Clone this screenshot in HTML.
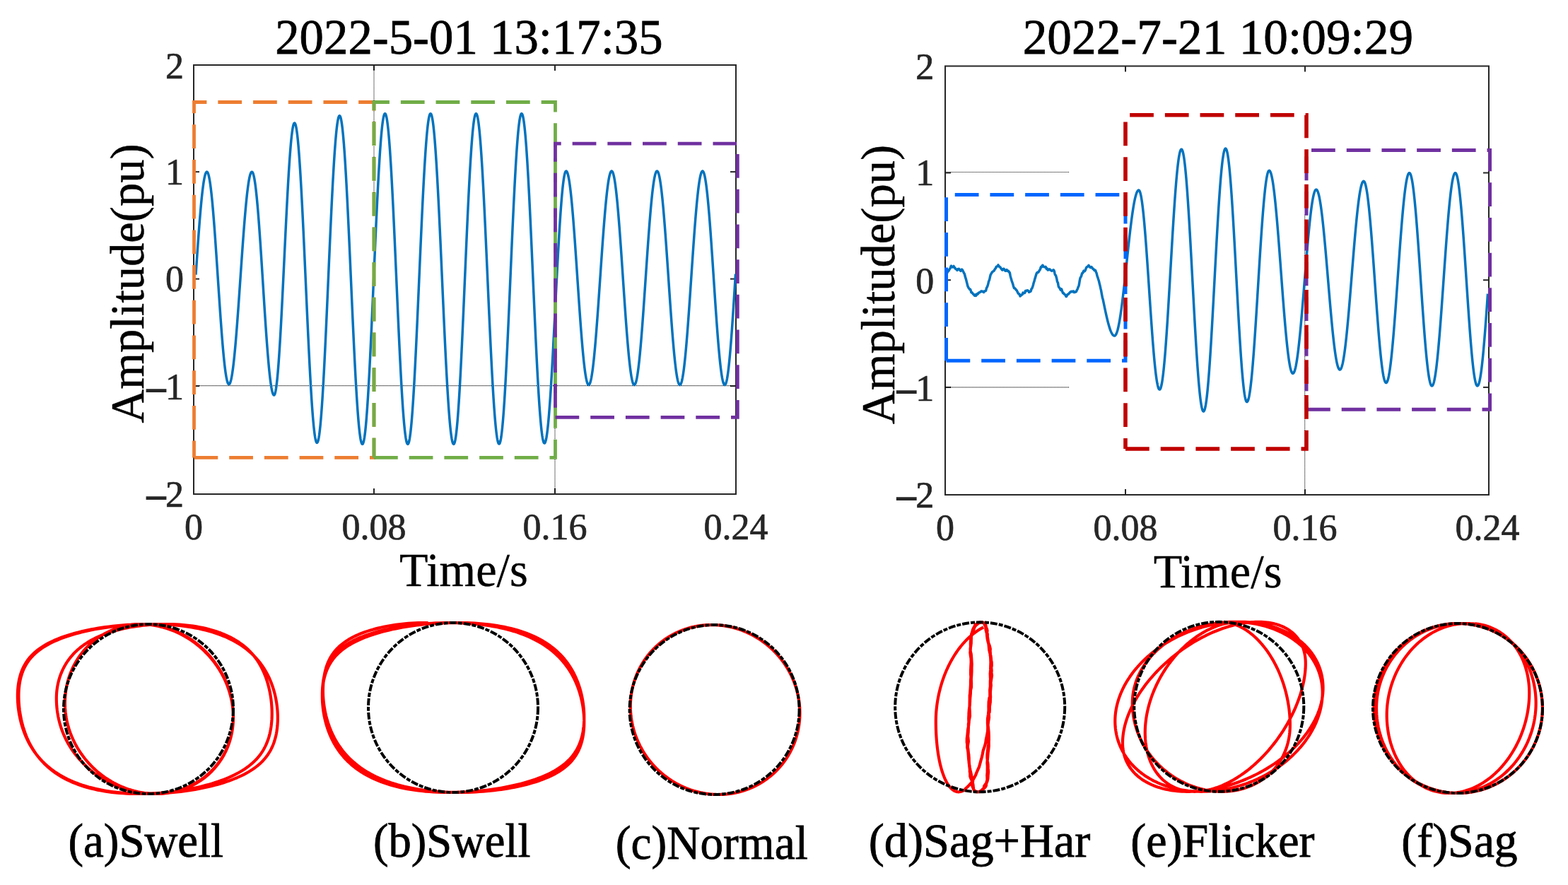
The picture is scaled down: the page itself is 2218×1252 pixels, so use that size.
<!DOCTYPE html>
<html><head><meta charset="utf-8"><title>figure</title>
<style>html,body{margin:0;padding:0;background:#fff;}svg{display:block;}</style>
</head><body>
<svg width="2218" height="1252" viewBox="0 0 2218 1252">
<rect width="2218" height="1252" fill="#fff"/>
<path d="M274 92 H1041 V699 H274 Z" fill="none" stroke="#262626" stroke-width="2" stroke-linejoin="miter"/>
<line x1="529" y1="699" x2="529" y2="691" stroke="#262626" stroke-width="2"/>
<line x1="529" y1="92" x2="529" y2="100" stroke="#262626" stroke-width="2"/>
<line x1="785" y1="699" x2="785" y2="691" stroke="#262626" stroke-width="2"/>
<line x1="785" y1="92" x2="785" y2="100" stroke="#262626" stroke-width="2"/>
<line x1="274" y1="243.1" x2="282" y2="243.1" stroke="#262626" stroke-width="2"/>
<line x1="1041" y1="243.1" x2="1033" y2="243.1" stroke="#262626" stroke-width="2"/>
<line x1="274" y1="394.6" x2="282" y2="394.6" stroke="#262626" stroke-width="2"/>
<line x1="1041" y1="394.6" x2="1033" y2="394.6" stroke="#262626" stroke-width="2"/>
<line x1="274" y1="546.1" x2="282" y2="546.1" stroke="#262626" stroke-width="2"/>
<line x1="1041" y1="546.1" x2="1033" y2="546.1" stroke="#262626" stroke-width="2"/>
<path d="M1337 93.5 H2106 V700 H1337 Z" fill="none" stroke="#262626" stroke-width="2" stroke-linejoin="miter"/>
<line x1="1592" y1="700" x2="1592" y2="692" stroke="#262626" stroke-width="2"/>
<line x1="1592" y1="93.5" x2="1592" y2="101.5" stroke="#262626" stroke-width="2"/>
<line x1="1846" y1="700" x2="1846" y2="692" stroke="#262626" stroke-width="2"/>
<line x1="1846" y1="93.5" x2="1846" y2="101.5" stroke="#262626" stroke-width="2"/>
<line x1="1337" y1="244.5" x2="1345" y2="244.5" stroke="#262626" stroke-width="2"/>
<line x1="2106" y1="244.5" x2="2098" y2="244.5" stroke="#262626" stroke-width="2"/>
<line x1="1337" y1="396.2" x2="1345" y2="396.2" stroke="#262626" stroke-width="2"/>
<line x1="2106" y1="396.2" x2="2098" y2="396.2" stroke="#262626" stroke-width="2"/>
<line x1="1337" y1="547.9" x2="1345" y2="547.9" stroke="#262626" stroke-width="2"/>
<line x1="2106" y1="547.9" x2="2098" y2="547.9" stroke="#262626" stroke-width="2"/>
<line x1="274" y1="545.6" x2="1041" y2="545.6" stroke="#000" stroke-width="1.1" stroke-dasharray="1 1"/>
<line x1="529" y1="93" x2="529" y2="290" stroke="#000" stroke-width="1.1" stroke-dasharray="1 1"/>
<line x1="785" y1="600" x2="785" y2="698" stroke="#000" stroke-width="1.1" stroke-dasharray="1 1"/>
<path d="M277 388.65 L277.5 381.23 L278 373.84 L278.5 366.5 L279 359.23 L279.5 352.05 L280 344.96 L280.5 338 L281 331.17 L281.5 324.5 L282 317.99 L282.5 311.67 L283 305.55 L283.5 299.64 L284 293.97 L284.5 288.53 L285 283.35 L285.5 278.44 L286 273.81 L286.5 269.46 L287 265.43 L287.5 261.7 L288 258.29 L288.5 255.21 L289 252.46 L289.5 250.06 L290 248.01 L290.5 246.31 L291 244.97 L291.5 243.98 L292 243.36 L292.5 243.11 L293 243.22 L293.5 243.72 L294 244.59 L294.5 245.84 L295 247.47 L295.5 249.46 L296 251.82 L296.5 254.54 L297 257.61 L297.5 261.02 L298 264.77 L298.5 268.85 L299 273.24 L299.5 277.94 L300 282.93 L300.5 288.19 L301 293.73 L301.5 299.52 L302 305.54 L302.5 311.79 L303 318.24 L303.5 324.89 L304 331.71 L304.5 338.68 L305 345.8 L305.5 353.03 L306 360.37 L306.5 367.79 L307 375.27 L307.5 382.8 L308 390.36 L308.5 397.93 L309 405.48 L309.5 413 L310 420.48 L310.5 427.88 L311 435.2 L311.5 442.41 L312 449.5 L312.5 456.44 L313 463.23 L313.5 469.84 L314 476.25 L314.5 482.46 L315 488.44 L315.5 494.18 L316 499.66 L316.5 504.87 L317 509.8 L317.5 514.44 L318 518.77 L318.5 522.78 L319 526.46 L319.5 529.81 L320 532.81 L320.5 535.46 L321 537.74 L321.5 539.66 L322 541.21 L322.5 542.39 L323 543.19 L323.5 543.61 L324 543.65 L324.5 543.33 L325 542.67 L325.5 541.65 L326 540.29 L326.5 538.59 L327 536.54 L327.5 534.17 L328 531.46 L328.5 528.43 L329 525.09 L329.5 521.43 L330 517.48 L330.5 513.24 L331 508.72 L331.5 503.93 L332 498.88 L332.5 493.59 L333 488.06 L333.5 482.31 L334 476.35 L334.5 470.2 L335 463.87 L335.5 457.38 L336 450.73 L336.5 443.95 L337 437.06 L337.5 430.06 L338 422.97 L338.5 415.82 L339 408.62 L339.5 401.37 L340 394.11 L340.5 386.85 L341 379.61 L341.5 372.39 L342 365.23 L342.5 358.13 L343 351.11 L343.5 344.19 L344 337.39 L344.5 330.72 L345 324.19 L345.5 317.83 L346 311.64 L346.5 305.64 L347 299.85 L347.5 294.27 L348 288.93 L348.5 283.83 L349 278.99 L349.5 274.41 L350 270.12 L350.5 266.11 L351 262.4 L351.5 258.99 L352 255.9 L352.5 253.13 L353 250.68 L353.5 248.57 L354 246.8 L354.5 245.37 L355 244.29 L355.5 243.55 L356 243.16 L356.5 243.13 L357 243.49 L357.5 244.24 L358 245.39 L358.5 246.93 L359 248.86 L359.5 251.18 L360 253.87 L360.5 256.93 L361 260.35 L361.5 264.13 L362 268.25 L362.5 272.71 L363 277.49 L363.5 282.58 L364 287.97 L364.5 293.64 L365 299.59 L365.5 305.78 L366 312.22 L366.5 318.89 L367 325.76 L367.5 332.82 L368 340.05 L368.5 347.43 L369 354.95 L369.5 362.59 L370 370.32 L370.5 378.13 L371 386 L371.5 393.91 L372 401.83 L372.5 409.75 L373 417.65 L373.5 425.51 L374 433.31 L374.5 441.02 L375 448.64 L375.5 456.13 L376 463.49 L376.5 470.69 L377 477.71 L377.5 484.54 L378 491.16 L378.5 497.55 L379 503.7 L379.5 509.59 L380 515.21 L380.5 520.54 L381 525.57 L381.5 530.29 L382 534.68 L382.5 538.73 L383 542.44 L383.5 545.79 L384 548.78 L384.5 551.39 L385 553.63 L385.5 555.48 L386 556.95 L386.5 558.02 L387 558.69 L387.5 558.97 L388 558.8 L388.5 558.06 L389 556.77 L389.5 554.91 L390 552.51 L390.5 549.56 L391 546.07 L391.5 542.05 L392 537.52 L392.5 532.49 L393 526.97 L393.5 520.98 L394 514.54 L394.5 507.66 L395 500.37 L395.5 492.69 L396 484.63 L396.5 476.23 L397 467.51 L397.5 458.49 L398 449.2 L398.5 439.67 L399 429.93 L399.5 420 L400 409.91 L400.5 399.69 L401 389.38 L401.5 379 L402 368.58 L402.5 358.16 L403 347.76 L403.5 337.42 L404 327.16 L404.5 317.01 L405 307.02 L405.5 297.19 L406 287.57 L406.5 278.18 L407 269.06 L407.5 260.21 L408 251.68 L408.5 243.48 L409 235.65 L409.5 228.2 L410 221.15 L410.5 214.54 L411 208.36 L411.5 202.65 L412 197.42 L412.5 192.69 L413 188.47 L413.5 184.77 L414 181.6 L414.5 178.98 L415 176.9 L415.5 175.38 L416 174.42 L416.5 174.03 L417 174.19 L417.5 174.91 L418 176.18 L418.5 177.99 L419 180.34 L419.5 183.24 L420 186.66 L420.5 190.6 L421 195.05 L421.5 200 L422 205.45 L422.5 211.36 L423 217.74 L423.5 224.56 L424 231.82 L424.5 239.48 L425 247.53 L425.5 255.96 L426 264.74 L426.5 273.85 L427 283.26 L427.5 292.97 L428 302.93 L428.5 313.13 L429 323.54 L429.5 334.15 L430 344.91 L430.5 355.8 L431 366.81 L431.5 377.9 L432 389.04 L432.5 400.21 L433 411.37 L433.5 422.51 L434 433.6 L434.5 444.61 L435 455.5 L435.5 466.27 L436 476.87 L436.5 487.28 L437 497.48 L437.5 507.45 L438 517.15 L438.5 526.57 L439 535.67 L439.5 544.45 L440 552.88 L440.5 560.93 L441 568.6 L441.5 575.85 L442 582.67 L442.5 589.05 L443 594.96 L443.5 600.41 L444 605.36 L444.5 609.81 L445 613.75 L445.5 617.18 L446 620.07 L446.5 622.42 L447 624.24 L447.5 625.5 L448 626.22 L448.5 626.38 L449 625.99 L449.5 625.04 L450 623.53 L450.5 621.47 L451 618.85 L451.5 615.7 L452 612.01 L452.5 607.79 L453 603.06 L453.5 597.82 L454 592.1 L454.5 585.89 L455 579.22 L455.5 572.11 L456 564.57 L456.5 556.61 L457 548.26 L457.5 539.55 L458 530.48 L458.5 521.08 L459 511.38 L459.5 501.4 L460 491.16 L460.5 480.68 L461 470 L461.5 459.14 L462 448.12 L462.5 436.97 L463 425.72 L463.5 414.4 L464 403.03 L464.5 391.64 L465 380.26 L465.5 368.91 L466 357.63 L466.5 346.44 L467 335.36 L467.5 324.43 L468 313.68 L468.5 303.12 L469 292.78 L469.5 282.69 L470 272.87 L470.5 263.35 L471 254.15 L471.5 245.29 L472 236.79 L472.5 228.68 L473 220.97 L473.5 213.68 L474 206.83 L474.5 200.44 L475 194.52 L475.5 189.08 L476 184.15 L476.5 179.73 L477 175.82 L477.5 172.45 L478 169.62 L478.5 167.34 L479 165.61 L479.5 164.43 L480 163.81 L480.5 163.76 L481 164.25 L481.5 165.29 L482 166.88 L482.5 169.01 L483 171.68 L483.5 174.88 L484 178.6 L484.5 182.83 L485 187.57 L485.5 192.8 L486 198.51 L486.5 204.69 L487 211.32 L487.5 218.39 L488 225.88 L488.5 233.77 L489 242.04 L489.5 250.68 L490 259.66 L490.5 268.97 L491 278.57 L491.5 288.46 L492 298.59 L492.5 308.96 L493 319.54 L493.5 330.29 L494 341.2 L494.5 352.24 L495 363.38 L495.5 374.6 L496 385.87 L496.5 397.17 L497 408.46 L497.5 419.72 L498 430.93 L498.5 442.06 L499 453.07 L499.5 463.95 L500 474.67 L500.5 485.21 L501 495.53 L501.5 505.62 L502 515.45 L502.5 524.99 L503 534.24 L503.5 543.15 L504 551.72 L504.5 559.92 L505 567.73 L505.5 575.14 L506 582.12 L506.5 588.66 L507 594.75 L507.5 600.36 L508 605.5 L508.5 610.14 L509 614.27 L509.5 617.88 L510 620.98 L510.5 623.54 L511 625.56 L511.5 627.04 L512 627.97 L512.5 628.35 L513 628.18 L513.5 627.45 L514 626.16 L514.5 624.31 L515 621.9 L515.5 618.95 L516 615.46 L516.5 611.43 L517 606.88 L517.5 601.83 L518 596.27 L518.5 590.22 L519 583.7 L519.5 576.73 L520 569.32 L520.5 561.49 L521 553.26 L521.5 544.64 L522 535.66 L522.5 526.34 L523 516.71 L523.5 506.78 L524 496.57 L524.5 486.13 L525 475.46 L525.5 464.6 L526 453.57 L526.5 442.39 L527 431.1 L527.5 419.73 L528 408.29 L528.5 396.82 L529 385.34 L529.5 373.89 L530 362.49 L530.5 351.16 L531 339.94 L531.5 328.84 L532 317.91 L532.5 307.16 L533 296.62 L533.5 286.32 L534 276.28 L534.5 266.52 L535 257.08 L535.5 247.96 L536 239.2 L536.5 230.81 L537 222.81 L537.5 215.23 L538 208.08 L538.5 201.38 L539 195.14 L539.5 189.39 L540 184.13 L540.5 179.37 L541 175.14 L541.5 171.43 L542 168.26 L542.5 165.64 L543 163.56 L543.5 162.05 L544 161.09 L544.5 160.7 L545 160.86 L545.5 161.58 L546 162.86 L546.5 164.69 L547 167.07 L547.5 169.98 L548 173.43 L548.5 177.41 L549 181.9 L549.5 186.9 L550 192.39 L550.5 198.37 L551 204.81 L551.5 211.7 L552 219.03 L552.5 226.77 L553 234.92 L553.5 243.44 L554 252.32 L554.5 261.54 L555 271.08 L555.5 280.91 L556 291.01 L556.5 301.36 L557 311.93 L557.5 322.7 L558 333.63 L558.5 344.72 L559 355.92 L559.5 367.21 L560 378.57 L560.5 389.96 L561 401.37 L561.5 412.76 L562 424.1 L562.5 435.38 L563 446.56 L563.5 457.61 L564 468.52 L564.5 479.25 L565 489.77 L565.5 500.08 L566 510.12 L566.5 519.9 L567 529.38 L567.5 538.53 L568 547.34 L568.5 555.79 L569 563.86 L569.5 571.52 L570 578.76 L570.5 585.56 L571 591.91 L571.5 597.79 L572 603.19 L572.5 608.09 L573 612.48 L573.5 616.35 L574 619.69 L574.5 622.5 L575 624.77 L575.5 626.49 L576 627.65 L576.5 628.26 L577 628.32 L577.5 627.82 L578 626.76 L578.5 625.16 L579 623 L579.5 620.3 L580 617.06 L580.5 613.29 L581 609.01 L581.5 604.21 L582 598.91 L582.5 593.13 L583 586.87 L583.5 580.16 L584 573 L584.5 565.42 L585 557.44 L585.5 549.06 L586 540.32 L586.5 531.23 L587 521.82 L587.5 512.1 L588 502.11 L588.5 491.85 L589 481.37 L589.5 470.68 L590 459.81 L590.5 448.78 L591 437.62 L591.5 426.37 L592 415.03 L592.5 403.65 L593 392.24 L593.5 380.84 L594 369.48 L594.5 358.17 L595 346.95 L595.5 335.84 L596 324.87 L596.5 314.07 L597 303.46 L597.5 293.06 L598 282.91 L598.5 273.02 L599 263.43 L599.5 254.14 L600 245.19 L600.5 236.59 L601 228.37 L601.5 220.54 L602 213.13 L602.5 206.15 L603 199.62 L603.5 193.55 L604 187.96 L604.5 182.86 L605 178.27 L605.5 174.19 L606 170.63 L606.5 167.61 L607 165.12 L607.5 163.18 L608 161.8 L608.5 160.96 L609 160.68 L609.5 160.95 L610 161.76 L610.5 163.11 L611 164.99 L611.5 167.4 L612 170.33 L612.5 173.78 L613 177.74 L613.5 182.2 L614 187.15 L614.5 192.58 L615 198.47 L615.5 204.82 L616 211.6 L616.5 218.81 L617 226.42 L617.5 234.42 L618 242.79 L618.5 251.5 L619 260.55 L619.5 269.91 L620 279.56 L620.5 289.47 L621 299.62 L621.5 309.99 L622 320.56 L622.5 331.29 L623 342.18 L623.5 353.18 L624 364.28 L624.5 375.45 L625 386.66 L625.5 397.89 L626 409.12 L626.5 420.31 L627 431.44 L627.5 442.48 L628 453.42 L628.5 464.22 L629 474.85 L629.5 485.31 L630 495.55 L630.5 505.56 L631 515.31 L631.5 524.79 L632 533.96 L632.5 542.82 L633 551.33 L633.5 559.48 L634 567.25 L634.5 574.62 L635 581.57 L635.5 588.09 L636 594.17 L636.5 599.79 L637 604.93 L637.5 609.58 L638 613.75 L638.5 617.4 L639 620.54 L639.5 623.16 L640 625.25 L640.5 626.81 L641 627.84 L641.5 628.32 L642 628.26 L642.5 627.63 L643 626.43 L643.5 624.65 L644 622.32 L644.5 619.42 L645 615.97 L645.5 611.98 L646 607.45 L646.5 602.4 L647 596.84 L647.5 590.79 L648 584.25 L648.5 577.24 L649 569.79 L649.5 561.91 L650 553.62 L650.5 544.93 L651 535.88 L651.5 526.48 L652 516.75 L652.5 506.73 L653 496.43 L653.5 485.88 L654 475.11 L654.5 464.13 L655 452.99 L655.5 441.71 L656 430.3 L656.5 418.81 L657 407.26 L657.5 395.68 L658 384.1 L658.5 372.54 L659 361.04 L659.5 349.61 L660 338.3 L660.5 327.13 L661 316.12 L661.5 305.31 L662 294.71 L662.5 284.36 L663 274.28 L663.5 264.49 L664 255.02 L664.5 245.9 L665 237.14 L665.5 228.77 L666 220.8 L666.5 213.26 L667 206.16 L667.5 199.53 L668 193.38 L668.5 187.72 L669 182.57 L669.5 177.93 L670 173.83 L670.5 170.28 L671 167.27 L671.5 164.82 L672 162.93 L672.5 161.61 L673 160.87 L673.5 160.69 L674 161.07 L674.5 162 L675 163.46 L675.5 165.45 L676 167.98 L676.5 171.03 L677 174.61 L677.5 178.69 L678 183.27 L678.5 188.34 L679 193.9 L679.5 199.91 L680 206.38 L680.5 213.28 L681 220.61 L681.5 228.34 L682 236.45 L682.5 244.93 L683 253.76 L683.5 262.91 L684 272.37 L684.5 282.11 L685 292.11 L685.5 302.35 L686 312.8 L686.5 323.45 L687 334.25 L687.5 345.2 L688 356.26 L688.5 367.41 L689 378.62 L689.5 389.87 L690 401.13 L690.5 412.37 L691 423.57 L691.5 434.71 L692 445.75 L692.5 456.67 L693 467.44 L693.5 478.05 L694 488.46 L694.5 498.66 L695 508.61 L695.5 518.29 L696 527.69 L696.5 536.78 L697 545.54 L697.5 553.95 L698 561.99 L698.5 569.64 L699 576.88 L699.5 583.7 L700 590.07 L700.5 596 L701 601.45 L701.5 606.43 L702 610.91 L702.5 614.89 L703 618.36 L703.5 621.31 L704 623.73 L704.5 625.62 L705 626.98 L705.5 627.79 L706 628.06 L706.5 627.78 L707 626.92 L707.5 625.5 L708 623.51 L708.5 620.97 L709 617.87 L709.5 614.23 L710 610.05 L710.5 605.35 L711 600.13 L711.5 594.41 L712 588.2 L712.5 581.51 L713 574.37 L713.5 566.8 L714 558.8 L714.5 550.4 L715 541.62 L715.5 532.48 L716 523 L716.5 513.21 L717 503.13 L717.5 492.79 L718 482.2 L718.5 471.4 L719 460.41 L719.5 449.26 L720 437.98 L720.5 426.59 L721 415.12 L721.5 403.6 L722 392.06 L722.5 380.53 L723 369.03 L723.5 357.59 L724 346.24 L724.5 335.01 L725 323.92 L725.5 313 L726 302.28 L726.5 291.79 L727 281.55 L727.5 271.58 L728 261.91 L728.5 252.57 L729 243.57 L729.5 234.94 L730 226.7 L730.5 218.87 L731 211.46 L731.5 204.5 L732 198.01 L732.5 191.99 L733 186.47 L733.5 181.45 L734 176.96 L734.5 172.99 L735 169.57 L735.5 166.69 L736 164.37 L736.5 162.61 L737 161.41 L737.5 160.79 L738 160.73 L738.5 161.22 L739 162.27 L739.5 163.86 L740 166 L740.5 168.68 L741 171.89 L741.5 175.62 L742 179.87 L742.5 184.62 L743 189.87 L743.5 195.61 L744 201.81 L744.5 208.46 L745 215.56 L745.5 223.07 L746 230.99 L746.5 239.3 L747 247.96 L747.5 256.98 L748 266.32 L748.5 275.96 L749 285.87 L749.5 296.05 L750 306.45 L750.5 317.06 L751 327.86 L751.5 338.81 L752 349.89 L752.5 361.07 L753 372.33 L753.5 383.64 L754 394.98 L754.5 406.31 L755 417.61 L755.5 428.86 L756 440.02 L756.5 451.08 L757 462 L757.5 472.76 L758 483.33 L758.5 493.69 L759 503.82 L759.5 513.68 L760 523.26 L760.5 532.54 L761 541.48 L761.5 550.08 L762 558.31 L762.5 566.15 L763 573.58 L763.5 580.59 L764 587.15 L764.5 593.26 L765 598.9 L765.5 604.05 L766 608.71 L766.5 612.85 L767 616.48 L767.5 619.59 L768 622.15 L768.5 624.18 L769 625.67 L769.5 626.6 L770 626.99 L770.5 626.84 L771 626.19 L771.5 625.03 L772 623.37 L772.5 621.23 L773 618.59 L773.5 615.47 L774 611.87 L774.5 607.82 L775 603.31 L775.5 598.35 L776 592.97 L776.5 587.18 L777 580.98 L777.5 574.4 L778 567.46 L778.5 560.16 L779 552.54 L779.5 544.61 L780 536.39 L780.5 527.9 L781 519.17 L781.5 510.22 L782 501.07 L782.5 491.75 L783 482.27 L783.5 472.67 L784 462.98 L784.5 453.2 L785 443.38 L785.5 433.54 L786 423.69 L786.5 413.88 L787 404.12 L787.5 394.44 L788 384.86 L788.5 375.42 L789 366.12 L789.5 357.01 L790 348.1 L790.5 339.42 L791 330.99 L791.5 322.82 L792 314.95 L792.5 307.39 L793 300.17 L793.5 293.29 L794 286.79 L794.5 280.67 L795 274.96 L795.5 269.66 L796 264.8 L796.5 260.38 L797 256.41 L797.5 252.91 L798 249.89 L798.5 247.35 L799 245.3 L799.5 243.74 L800 242.68 L800.5 242.13 L801 242.07 L801.5 242.4 L802 243.09 L802.5 244.15 L803 245.58 L803.5 247.36 L804 249.49 L804.5 251.97 L805 254.8 L805.5 257.96 L806 261.45 L806.5 265.25 L807 269.37 L807.5 273.79 L808 278.5 L808.5 283.49 L809 288.74 L809.5 294.25 L810 300 L810.5 305.97 L811 312.16 L811.5 318.54 L812 325.1 L812.5 331.83 L813 338.71 L813.5 345.72 L814 352.84 L814.5 360.07 L815 367.37 L815.5 374.74 L816 382.15 L816.5 389.59 L817 397.04 L817.5 404.48 L818 411.89 L818.5 419.25 L819 426.56 L819.5 433.78 L820 440.91 L820.5 447.92 L821 454.8 L821.5 461.52 L822 468.09 L822.5 474.47 L823 480.65 L823.5 486.63 L824 492.37 L824.5 497.88 L825 503.14 L825.5 508.12 L826 512.83 L826.5 517.25 L827 521.37 L827.5 525.18 L828 528.67 L828.5 531.83 L829 534.65 L829.5 537.14 L830 539.27 L830.5 541.05 L831 542.47 L831.5 543.53 L832 544.23 L832.5 544.56 L833 544.52 L833.5 544.13 L834 543.39 L834.5 542.3 L835 540.86 L835.5 539.08 L836 536.95 L836.5 534.49 L837 531.7 L837.5 528.59 L838 525.16 L838.5 521.43 L839 517.39 L839.5 513.06 L840 508.46 L840.5 503.59 L841 498.45 L841.5 493.08 L842 487.47 L842.5 481.64 L843 475.6 L843.5 469.37 L844 462.96 L844.5 456.39 L845 449.68 L845.5 442.83 L846 435.87 L846.5 428.8 L847 421.66 L847.5 414.45 L848 407.18 L848.5 399.89 L849 392.58 L849.5 385.27 L850 377.98 L850.5 370.73 L851 363.53 L851.5 356.4 L852 349.36 L852.5 342.41 L853 335.59 L853.5 328.9 L854 322.37 L854.5 315.99 L855 309.8 L855.5 303.81 L856 298.02 L856.5 292.45 L857 287.12 L857.5 282.04 L858 277.22 L858.5 272.67 L859 268.4 L859.5 264.43 L860 260.75 L860.5 257.38 L861 254.34 L861.5 251.61 L862 249.22 L862.5 247.16 L863 245.45 L863.5 244.08 L864 243.06 L864.5 242.39 L865 242.07 L865.5 242.11 L866 242.51 L866.5 243.27 L867 244.4 L867.5 245.88 L868 247.72 L868.5 249.91 L869 252.44 L869.5 255.32 L870 258.53 L870.5 262.06 L871 265.91 L871.5 270.06 L872 274.52 L872.5 279.25 L873 284.27 L873.5 289.54 L874 295.07 L874.5 300.83 L875 306.82 L875.5 313.01 L876 319.4 L876.5 325.96 L877 332.69 L877.5 339.56 L878 346.57 L878.5 353.68 L879 360.89 L879.5 368.18 L880 375.53 L880.5 382.92 L881 390.34 L881.5 397.77 L882 405.18 L882.5 412.57 L883 419.91 L883.5 427.18 L884 434.37 L884.5 441.47 L885 448.45 L885.5 455.29 L886 461.99 L886.5 468.52 L887 474.87 L887.5 481.02 L888 486.96 L888.5 492.68 L889 498.16 L889.5 503.38 L890 508.34 L890.5 513.02 L891 517.42 L891.5 521.51 L892 525.3 L892.5 528.76 L893 531.91 L893.5 534.71 L894 537.18 L894.5 539.3 L895 541.07 L895.5 542.48 L896 543.54 L896.5 544.23 L897 544.56 L897.5 544.52 L898 544.12 L898.5 543.37 L899 542.26 L899.5 540.79 L900 538.98 L900.5 536.81 L901 534.31 L901.5 531.47 L902 528.3 L902.5 524.81 L903 521 L903.5 516.9 L904 512.5 L904.5 507.81 L905 502.86 L905.5 497.64 L906 492.17 L906.5 486.47 L907 480.55 L907.5 474.42 L908 468.09 L908.5 461.59 L909 454.93 L909.5 448.12 L910 441.18 L910.5 434.13 L911 426.97 L911.5 419.74 L912 412.45 L912.5 405.11 L913 397.74 L913.5 390.36 L914 382.99 L914.5 375.64 L915 368.34 L915.5 361.09 L916 353.92 L916.5 346.85 L917 339.88 L917.5 333.05 L918 326.35 L918.5 319.82 L919 313.46 L919.5 307.29 L920 301.32 L920.5 295.57 L921 290.06 L921.5 284.79 L922 279.78 L922.5 275.04 L923 270.58 L923.5 266.42 L924 262.55 L924.5 259 L925 255.77 L925.5 252.86 L926 250.29 L926.5 248.05 L927 246.17 L927.5 244.63 L928 243.45 L928.5 242.62 L929 242.15 L929.5 242.05 L930 242.3 L930.5 242.9 L931 243.87 L931.5 245.18 L932 246.85 L932.5 248.86 L933 251.22 L933.5 253.91 L934 256.93 L934.5 260.27 L935 263.93 L935.5 267.89 L936 272.15 L936.5 276.7 L937 281.52 L937.5 286.61 L938 291.95 L938.5 297.52 L939 303.33 L939.5 309.35 L940 315.56 L940.5 321.96 L941 328.53 L941.5 335.25 L942 342.11 L942.5 349.09 L943 356.18 L943.5 363.35 L944 370.59 L944.5 377.89 L945 385.22 L945.5 392.58 L946 399.93 L946.5 407.27 L947 414.58 L947.5 421.83 L948 429.02 L948.5 436.12 L949 443.13 L949.5 450.01 L950 456.76 L950.5 463.36 L951 469.8 L951.5 476.05 L952 482.11 L952.5 487.96 L953 493.58 L953.5 498.97 L954 504.11 L954.5 508.98 L955 513.59 L955.5 517.9 L956 521.93 L956.5 525.65 L957 529.05 L957.5 532.14 L958 534.89 L958.5 537.32 L959 539.4 L959.5 541.14 L960 542.52 L960.5 543.56 L961 544.23 L961.5 544.56 L962 544.52 L962.5 544.12 L963 543.36 L963.5 542.24 L964 540.77 L964.5 538.94 L965 536.76 L965.5 534.24 L966 531.39 L966.5 528.2 L967 524.69 L967.5 520.86 L968 516.73 L968.5 512.3 L969 507.59 L969.5 502.61 L970 497.36 L970.5 491.87 L971 486.13 L971.5 480.18 L972 474.02 L972.5 467.66 L973 461.13 L973.5 454.43 L974 447.59 L974.5 440.62 L975 433.54 L975.5 426.35 L976 419.09 L976.5 411.77 L977 404.41 L977.5 397.01 L978 389.61 L978.5 382.22 L979 374.85 L979.5 367.53 L980 360.27 L980.5 353.09 L981 346 L981.5 339.03 L982 332.19 L982.5 325.49 L983 318.96 L983.5 312.61 L984 306.44 L984.5 300.49 L985 294.76 L985.5 289.26 L986 284.02 L986.5 279.03 L987 274.32 L987.5 269.89 L988 265.76 L988.5 261.94 L989 258.43 L989.5 255.24 L990 252.38 L990.5 249.86 L991 247.68 L991.5 245.86 L992 244.38 L992.5 243.26 L993 242.5 L993.5 242.1 L994 242.07 L994.5 242.41 L995 243.13 L995.5 244.22 L996 245.69 L996.5 247.53 L997 249.73 L997.5 252.29 L998 255.2 L998.5 258.46 L999 262.05 L999.5 265.98 L1000 270.22 L1000.5 274.77 L1001 279.62 L1001.5 284.75 L1002 290.16 L1002.5 295.82 L1003 301.72 L1003.5 307.86 L1004 314.21 L1004.5 320.75 L1005 327.48 L1005.5 334.38 L1006 341.42 L1006.5 348.59 L1007 355.87 L1007.5 363.24 L1008 370.69 L1008.5 378.2 L1009 385.75 L1009.5 393.31 L1010 400.88 L1010.5 408.42 L1011 415.93 L1011.5 423.38 L1012 430.76 L1012.5 438.04 L1013 445.21 L1013.5 452.25 L1014 459.14 L1014.5 465.87 L1015 472.42 L1015.5 478.77 L1016 484.9 L1016.5 490.81 L1017 496.47 L1017.5 501.87 L1018 507 L1018.5 511.85 L1019 516.4 L1019.5 520.65 L1020 524.57 L1020.5 528.17 L1021 531.42 L1021.5 534.34 L1022 536.9 L1022.5 539.1 L1023 540.94 L1023.5 542.4 L1024 543.5 L1024.5 544.21 L1025 544.55 L1025.5 544.51 L1026 544.05 L1026.5 543.17 L1027 541.88 L1027.5 540.18 L1028 538.07 L1028.5 535.55 L1029 532.65 L1029.5 529.36 L1030 525.69 L1030.5 521.66 L1031 517.27 L1031.5 512.54 L1032 507.48 L1032.5 502.11 L1033 496.43 L1033.5 490.47 L1034 484.24 L1034.5 477.76 L1035 471.04 L1035.5 464.11 L1036 456.99 L1036.5 449.69 L1037 442.23 L1037.5 434.65 L1038 426.94 L1038.5 419.15 L1039 411.28 L1039.5 403.37 L1040 395.43 L1040.5 387.49" fill="none" stroke="#0072BD" stroke-width="3.5" stroke-linejoin="round" stroke-linecap="butt" />
<path d="M274.5 647.4 H529 V144.5 H274.5 V647.4" fill="none" stroke="#ED7D31" stroke-width="4.8" stroke-dasharray="33.75 15.95" stroke-linejoin="miter" stroke-linecap="butt"/>
<path d="M529 647.4 H785.5 V144.5 H529 V647.4" fill="none" stroke="#70AD47" stroke-width="4.8" stroke-dasharray="33.75 15.95" stroke-linejoin="miter" stroke-linecap="butt"/>
<path d="M785.5 590.4 H1043.3 V203.2 H785.5 V590.4" fill="none" stroke="#7030A0" stroke-width="4.8" stroke-dasharray="33.75 15.95" stroke-linejoin="miter" stroke-linecap="butt"/>
<line x1="1337" y1="243.5" x2="1512" y2="243.5" stroke="#000" stroke-width="1.1" stroke-dasharray="1 1"/>
<line x1="1337" y1="547.9" x2="1513" y2="547.9" stroke="#000" stroke-width="1.1" stroke-dasharray="1 1"/>
<line x1="1845.7" y1="304" x2="1845.7" y2="699" stroke="#000" stroke-width="1.1" stroke-dasharray="1 1"/>
<path d="M1339 385.85 L1339.5 385.79 L1340 385.65 L1340.5 384.14 L1341 382.74 L1341.5 382.76 L1342 383.11 L1342.5 382.2 L1343 380.81 L1343.5 380.25 L1344 379.85 L1344.5 378.65 L1345 376.86 L1345.5 376.17 L1346 376.96 L1346.5 377.21 L1347 377.39 L1347.5 377.9 L1348 377.64 L1348.5 376.91 L1349 376.43 L1349.5 377.4 L1350 378.45 L1350.5 378.39 L1351 379.23 L1351.5 380.47 L1352 380.66 L1352.5 380.82 L1353 381.08 L1353.5 381.6 L1354 382.34 L1354.5 381.71 L1355 380.64 L1355.5 380.44 L1356 380.46 L1356.5 380.37 L1357 380.96 L1357.5 381.83 L1358 382.24 L1358.5 382.88 L1359 383.31 L1359.5 382.88 L1360 381.55 L1360.5 381.11 L1361 381.56 L1361.5 381.93 L1362 383.04 L1362.5 383.97 L1363 384.98 L1363.5 386.37 L1364 386.77 L1364.5 387.86 L1365 390.28 L1365.5 392.17 L1366 393.59 L1366.5 395.12 L1367 397.18 L1367.5 399.3 L1368 401.1 L1368.5 403.37 L1369 405.01 L1369.5 405.87 L1370 407.19 L1370.5 407.78 L1371 408.2 L1371.5 409.22 L1372 409.3 L1372.5 409.26 L1373 410.4 L1373.5 412.36 L1374 413.82 L1374.5 413.87 L1375 413.82 L1375.5 414.59 L1376 415.26 L1376.5 415.7 L1377 416.48 L1377.5 416.93 L1378 417.33 L1378.5 418.23 L1379 417.91 L1379.5 416.81 L1380 417.39 L1380.5 418.43 L1381 417.85 L1381.5 416.53 L1382 415.79 L1382.5 415.9 L1383 416.13 L1383.5 415.54 L1384 414.44 L1384.5 414.05 L1385 414.15 L1385.5 413.95 L1386 413.39 L1386.5 412.98 L1387 412.93 L1387.5 412.41 L1388 411.84 L1388.5 412.22 L1389 412.38 L1389.5 412.04 L1390 412.23 L1390.5 412.5 L1391 413.13 L1391.5 413.45 L1392 412.55 L1392.5 411.95 L1393 411.85 L1393.5 411.7 L1394 411.69 L1394.5 411.2 L1395 409.47 L1395.5 407.38 L1396 406.52 L1396.5 405.81 L1397 404.21 L1397.5 402.68 L1398 400.69 L1398.5 398.38 L1399 397.17 L1399.5 396.12 L1400 393.96 L1400.5 391.54 L1401 389.48 L1401.5 388.14 L1402 387.47 L1402.5 386.42 L1403 385.62 L1403.5 385.15 L1404 384.33 L1404.5 384.13 L1405 383.95 L1405.5 383.35 L1406 383.15 L1406.5 382.43 L1407 381.25 L1407.5 380.57 L1408 380.09 L1408.5 379.25 L1409 378.02 L1409.5 377.22 L1410 377.08 L1410.5 376.73 L1411 376.67 L1411.5 376.09 L1412 374.92 L1412.5 375.92 L1413 376.98 L1413.5 376.84 L1414 377.48 L1414.5 377.73 L1415 377.99 L1415.5 379.16 L1416 379.98 L1416.5 380.3 L1417 380.91 L1417.5 381.87 L1418 382.04 L1418.5 381.22 L1419 380.55 L1419.5 380.3 L1420 380.22 L1420.5 380.95 L1421 381.9 L1421.5 382.62 L1422 383.33 L1422.5 383.3 L1423 382.67 L1423.5 381.85 L1424 381.65 L1424.5 382.33 L1425 383.12 L1425.5 383.54 L1426 383.32 L1426.5 383.23 L1427 384.14 L1427.5 384.98 L1428 385.19 L1428.5 386.64 L1429 389.33 L1429.5 391.64 L1430 393.39 L1430.5 395.06 L1431 396.83 L1431.5 398.42 L1432 399.75 L1432.5 401.06 L1433 402.87 L1433.5 404.81 L1434 406.22 L1434.5 407.5 L1435 407.89 L1435.5 407.83 L1436 408.32 L1436.5 408.77 L1437 409.72 L1437.5 410.33 L1438 410.56 L1438.5 411.46 L1439 412.45 L1439.5 413.54 L1440 414.57 L1440.5 415.41 L1441 415.74 L1441.5 415.81 L1442 416.27 L1442.5 417.46 L1443 419 L1443.5 418.75 L1444 417.95 L1444.5 417.76 L1445 417.08 L1445.5 416.84 L1446 416.84 L1446.5 415.52 L1447 414.18 L1447.5 414.43 L1448 414.85 L1448.5 414.64 L1449 414.53 L1449.5 414.51 L1450 413.24 L1450.5 411.56 L1451 411.51 L1451.5 411.84 L1452 411.33 L1452.5 411 L1453 411.01 L1453.5 410.75 L1454 411.12 L1454.5 411.45 L1455 411.98 L1455.5 413.34 L1456 413.22 L1456.5 412.5 L1457 412.58 L1457.5 412.38 L1458 412.08 L1458.5 410.74 L1459 408.7 L1459.5 408.2 L1460 407.64 L1460.5 406.15 L1461 404.77 L1461.5 403 L1462 400.78 L1462.5 399.14 L1463 397.93 L1463.5 395.81 L1464 394.08 L1464.5 392.64 L1465 390.74 L1465.5 389.14 L1466 387.42 L1466.5 386.31 L1467 385.88 L1467.5 385.28 L1468 385.2 L1468.5 385.48 L1469 384.87 L1469.5 383.95 L1470 383.17 L1470.5 382.29 L1471 381.73 L1471.5 380.86 L1472 378.81 L1472.5 377.68 L1473 378.13 L1473.5 377.91 L1474 376.75 L1474.5 375.39 L1475 375.24 L1475.5 376.42 L1476 377.02 L1476.5 377.2 L1477 377.73 L1477.5 377.81 L1478 377.68 L1478.5 377.7 L1479 377.31 L1479.5 377.96 L1480 379.73 L1480.5 380.63 L1481 380.24 L1481.5 379.98 L1482 381.18 L1482.5 382.05 L1483 381.51 L1483.5 381.34 L1484 381.31 L1484.5 380.83 L1485 381 L1485.5 381.72 L1486 382.22 L1486.5 382.18 L1487 382.63 L1487.5 383.15 L1488 382.91 L1488.5 382.91 L1489 383.03 L1489.5 382.55 L1490 381.79 L1490.5 382.08 L1491 382.9 L1491.5 384.22 L1492 386.83 L1492.5 388.75 L1493 389.06 L1493.5 389.71 L1494 391.44 L1494.5 393.14 L1495 395.5 L1495.5 398.27 L1496 399.34 L1496.5 400.36 L1497 403.35 L1497.5 405.81 L1498 406.49 L1498.5 406.9 L1499 407.69 L1499.5 408.62 L1500 409.68 L1500.5 410.36 L1501 409.56 L1501.5 408.85 L1502 410.15 L1502.5 411.91 L1503 413.27 L1503.5 414.44 L1504 414.4 L1504.5 414.75 L1505 415.8 L1505.5 416.13 L1506 416.32 L1506.5 416.73 L1507 417.38 L1507.5 418.45 L1508 419.56 L1508.5 419.5 L1509 418.49 L1509.5 417.64 L1510 416.76 L1510.5 416.19 L1511 416.42 L1511.5 416.08 L1512 415.25 L1512.5 414.7 L1513 414.29 L1513.5 413.75 L1514 413.08 L1514.5 412.81 L1515 412.58 L1515.5 412.2 L1516 412.32 L1516.5 412.85 L1517 412.75 L1517.5 412.47 L1518 412.04 L1518.5 411.93 L1519 413.02 L1519.5 413.69 L1520 413.19 L1520.5 412.95 L1521 413.16 L1521.5 412.86 L1522 412.75 L1522.5 412.42 L1523 411.12 L1523.5 409.96 L1524 409.27 L1524.5 408.12 L1525 406.45 L1525.5 405.52 L1526 404.53 L1526.5 401.91 L1527 398.74 L1527.5 395.8 L1528 393.46 L1528.5 392.35 L1529 391.72 L1529.5 390.7 L1530 388.92 L1530.5 387 L1531 386.23 L1531.5 386.24 L1532 385.42 L1532.5 383.94 L1533 383.14 L1533.5 383.49 L1534 383.91 L1534.5 383.55 L1535 382.84 L1535.5 381.77 L1536 380.17 L1536.5 378.91 L1537 378.09 L1537.5 377.61 L1538 377.46 L1538.5 377.06 L1539 376.65 L1539.5 375.96 L1540 375.35 L1540.5 376.24 L1541 377.32 L1541.5 377.32 L1542 377.73 L1542.5 378.56 L1543 378.39 L1543.5 377.5 L1544 377.72 L1544.5 378.82 L1545 378.98 L1545.5 379.49 L1546 380.52 L1546.5 380.73 L1547 380.65 L1547.5 381.46 L1548 382.59 L1548.5 382.65 L1549 382.21 L1549.5 382.43 L1550 383.67 L1550.5 385.23 L1551 386.15 L1551.5 388.11 L1552 390.42 L1552.5 391.63 L1553 393.02 L1553.5 394.72 L1554 396.24 L1554.5 397.81 L1555 400.07 L1555.5 402.3 L1556 404.02 L1556.5 406.39 L1557 408.68 L1557.5 410.62 L1558 413.44 L1558.5 416.33 L1559 418.95 L1559.5 421.56 L1560 422.8 L1560.5 425.2 L1561 427.6 L1561.5 430.01 L1562 432.41 L1562.5 434.79 L1563 437.16 L1563.5 439.5 L1564 441.82 L1564.5 444.09 L1565 446.33 L1565.5 448.51 L1566 450.65 L1566.5 452.72 L1567 454.73 L1567.5 456.67 L1568 458.53 L1568.5 460.32 L1569 462.02 L1569.5 463.63 L1570 465.15 L1570.5 466.57 L1571 467.9 L1571.5 469.12 L1572 470.23 L1572.5 471.24 L1573 472.13 L1573.5 472.91 L1574 473.57 L1574.5 474.11 L1575 474.54 L1575.5 474.84 L1576 475.02 L1576.5 475.08 L1577 474.98 L1577.5 474.65 L1578 474.11 L1578.5 473.36 L1579 472.4 L1579.5 471.22 L1580 469.84 L1580.5 468.25 L1581 466.46 L1581.5 464.47 L1582 462.29 L1582.5 459.92 L1583 457.36 L1583.5 454.63 L1584 451.72 L1584.5 448.65 L1585 445.41 L1585.5 442.03 L1586 438.49 L1586.5 434.82 L1587 431.01 L1587.5 427.08 L1588 423.04 L1588.5 418.88 L1589 414.64 L1589.5 410.3 L1590 405.88 L1590.5 401.39 L1591 396.84 L1591.5 392.23 L1592 387.59 L1592.5 382.91 L1593 378.21 L1593.5 373.49 L1594 368.78 L1594.5 364.07 L1595 359.38 L1595.5 354.71 L1596 350.08 L1596.5 345.5 L1597 340.97 L1597.5 336.51 L1598 332.12 L1598.5 327.81 L1599 323.6 L1599.5 319.49 L1600 315.49 L1600.5 311.61 L1601 307.86 L1601.5 304.24 L1602 300.76 L1602.5 297.43 L1603 294.26 L1603.5 291.25 L1604 288.42 L1604.5 285.75 L1605 283.27 L1605.5 280.98 L1606 278.87 L1606.5 276.96 L1607 275.25 L1607.5 273.74 L1608 272.44 L1608.5 271.35 L1609 270.47 L1609.5 269.8 L1610 269.35 L1610.5 269.11 L1611 269.11 L1611.5 269.47 L1612 270.23 L1612.5 271.38 L1613 272.93 L1613.5 274.86 L1614 277.18 L1614.5 279.88 L1615 282.95 L1615.5 286.37 L1616 290.15 L1616.5 294.27 L1617 298.71 L1617.5 303.47 L1618 308.53 L1618.5 313.88 L1619 319.51 L1619.5 325.39 L1620 331.51 L1620.5 337.85 L1621 344.4 L1621.5 351.13 L1622 358.03 L1622.5 365.08 L1623 372.26 L1623.5 379.54 L1624 386.91 L1624.5 394.35 L1625 401.83 L1625.5 409.33 L1626 416.84 L1626.5 424.32 L1627 431.77 L1627.5 439.15 L1628 446.45 L1628.5 453.65 L1629 460.73 L1629.5 467.66 L1630 474.43 L1630.5 481.02 L1631 487.4 L1631.5 493.57 L1632 499.5 L1632.5 505.17 L1633 510.58 L1633.5 515.7 L1634 520.52 L1634.5 525.03 L1635 529.22 L1635.5 533.06 L1636 536.56 L1636.5 539.7 L1637 542.47 L1637.5 544.86 L1638 546.88 L1638.5 548.5 L1639 549.74 L1639.5 550.57 L1640 551.01 L1640.5 551.05 L1641 550.66 L1641.5 549.82 L1642 548.55 L1642.5 546.85 L1643 544.72 L1643.5 542.17 L1644 539.2 L1644.5 535.82 L1645 532.05 L1645.5 527.88 L1646 523.33 L1646.5 518.42 L1647 513.15 L1647.5 507.54 L1648 501.6 L1648.5 495.36 L1649 488.81 L1649.5 481.99 L1650 474.91 L1650.5 467.59 L1651 460.04 L1651.5 452.29 L1652 444.35 L1652.5 436.26 L1653 428.01 L1653.5 419.65 L1654 411.19 L1654.5 402.65 L1655 394.05 L1655.5 385.43 L1656 376.79 L1656.5 368.16 L1657 359.56 L1657.5 351.02 L1658 342.56 L1658.5 334.2 L1659 325.96 L1659.5 317.86 L1660 309.92 L1660.5 302.17 L1661 294.62 L1661.5 287.3 L1662 280.22 L1662.5 273.4 L1663 266.85 L1663.5 260.61 L1664 254.67 L1664.5 249.06 L1665 243.79 L1665.5 238.88 L1666 234.33 L1666.5 230.17 L1667 226.39 L1667.5 223.01 L1668 220.04 L1668.5 217.49 L1669 215.36 L1669.5 213.66 L1670 212.39 L1670.5 211.56 L1671 211.16 L1671.5 211.21 L1672 211.73 L1672.5 212.71 L1673 214.16 L1673.5 216.08 L1674 218.45 L1674.5 221.27 L1675 224.54 L1675.5 228.24 L1676 232.37 L1676.5 236.91 L1677 241.86 L1677.5 247.21 L1678 252.93 L1678.5 259.01 L1679 265.44 L1679.5 272.21 L1680 279.29 L1680.5 286.67 L1681 294.32 L1681.5 302.24 L1682 310.39 L1682.5 318.77 L1683 327.34 L1683.5 336.08 L1684 344.98 L1684.5 354.01 L1685 363.15 L1685.5 372.37 L1686 381.66 L1686.5 390.98 L1687 400.31 L1687.5 409.64 L1688 418.93 L1688.5 428.17 L1689 437.33 L1689.5 446.38 L1690 455.31 L1690.5 464.08 L1691 472.69 L1691.5 481.11 L1692 489.31 L1692.5 497.27 L1693 504.98 L1693.5 512.42 L1694 519.56 L1694.5 526.39 L1695 532.89 L1695.5 539.04 L1696 544.84 L1696.5 550.26 L1697 555.29 L1697.5 559.91 L1698 564.13 L1698.5 567.92 L1699 571.27 L1699.5 574.18 L1700 576.64 L1700.5 578.65 L1701 580.19 L1701.5 581.27 L1702 581.88 L1702.5 582.02 L1703 581.69 L1703.5 580.89 L1704 579.62 L1704.5 577.89 L1705 575.7 L1705.5 573.05 L1706 569.95 L1706.5 566.41 L1707 562.44 L1707.5 558.04 L1708 553.24 L1708.5 548.04 L1709 542.45 L1709.5 536.49 L1710 530.18 L1710.5 523.53 L1711 516.55 L1711.5 509.27 L1712 501.7 L1712.5 493.86 L1713 485.78 L1713.5 477.47 L1714 468.95 L1714.5 460.24 L1715 451.38 L1715.5 442.37 L1716 433.25 L1716.5 424.03 L1717 414.74 L1717.5 405.41 L1718 396.05 L1718.5 386.69 L1719 377.35 L1719.5 368.06 L1720 358.85 L1720.5 349.72 L1721 340.72 L1721.5 331.85 L1722 323.15 L1722.5 314.63 L1723 306.32 L1723.5 298.23 L1724 290.4 L1724.5 282.83 L1725 275.55 L1725.5 268.57 L1726 261.92 L1726.5 255.6 L1727 249.64 L1727.5 244.06 L1728 238.86 L1728.5 234.05 L1729 229.66 L1729.5 225.69 L1730 222.15 L1730.5 219.05 L1731 216.4 L1731.5 214.21 L1732 212.47 L1732.5 211.2 L1733 210.4 L1733.5 210.07 L1734 210.22 L1734.5 210.85 L1735 211.96 L1735.5 213.55 L1736 215.62 L1736.5 218.16 L1737 221.16 L1737.5 224.61 L1738 228.51 L1738.5 232.85 L1739 237.61 L1739.5 242.78 L1740 248.34 L1740.5 254.29 L1741 260.6 L1741.5 267.26 L1742 274.25 L1742.5 281.55 L1743 289.14 L1743.5 297 L1744 305.12 L1744.5 313.46 L1745 322 L1745.5 330.73 L1746 339.62 L1746.5 348.64 L1747 357.77 L1747.5 366.98 L1748 376.26 L1748.5 385.57 L1749 394.89 L1749.5 404.2 L1750 413.46 L1750.5 422.66 L1751 431.77 L1751.5 440.77 L1752 449.62 L1752.5 458.32 L1753 466.82 L1753.5 475.12 L1754 483.19 L1754.5 491 L1755 498.53 L1755.5 505.77 L1756 512.7 L1756.5 519.29 L1757 525.53 L1757.5 531.4 L1758 536.89 L1758.5 541.97 L1759 546.65 L1759.5 550.9 L1760 554.71 L1760.5 558.07 L1761 560.98 L1761.5 563.43 L1762 565.4 L1762.5 566.89 L1763 567.91 L1763.5 568.44 L1764 568.5 L1764.5 568.13 L1765 567.36 L1765.5 566.19 L1766 564.61 L1766.5 562.64 L1767 560.27 L1767.5 557.52 L1768 554.39 L1768.5 550.88 L1769 547.02 L1769.5 542.8 L1770 538.24 L1770.5 533.34 L1771 528.13 L1771.5 522.61 L1772 516.8 L1772.5 510.71 L1773 504.36 L1773.5 497.76 L1774 490.93 L1774.5 483.88 L1775 476.64 L1775.5 469.22 L1776 461.65 L1776.5 453.93 L1777 446.08 L1777.5 438.14 L1778 430.11 L1778.5 422.02 L1779 413.89 L1779.5 405.74 L1780 397.58 L1780.5 389.44 L1781 381.35 L1781.5 373.3 L1782 365.34 L1782.5 357.48 L1783 349.73 L1783.5 342.12 L1784 334.67 L1784.5 327.39 L1785 320.31 L1785.5 313.43 L1786 306.79 L1786.5 300.38 L1787 294.24 L1787.5 288.37 L1788 282.79 L1788.5 277.52 L1789 272.56 L1789.5 267.93 L1790 263.64 L1790.5 259.71 L1791 256.13 L1791.5 252.92 L1792 250.1 L1792.5 247.65 L1793 245.6 L1793.5 243.94 L1794 242.69 L1794.5 241.83 L1795 241.39 L1795.5 241.34 L1796 241.62 L1796.5 242.22 L1797 243.13 L1797.5 244.36 L1798 245.89 L1798.5 247.73 L1799 249.87 L1799.5 252.3 L1800 255.03 L1800.5 258.04 L1801 261.33 L1801.5 264.9 L1802 268.72 L1802.5 272.8 L1803 277.13 L1803.5 281.7 L1804 286.49 L1804.5 291.49 L1805 296.71 L1805.5 302.11 L1806 307.7 L1806.5 313.46 L1807 319.37 L1807.5 325.43 L1808 331.62 L1808.5 337.92 L1809 344.33 L1809.5 350.83 L1810 357.4 L1810.5 364.04 L1811 370.71 L1811.5 377.42 L1812 384.15 L1812.5 390.88 L1813 397.59 L1813.5 404.28 L1814 410.92 L1814.5 417.51 L1815 424.02 L1815.5 430.45 L1816 436.77 L1816.5 442.99 L1817 449.07 L1817.5 455.02 L1818 460.81 L1818.5 466.43 L1819 471.87 L1819.5 477.13 L1820 482.17 L1820.5 487.01 L1821 491.62 L1821.5 496 L1822 500.13 L1822.5 504 L1823 507.62 L1823.5 510.97 L1824 514.04 L1824.5 516.82 L1825 519.31 L1825.5 521.51 L1826 523.41 L1826.5 525.01 L1827 526.29 L1827.5 527.27 L1828 527.93 L1828.5 528.27 L1829 528.31 L1829.5 528.04 L1830 527.48 L1830.5 526.63 L1831 525.49 L1831.5 524.06 L1832 522.34 L1832.5 520.34 L1833 518.07 L1833.5 515.53 L1834 512.71 L1834.5 509.64 L1835 506.32 L1835.5 502.75 L1836 498.95 L1836.5 494.92 L1837 490.67 L1837.5 486.21 L1838 481.55 L1838.5 476.7 L1839 471.67 L1839.5 466.48 L1840 461.13 L1840.5 455.64 L1841 450.02 L1841.5 444.29 L1842 438.45 L1842.5 432.51 L1843 426.5 L1843.5 420.43 L1844 414.31 L1844.5 408.15 L1845 401.96 L1845.5 395.77 L1846 389.59 L1846.5 383.42 L1847 377.29 L1847.5 371.2 L1848 365.18 L1848.5 359.23 L1849 353.37 L1849.5 347.61 L1850 341.97 L1850.5 336.45 L1851 331.07 L1851.5 325.85 L1852 320.79 L1852.5 315.9 L1853 311.21 L1853.5 306.7 L1854 302.41 L1854.5 298.33 L1855 294.48 L1855.5 290.87 L1856 287.5 L1856.5 284.38 L1857 281.51 L1857.5 278.91 L1858 276.58 L1858.5 274.53 L1859 272.76 L1859.5 271.27 L1860 270.07 L1860.5 269.16 L1861 268.54 L1861.5 268.22 L1862 268.19 L1862.5 268.44 L1863 268.97 L1863.5 269.78 L1864 270.87 L1864.5 272.23 L1865 273.86 L1865.5 275.76 L1866 277.92 L1866.5 280.34 L1867 283.02 L1867.5 285.94 L1868 289.1 L1868.5 292.5 L1869 296.13 L1869.5 299.97 L1870 304.02 L1870.5 308.28 L1871 312.72 L1871.5 317.35 L1872 322.15 L1872.5 327.11 L1873 332.22 L1873.5 337.48 L1874 342.86 L1874.5 348.35 L1875 353.95 L1875.5 359.64 L1876 365.41 L1876.5 371.25 L1877 377.14 L1877.5 383.07 L1878 389.02 L1878.5 395 L1879 400.97 L1879.5 406.93 L1880 412.87 L1880.5 418.77 L1881 424.61 L1881.5 430.4 L1882 436.11 L1882.5 441.72 L1883 447.24 L1883.5 452.64 L1884 457.92 L1884.5 463.06 L1885 468.06 L1885.5 472.89 L1886 477.55 L1886.5 482.04 L1887 486.33 L1887.5 490.42 L1888 494.31 L1888.5 497.98 L1889 501.42 L1889.5 504.63 L1890 507.6 L1890.5 510.33 L1891 512.8 L1891.5 515.02 L1892 516.97 L1892.5 518.65 L1893 520.07 L1893.5 521.21 L1894 522.08 L1894.5 522.66 L1895 522.97 L1895.5 523 L1896 522.74 L1896.5 522.18 L1897 521.34 L1897.5 520.21 L1898 518.79 L1898.5 517.1 L1899 515.12 L1899.5 512.87 L1900 510.35 L1900.5 507.57 L1901 504.53 L1901.5 501.24 L1902 497.7 L1902.5 493.93 L1903 489.93 L1903.5 485.71 L1904 481.28 L1904.5 476.66 L1905 471.84 L1905.5 466.84 L1906 461.67 L1906.5 456.35 L1907 450.88 L1907.5 445.28 L1908 439.55 L1908.5 433.72 L1909 427.79 L1909.5 421.77 L1910 415.69 L1910.5 409.55 L1911 403.37 L1911.5 397.15 L1912 390.92 L1912.5 384.69 L1913 378.47 L1913.5 372.27 L1914 366.11 L1914.5 360.01 L1915 353.96 L1915.5 348 L1916 342.12 L1916.5 336.35 L1917 330.7 L1917.5 325.18 L1918 319.79 L1918.5 314.56 L1919 309.49 L1919.5 304.6 L1920 299.9 L1920.5 295.39 L1921 291.08 L1921.5 287 L1922 283.13 L1922.5 279.5 L1923 276.11 L1923.5 272.97 L1924 270.08 L1924.5 267.46 L1925 265.1 L1925.5 263.01 L1926 261.2 L1926.5 259.68 L1927 258.43 L1927.5 257.47 L1928 256.8 L1928.5 256.43 L1929 256.34 L1929.5 256.58 L1930 257.17 L1930.5 258.11 L1931 259.39 L1931.5 261.01 L1932 262.97 L1932.5 265.26 L1933 267.87 L1933.5 270.81 L1934 274.05 L1934.5 277.6 L1935 281.45 L1935.5 285.59 L1936 290 L1936.5 294.67 L1937 299.6 L1937.5 304.78 L1938 310.18 L1938.5 315.8 L1939 321.62 L1939.5 327.63 L1940 333.82 L1940.5 340.16 L1941 346.65 L1941.5 353.26 L1942 359.99 L1942.5 366.81 L1943 373.71 L1943.5 380.67 L1944 387.67 L1944.5 394.7 L1945 401.75 L1945.5 408.78 L1946 415.8 L1946.5 422.77 L1947 429.68 L1947.5 436.52 L1948 443.26 L1948.5 449.9 L1949 456.42 L1949.5 462.79 L1950 469.01 L1950.5 475.05 L1951 480.91 L1951.5 486.57 L1952 492.02 L1952.5 497.24 L1953 502.22 L1953.5 506.95 L1954 511.41 L1954.5 515.61 L1955 519.51 L1955.5 523.12 L1956 526.43 L1956.5 529.43 L1957 532.11 L1957.5 534.46 L1958 536.49 L1958.5 538.17 L1959 539.52 L1959.5 540.53 L1960 541.19 L1960.5 541.5 L1961 541.47 L1961.5 541.1 L1962 540.39 L1962.5 539.34 L1963 537.96 L1963.5 536.25 L1964 534.22 L1964.5 531.86 L1965 529.19 L1965.5 526.21 L1966 522.92 L1966.5 519.34 L1967 515.47 L1967.5 511.32 L1968 506.9 L1968.5 502.22 L1969 497.3 L1969.5 492.13 L1970 486.74 L1970.5 481.14 L1971 475.34 L1971.5 469.35 L1972 463.18 L1972.5 456.86 L1973 450.39 L1973.5 443.79 L1974 437.07 L1974.5 430.25 L1975 423.35 L1975.5 416.38 L1976 409.36 L1976.5 402.3 L1977 395.22 L1977.5 388.13 L1978 381.06 L1978.5 374.01 L1979 367 L1979.5 360.06 L1980 353.19 L1980.5 346.41 L1981 339.74 L1981.5 333.19 L1982 326.78 L1982.5 320.51 L1983 314.42 L1983.5 308.5 L1984 302.77 L1984.5 297.25 L1985 291.95 L1985.5 286.88 L1986 282.05 L1986.5 277.48 L1987 273.17 L1987.5 269.13 L1988 265.37 L1988.5 261.91 L1989 258.74 L1989.5 255.88 L1990 253.34 L1990.5 251.11 L1991 249.2 L1991.5 247.63 L1992 246.38 L1992.5 245.47 L1993 244.9 L1993.5 244.66 L1994 244.77 L1994.5 245.24 L1995 246.08 L1995.5 247.28 L1996 248.84 L1996.5 250.75 L1997 253.02 L1997.5 255.63 L1998 258.57 L1998.5 261.85 L1999 265.46 L1999.5 269.37 L2000 273.6 L2000.5 278.11 L2001 282.91 L2001.5 287.99 L2002 293.32 L2002.5 298.9 L2003 304.72 L2003.5 310.75 L2004 316.99 L2004.5 323.42 L2005 330.03 L2005.5 336.79 L2006 343.69 L2006.5 350.72 L2007 357.86 L2007.5 365.08 L2008 372.38 L2008.5 379.74 L2009 387.13 L2009.5 394.55 L2010 401.96 L2010.5 409.36 L2011 416.73 L2011.5 424.04 L2012 431.28 L2012.5 438.44 L2013 445.49 L2013.5 452.42 L2014 459.21 L2014.5 465.85 L2015 472.32 L2015.5 478.59 L2016 484.67 L2016.5 490.53 L2017 496.16 L2017.5 501.54 L2018 506.67 L2018.5 511.53 L2019 516.1 L2019.5 520.39 L2020 524.37 L2020.5 528.03 L2021 531.38 L2021.5 534.39 L2022 537.07 L2022.5 539.4 L2023 541.39 L2023.5 543.02 L2024 544.29 L2024.5 545.2 L2025 545.75 L2025.5 545.93 L2026 545.76 L2026.5 545.25 L2027 544.4 L2027.5 543.22 L2028 541.71 L2028.5 539.86 L2029 537.69 L2029.5 535.2 L2030 532.4 L2030.5 529.28 L2031 525.87 L2031.5 522.15 L2032 518.16 L2032.5 513.89 L2033 509.35 L2033.5 504.55 L2034 499.51 L2034.5 494.23 L2035 488.73 L2035.5 483.02 L2036 477.11 L2036.5 471.02 L2037 464.76 L2037.5 458.34 L2038 451.78 L2038.5 445.09 L2039 438.29 L2039.5 431.39 L2040 424.41 L2040.5 417.37 L2041 410.28 L2041.5 403.15 L2042 396 L2042.5 388.86 L2043 381.73 L2043.5 374.62 L2044 367.57 L2044.5 360.58 L2045 353.66 L2045.5 346.84 L2046 340.13 L2046.5 333.54 L2047 327.09 L2047.5 320.8 L2048 314.67 L2048.5 308.72 L2049 302.97 L2049.5 297.43 L2050 292.11 L2050.5 287.02 L2051 282.17 L2051.5 277.58 L2052 273.25 L2052.5 269.2 L2053 265.43 L2053.5 261.96 L2054 258.78 L2054.5 255.91 L2055 253.36 L2055.5 251.13 L2056 249.22 L2056.5 247.63 L2057 246.39 L2057.5 245.47 L2058 244.9 L2058.5 244.66 L2059 244.77 L2059.5 245.27 L2060 246.15 L2060.5 247.4 L2061 249.03 L2061.5 251.03 L2062 253.39 L2062.5 256.12 L2063 259.2 L2063.5 262.62 L2064 266.38 L2064.5 270.46 L2065 274.86 L2065.5 279.57 L2066 284.57 L2066.5 289.85 L2067 295.4 L2067.5 301.2 L2068 307.24 L2068.5 313.5 L2069 319.97 L2069.5 326.63 L2070 333.47 L2070.5 340.46 L2071 347.59 L2071.5 354.84 L2072 362.19 L2072.5 369.63 L2073 377.13 L2073.5 384.68 L2074 392.26 L2074.5 399.84 L2075 407.41 L2075.5 414.95 L2076 422.44 L2076.5 429.87 L2077 437.2 L2077.5 444.43 L2078 451.53 L2078.5 458.49 L2079 465.29 L2079.5 471.92 L2080 478.35 L2080.5 484.57 L2081 490.56 L2081.5 496.31 L2082 501.81 L2082.5 507.03 L2083 511.97 L2083.5 516.62 L2084 520.96 L2084.5 524.98 L2085 528.67 L2085.5 532.03 L2086 535.03 L2086.5 537.69 L2087 539.98 L2087.5 541.91 L2088 543.46 L2088.5 544.64 L2089 545.44 L2089.5 545.86 L2090 545.9 L2090.5 545.58 L2091 544.9 L2091.5 543.86 L2092 542.47 L2092.5 540.73 L2093 538.64 L2093.5 536.21 L2094 533.45 L2094.5 530.36 L2095 526.94 L2095.5 523.22 L2096 519.18 L2096.5 514.86 L2097 510.25 L2097.5 505.36 L2098 500.21 L2098.5 494.82 L2099 489.18 L2099.5 483.32 L2100 477.26 L2100.5 471 L2101 464.55 L2101.5 457.94 L2102 451.19 L2102.5 444.3 L2103 437.29 L2103.5 430.18 L2104 422.99 L2104.5 415.74" fill="none" stroke="#0072BD" stroke-width="3.5" stroke-linejoin="round" stroke-linecap="butt" />
<path d="M1338.5 510.3 H1592 V275.5 H1338.5 V510.3" fill="none" stroke="#0066FF" stroke-width="5" stroke-dasharray="33.75 15.95" stroke-linejoin="miter" stroke-linecap="butt"/>
<path d="M1848 579.2 H2107.5 V212.5 H1848 V579.2" fill="none" stroke="#7030A0" stroke-width="5" stroke-dasharray="33.75 15.95" stroke-linejoin="miter" stroke-linecap="butt"/>
<path d="M1592 635 H1848 V162.8 H1592 V635" fill="none" stroke="#C00000" stroke-width="5.6" stroke-dasharray="33.75 15.95" stroke-linejoin="miter" stroke-linecap="butt"/>
<text x="259.9" y="111" font-size="52" fill="#262626" text-anchor="end" font-family="'Liberation Serif','Times New Roman',serif" stroke="#262626" stroke-width="0.7">2</text>
<text x="259.9" y="261" font-size="52" fill="#262626" text-anchor="end" font-family="'Liberation Serif','Times New Roman',serif" stroke="#262626" stroke-width="0.7">1</text>
<text x="259.9" y="412" font-size="52" fill="#262626" text-anchor="end" font-family="'Liberation Serif','Times New Roman',serif" stroke="#262626" stroke-width="0.7">0</text>
<text x="259.9" y="565" font-size="52" fill="#262626" text-anchor="end" font-family="'Liberation Serif','Times New Roman',serif" stroke="#262626" stroke-width="0.7"><tspan stroke="#262626" stroke-width="2.1">–</tspan>1</text>
<text x="259.9" y="716.6" font-size="52" fill="#262626" text-anchor="end" font-family="'Liberation Serif','Times New Roman',serif" stroke="#262626" stroke-width="0.7"><tspan stroke="#262626" stroke-width="2.1">–</tspan>2</text>
<text x="1321.3" y="111.9" font-size="52" fill="#262626" text-anchor="end" font-family="'Liberation Serif','Times New Roman',serif" stroke="#262626" stroke-width="0.7">2</text>
<text x="1321.3" y="262" font-size="52" fill="#262626" text-anchor="end" font-family="'Liberation Serif','Times New Roman',serif" stroke="#262626" stroke-width="0.7">1</text>
<text x="1321.3" y="415" font-size="52" fill="#262626" text-anchor="end" font-family="'Liberation Serif','Times New Roman',serif" stroke="#262626" stroke-width="0.7">0</text>
<text x="1321.3" y="567" font-size="52" fill="#262626" text-anchor="end" font-family="'Liberation Serif','Times New Roman',serif" stroke="#262626" stroke-width="0.7"><tspan stroke="#262626" stroke-width="2.1">–</tspan>1</text>
<text x="1321.3" y="717.5" font-size="52" fill="#262626" text-anchor="end" font-family="'Liberation Serif','Times New Roman',serif" stroke="#262626" stroke-width="0.7"><tspan stroke="#262626" stroke-width="2.1">–</tspan>2</text>
<text x="274" y="762.5" font-size="52" fill="#262626" text-anchor="middle" font-family="'Liberation Serif','Times New Roman',serif" stroke="#262626" stroke-width="0.7">0</text>
<text x="529" y="762.5" font-size="52" fill="#262626" text-anchor="middle" font-family="'Liberation Serif','Times New Roman',serif" stroke="#262626" stroke-width="0.7">0.08</text>
<text x="785" y="762.5" font-size="52" fill="#262626" text-anchor="middle" font-family="'Liberation Serif','Times New Roman',serif" stroke="#262626" stroke-width="0.7">0.16</text>
<text x="1041" y="762.5" font-size="52" fill="#262626" text-anchor="middle" font-family="'Liberation Serif','Times New Roman',serif" stroke="#262626" stroke-width="0.7">0.24</text>
<text x="1337" y="764.3" font-size="52" fill="#262626" text-anchor="middle" font-family="'Liberation Serif','Times New Roman',serif" stroke="#262626" stroke-width="0.7">0</text>
<text x="1592" y="764.3" font-size="52" fill="#262626" text-anchor="middle" font-family="'Liberation Serif','Times New Roman',serif" stroke="#262626" stroke-width="0.7">0.08</text>
<text x="1846" y="764.3" font-size="52" fill="#262626" text-anchor="middle" font-family="'Liberation Serif','Times New Roman',serif" stroke="#262626" stroke-width="0.7">0.16</text>
<text x="2104" y="764.3" font-size="52" fill="#262626" text-anchor="middle" font-family="'Liberation Serif','Times New Roman',serif" stroke="#262626" stroke-width="0.7">0.24</text>
<text transform="translate(655.9 828.9) scale(0.987 1)" font-size="67.2" fill="#000" text-anchor="middle" font-family="'Liberation Serif','Times New Roman',serif" stroke="#000" stroke-width="0.4">Time/s</text>
<text transform="translate(1722.6 830.9) scale(0.987 1)" font-size="67.2" fill="#000" text-anchor="middle" font-family="'Liberation Serif','Times New Roman',serif" stroke="#000" stroke-width="0.4">Time/s</text>
<text transform="translate(202.8 401) rotate(-90) scale(0.993 1)" font-size="67" fill="#000" stroke="#000" stroke-width="0.5" text-anchor="middle" font-family="'Liberation Serif','Times New Roman',serif">Amplitude(pu)</text>
<text transform="translate(1264.8 402.5) rotate(-90) scale(0.993 1)" font-size="67" fill="#000" stroke="#000" stroke-width="0.5" text-anchor="middle" font-family="'Liberation Serif','Times New Roman',serif">Amplitude(pu)</text>
<text transform="translate(663.4 75.8) scale(0.976 1)" font-size="70.5" fill="#000" text-anchor="middle" font-family="'Liberation Serif','Times New Roman',serif" stroke="#000" stroke-width="0.8">2022-5-01 13:17:35</text>
<text transform="translate(1722.9 75.8) scale(0.983 1)" font-size="70.5" fill="#000" text-anchor="middle" font-family="'Liberation Serif','Times New Roman',serif" stroke="#000" stroke-width="0.8">2022-7-21 10:09:29</text>
<path d="M185.43 883.68 L188.32 883.4 L191.23 883.2 L194.14 883.06 L197.07 883 L200 883.02 L202.94 883.1 L205.88 883.26 L208.82 883.49 L211.77 883.79 L214.71 884.16 L217.65 884.61 L220.59 885.12 L223.52 885.71 L226.44 886.37 L229.35 887.09 L232.25 887.89 L235.14 888.76 L238.01 889.7 L240.87 890.7 L243.71 891.77 L246.52 892.91 L249.32 894.11 L252.09 895.39 L254.83 896.72 L257.55 898.12 L260.24 899.58 L262.9 901.11 L265.53 902.69 L268.12 904.34 L270.68 906.05 L273.2 907.81 L275.69 909.63 L278.13 911.51 L280.53 913.44 L282.9 915.43 L285.21 917.47 L287.48 919.56 L289.71 921.7 L291.89 923.9 L294.02 926.13 L296.09 928.42 L298.12 930.75 L300.09 933.12 L302.01 935.54 L303.87 937.99 L305.68 940.49 L307.43 943.02 L309.12 945.59 L310.75 948.19 L312.32 950.83 L313.82 953.5 L315.27 956.19 L316.65 958.92 L317.97 961.67 L319.22 964.45 L320.41 967.25 L321.53 970.07 L322.58 972.91 L323.57 975.77 L324.49 978.65 L325.33 981.54 L326.11 984.44 L326.82 987.36 L327.46 990.28 L328.03 993.22 L328.52 996.15 L328.95 999.1 L329.3 1002.04 L329.58 1004.99 L329.79 1007.93 L329.93 1010.87 L329.99 1013.81 L329.99 1016.76 L329.9 1019.73 L329.75 1022.69 L329.51 1025.63 L329.2 1028.57 L328.82 1031.48 L328.36 1034.38 L327.83 1037.26 L327.22 1040.11 L326.54 1042.95 L325.79 1045.75 L324.96 1048.54 L324.06 1051.29 L323.09 1054.01 L322.05 1056.71 L320.94 1059.36 L319.76 1061.99 L318.51 1064.57 L317.19 1067.12 L315.8 1069.63 L314.35 1072.1 L312.83 1074.52 L311.25 1076.9 L309.6 1079.24 L307.9 1081.52 L306.13 1083.76 L304.3 1085.95 L302.41 1088.09 L300.46 1090.17 L298.46 1092.2 L296.4 1094.17 L294.28 1096.09 L292.12 1097.95 L289.9 1099.75 L287.63 1101.49 L285.31 1103.16 L282.95 1104.78 L280.54 1106.33 L278.09 1107.82 L275.59 1109.25 L273.06 1110.6 L270.48 1111.9 L267.87 1113.12 L265.22 1114.27 L262.53 1115.36 L259.82 1116.37 L257.07 1117.32 L254.29 1118.19 L251.49 1119 L248.66 1119.73 L245.8 1120.38 L242.93 1120.97 L240.03 1121.48 L237.11 1121.92 L234.18 1122.28 L231.24 1122.57 L228.28 1122.79 L225.31 1122.93 L222.33 1122.99 L219.34 1122.99 L216.35 1122.9 L213.36 1122.75 L210.36 1122.51 L207.36 1122.21 L204.37 1121.83 L201.38 1121.37 L198.4 1120.85 L195.42 1120.25 L192.46 1119.57 L189.5 1118.83 L186.56 1118.01 L183.64 1117.12 L180.73 1116.16 L177.84 1115.13 L174.97 1114.03 L172.13 1112.86 L169.31 1111.62 L166.52 1110.31 L163.75 1108.94 L161.01 1107.5 L158.31 1106 L155.64 1104.43 L153 1102.8 L150.4 1101.11 L147.84 1099.36 L145.32 1097.55 L142.85 1095.67 L140.41 1093.74 L138.02 1091.76 L135.67 1089.72 L133.38 1087.62 L131.13 1085.48 L128.93 1083.28 L126.79 1081.03 L124.69 1078.73 L122.66 1076.39 L120.68 1074 L118.75 1071.56 L116.89 1069.09 L115.08 1066.57 L113.33 1064.01 L111.65 1061.42 L110.03 1058.79 L108.47 1056.12 L106.98 1053.42 L105.56 1050.69 L104.2 1047.93 L102.9 1045.14 L101.68 1042.33 L100.53 1039.49 L99.44 1036.63 L98.43 1033.75 L97.49 1030.85 L96.62 1027.93 L95.82 1024.99 L95.1 1022.04 L94.45 1019.09 L93.87 1016.12 L93.37 1013.14 L92.94 1010.15 L92.58 1007.17 L92.31 1004.17 L92.1 1001.18 L91.97 998.19 L91.92 995.2 L91.94 992.27 L92.03 989.36 L92.19 986.46 L92.42 983.56 L92.72 980.68 L93.09 977.81 L93.52 974.95 L94.03 972.12 L94.6 969.3 L95.24 966.5 L95.95 963.72 L96.73 960.96 L97.57 958.24 L98.48 955.53 L99.45 952.86 L100.49 950.21 L101.6 947.6 L102.76 945.02 L104 942.47 L105.29 939.96 L106.64 937.49 L108.06 935.06 L109.54 932.67 L111.07 930.32 L112.67 928.01 L114.32 925.75 L116.03 923.53 L117.79 921.36 L119.61 919.24 L121.48 917.17 L123.4 915.15 L125.37 913.18 L127.4 911.26 L129.47 909.4 L131.59 907.6 L133.76 905.85 L135.97 904.16 L138.23 902.53 L140.53 900.96 L142.86 899.45 L145.24 898 L147.66 896.62 L150.12 895.29 L152.61 894.04 L155.13 892.84 L157.69 891.71 L160.28 890.65 L162.89 889.66 L165.54 888.73 L168.21 887.87 L170.91 887.08 L173.63 886.36 L176.37 885.7 L179.13 885.12 L181.91 884.61 L184.71 884.16 L187.52 883.79 L190.35 883.49 L193.19 883.26 L196.04 883.11 L198.9 883.02 L201.76 883 L204.63 883.06 L207.51 883.19 L210.38 883.38 L213.26 883.65 L216.14 884 L219.01 884.41 L221.88 884.89 L224.74 885.44 L227.59 886.07 L230.43 886.76 L233.27 887.52 L236.08 888.35 L238.89 889.25 L241.68 890.21 L244.45 891.25 L247.2 892.35 L249.93 893.51 L252.63 894.74 L255.32 896.04 L257.97 897.4 L260.6 898.82 L263.2 900.3 L265.77 901.85 L268.31 903.45 L270.81 905.12 L273.28 906.84 L275.71 908.62 L278.11 910.45 L280.46 912.34 L282.78 914.29 L285.05 916.29 L287.28 918.34 L289.47 920.44 L291.61 922.59 L293.7 924.78 L295.74 927.03 L297.74 929.31 L299.68 931.65 L301.57 934.02 L303.41 936.44 L305.2 938.89 L306.93 941.39 L308.6 943.92 L310.22 946.48 L311.78 949.08 L313.28 951.71 L314.72 954.37 L316.1 957.06 L317.41 959.78 L318.67 962.53 L319.86 965.29 L320.99 968.08 L322.06 970.9 L323.06 973.73 L323.99 976.57 L324.86 979.44 L325.67 982.31 L326.4 985.2 L327.07 988.1 L327.67 991.01 L328.2 993.93 L328.67 996.85 L329.06 999.78 L329.39 1002.7 L329.64 1005.63 L329.83 1008.56 L329.95 1011.48 L330 1014.4 L329.97 1017.38 L329.87 1020.37 L329.69 1023.35 L329.43 1026.31 L329.09 1029.27 L328.68 1032.2 L328.18 1035.12 L327.61 1038.01 L326.96 1040.89 L326.24 1043.74 L325.43 1046.56 L324.56 1049.36 L323.6 1052.13 L322.57 1054.86 L321.47 1057.57 L320.3 1060.24 L319.05 1062.87 L317.73 1065.47 L316.34 1068.02 L314.87 1070.54 L313.34 1073.01 L311.75 1075.44 L310.08 1077.82 L308.35 1080.15 L306.55 1082.44 L304.69 1084.68 L302.76 1086.86 L300.78 1088.99 L298.73 1091.07 L296.63 1093.09 L294.46 1095.05 L292.24 1096.96 L289.97 1098.81 L287.64 1100.59 L285.26 1102.32 L282.83 1103.98 L280.35 1105.58 L277.82 1107.11 L275.25 1108.58 L272.63 1109.98 L269.97 1111.31 L267.27 1112.57 L264.53 1113.77 L261.75 1114.89 L258.94 1115.95 L256.09 1116.93 L253.21 1117.84 L250.3 1118.68 L247.36 1119.45 L244.39 1120.14 L241.4 1120.76 L238.39 1121.3 L235.35 1121.77 L232.3 1122.16 L229.23 1122.48 L226.14 1122.72 L223.04 1122.89 L219.93 1122.98 L216.81 1123 L213.68 1122.94 L210.55 1122.8 L207.41 1122.59 L204.27 1122.3 L201.13 1121.94 L198 1121.5 L194.87 1120.99 L191.74 1120.4 L188.62 1119.74 L185.52 1119 L182.42 1118.19 L179.34 1117.31 L176.28 1116.36 L173.23 1115.33 L170.2 1114.24 L167.2 1113.07 L164.22 1111.83 L161.26 1110.53 L158.33 1109.15 L155.44 1107.71 L152.57 1106.21 L149.73 1104.64 L146.93 1103 L144.17 1101.3 L141.45 1099.54 L138.76 1097.72 L136.12 1095.83 L133.52 1093.89 L130.96 1091.9 L128.45 1089.84 L125.99 1087.73 L123.58 1085.57 L121.22 1083.35 L118.92 1081.09 L116.66 1078.77 L114.47 1076.41 L112.26 1073.99 L110.11 1071.53 L108.03 1069.01 L106.01 1066.45 L104.06 1063.84 L102.19 1061.18 L100.38 1058.48 L98.64 1055.73 L96.98 1052.95 L95.4 1050.13 L93.89 1047.27 L92.45 1044.38 L91.09 1041.46 L89.81 1038.5 L88.61 1035.52 L87.49 1032.52 L86.44 1029.49 L85.47 1026.44 L84.58 1023.37 L83.77 1020.29 L83.03 1017.2 L82.37 1014.1 L81.79 1010.99 L81.28 1007.88 L80.85 1004.76 L80.5 1001.65 L80.21 998.54 L80.01 995.44 L79.87 992.35 L79.81 989.27 L79.82 986.14 L79.93 982.99 L80.14 979.86 L80.44 976.76 L80.84 973.69 L81.34 970.64 L81.93 967.62 L82.62 964.64 L83.39 961.7 L84.26 958.79 L85.22 955.93 L86.28 953.11 L87.42 950.33 L88.65 947.59 L89.97 944.91 L91.38 942.27 L92.88 939.68 L94.47 937.15 L96.14 934.66 L97.91 932.23 L99.77 929.85 L101.72 927.53 L103.76 925.26 L105.89 923.04 L108.11 920.89 L110.42 918.78 L112.83 916.74 L115.33 914.75 L117.92 912.82 L120.61 910.95 L123.39 909.14 L126.26 907.38 L129.23 905.68 L132.29 904.04 L135.45 902.46 L138.7 900.93 L142.05 899.47 L145.49 898.06 L149.02 896.71 L152.64 895.43 L156.34 894.2 L160.14 893.03 L164.02 891.92 L167.99 890.87 L172.03 889.89 L176.16 888.96 L180.36 888.1 L184.63 887.3 L188.97 886.57 L193.37 885.9 L197.84 885.3 L202.36 884.76 L206.93 884.3 L211.54 883.9 L216.2 883.57 L220.89 883.32 L225.61 883.14 L230.36 883.03 L235.12 883 L239.89 883.05 L244.67 883.18 L249.44 883.39 L254.21 883.68 L258.96 884.05 L263.69 884.51 L268.4 885.06 L273.06 885.7 L277.69 886.42 L282.26 887.24 L286.78 888.15 L291.24 889.15 L295.64 890.25 L299.96 891.44 L304.2 892.73 L308.35 894.11 L312.42 895.59 L316.39 897.17 L320.26 898.84 L324.03 900.61 L327.69 902.47 L331.24 904.43 L334.68 906.49 L337.99 908.63 L341.19 910.87 L344.27 913.2 L347.23 915.61 L350.06 918.11 L352.76 920.69 L355.34 923.35 L357.8 926.08 L360.04 928.88 L362.17 931.74 L364.18 934.66 L366.09 937.63 L367.88 940.65 L369.56 943.72 L371.14 946.84 L372.62 949.98 L374 953.17 L375.28 956.38 L376.47 959.61 L377.56 962.87 L378.57 966.14 L379.49 969.42 L380.33 972.71 L381.09 976 L381.78 979.29 L382.38 982.58 L382.92 985.86 L383.38 989.13 L383.77 992.39 L384.09 995.62 L384.34 998.84 L384.53 1002.04 L384.66 1005.21 L384.71 1008.35 L384.71 1011.42 L384.64 1014.45 L384.51 1017.44 L384.31 1020.41 L384.05 1023.34 L383.72 1026.24 L383.33 1029.1 L382.86 1031.93 L382.33 1034.72 L381.73 1037.47 L381.06 1040.19 L380.31 1042.86 L379.48 1045.5 L378.58 1048.1 L377.59 1050.66 L376.52 1053.17 L375.37 1055.65 L374.13 1058.09 L372.79 1060.48 L371.37 1062.83 L369.84 1065.15 L368.22 1067.42 L366.5 1069.65 L364.68 1071.84 L362.75 1073.99 L360.71 1076.1 L358.57 1078.17 L356.31 1080.2 L353.94 1082.19 L351.46 1084.13 L348.86 1086.04 L346.14 1087.91 L343.3 1089.73 L340.35 1091.52 L337.28 1093.27 L334.09 1094.97 L330.78 1096.63 L327.35 1098.25 L323.8 1099.83 L320.14 1101.37 L316.37 1102.86 L312.48 1104.31 L308.48 1105.72 L304.37 1107.08 L300.15 1108.39 L295.83 1109.66 L291.41 1110.88 L286.9 1112.05 L282.29 1113.17 L277.6 1114.24 L272.82 1115.25 L267.96 1116.21 L263.03 1117.11 L258.03 1117.96 L252.97 1118.75 L247.85 1119.47 L242.68 1120.14 L237.46 1120.73 L232.2 1121.27 L226.91 1121.73 L221.6 1122.13 L216.26 1122.45 L210.92 1122.7 L205.56 1122.88 L200.2 1122.98 L194.86 1123 L189.52 1122.94 L184.21 1122.8 L178.92 1122.57 L173.66 1122.26 L168.44 1121.86 L163.27 1121.38 L158.15 1120.8 L153.09 1120.14 L148.09 1119.38 L143.16 1118.54 L138.3 1117.6 L133.52 1116.56 L128.83 1115.44 L124.22 1114.22 L119.71 1112.9 L115.29 1111.5 L110.97 1109.99 L106.75 1108.4 L102.64 1106.72 L98.64 1104.94 L94.75 1103.08 L90.98 1101.12 L87.32 1099.08 L83.77 1096.95 L80.34 1094.75 L77.03 1092.46 L73.84 1090.09 L70.77 1087.64 L67.82 1085.13 L64.98 1082.54 L62.26 1079.88 L59.66 1077.16 L57.18 1074.38 L54.81 1071.54 L52.55 1068.65 L50.41 1065.7 L48.37 1062.71 L46.44 1059.67 L44.62 1056.6 L42.9 1053.49 L41.28 1050.34 L39.75 1047.17 L38.33 1043.98 L36.99 1040.76 L35.75 1037.53 L34.6 1034.28 L33.53 1031.03 L32.54 1027.77 L31.64 1024.5 L30.81 1021.24 L30.06 1017.98 L29.39 1014.73 L28.79 1011.49 L28.26 1008.27 L27.79 1005.06 L27.4 1001.87 L27.07 998.7 L26.81 995.56 L26.61 992.44 L26.48 989.35 L26.41 986.29 L26.41 983.33 L26.46 980.49 L26.59 977.68 L26.77 974.9 L27.03 972.17 L27.35 969.47 L27.73 966.81 L28.19 964.19 L28.71 961.6 L29.31 959.06 L29.98 956.56 L30.73 954.1 L31.55 951.68 L32.45 949.3 L33.44 946.97 L34.5 944.67 L35.66 942.42 L36.9 940.21 L38.24 938.03 L39.67 935.9 L41.19 933.81 L42.82 931.76 L44.55 929.75 L46.38 927.78 L48.31 925.85 L50.36 923.96 L52.52 922.11 L54.79 920.3 L57.17 918.52 L59.67 916.79 L62.28 915.09 L65.02 913.43 L67.87 911.81 L70.85 910.23 L73.94 908.68 L77.16 907.18 L80.5 905.71 L83.95 904.28 L87.53 902.89 L91.22 901.54 L95.04 900.23 L98.96 898.95 L103.01 897.72 L107.16 896.53 L111.42 895.39 L115.79 894.28 L120.26 893.22 L124.83 892.2 L129.49 891.23 L134.25 890.31 L139.09 889.43 L144.01 888.61 L149.02 887.83 L154.09 887.11 L159.23 886.44 L164.43 885.82 L169.68 885.26 L174.98 884.76 L180.33 884.32 L185.71 883.93 L191.12 883.62 L196.55 883.36 L202 883.17 L207.46 883.05 L212.92 883 L218.37 883.02 L223.82 883.11 L229.25 883.28 L234.65 883.52 L240.03 883.84 L245.36 884.24 L250.66 884.72 L255.9 885.27 L261.09 885.91 L266.21 886.64 L271.27 887.44 L276.26 888.33 L281.16 889.31 L285.99 890.37 L290.73 891.52 L295.37 892.75 L299.92 894.07 L304.37 895.47 L308.72 896.96 L312.96 898.54 L317.09 900.19 L321.11 901.93 L325.02 903.76 L328.8 905.66 L332.48 907.64 L336.03 909.7 L339.46 911.84 L342.77 914.05 L345.97 916.33 L349.04 918.68 L351.99 921.09 L354.82 923.57 L357.53 926.11 L360.12 928.71 L362.6 931.37 L364.96 934.08 L367.2 936.83 L369.34 939.64 L371.36 942.48 L373.28 945.37 L375.09 948.29 L376.79 951.24 L378.4 954.23 L379.91 957.23 L381.32 960.26 L382.63 963.31 L383.86 966.38 L385 969.45 L386.05 972.54 L387.02 975.63 L387.9 978.72 L388.71 981.81 L389.44 984.9 L390.1 987.98 L390.68 991.05 L391.19 994.11 L391.63 997.16 L392 1000.19 L392.31 1003.2 L392.55 1006.18 L392.72 1009.15 L392.83 1012.09 L392.88 1015 L392.86 1017.93 L392.78 1020.84 L392.63 1023.71 L392.42 1026.56 L392.15 1029.37 L391.81 1032.14 L391.41 1034.88 L390.93 1037.58 L390.39 1040.25 L389.78 1042.87 L389.09 1045.46 L388.33 1048.01 L387.5 1050.52 L386.58 1052.98 L385.59 1055.41 L384.51 1057.8 L383.35 1060.14 L382.1 1062.45 L380.76 1064.72 L379.32 1066.94 L377.8 1069.12 L376.17 1071.27 L374.45 1073.37 L372.62 1075.44 L370.69 1077.46 L368.65 1079.44 L366.5 1081.39 L364.24 1083.29 L361.87 1085.16 L359.39 1086.99 L356.79 1088.77 L354.08 1090.52 L351.25 1092.23 L348.3 1093.9 L345.23 1095.53 L342.05 1097.12 L338.74 1098.67 L335.32 1100.19 L331.78 1101.66 L328.13 1103.09 L324.36 1104.48 L320.48 1105.82 L316.48 1107.13 L312.38 1108.39 L308.17 1109.61 L303.85 1110.78 L299.43 1111.91 L294.92 1112.99 L290.31 1114.02 L285.61 1115.01 L280.83 1115.94 L275.97 1116.83 L271.02 1117.66 L266.01 1118.44 L260.93 1119.16 L255.79 1119.82 L250.6 1120.43 L245.35 1120.98 L240.06 1121.46 L234.74 1121.88 L229.38 1122.24 L224 1122.53 L218.6 1122.75 L213.19 1122.91 L207.78 1122.99 L202.36 1122.99 L196.96 1122.93 L191.56 1122.78 L186.19 1122.56 L180.85 1122.26 L175.54 1121.88 L170.26 1121.42 L165.04 1120.88 L159.86 1120.25 L154.75 1119.53 L149.7 1118.73 L144.71 1117.84 L139.8 1116.87 L134.97 1115.81 L130.22 1114.66 L125.55 1113.42 L120.98 1112.09 L116.51 1110.68 L112.13 1109.18 L107.86 1107.59 L103.69 1105.92 L99.63 1104.16 L95.68 1102.31 L91.84 1100.38 L88.11 1098.38 L84.51 1096.29 L81.01 1094.12 L77.64 1091.88 L74.38 1089.56 L71.25 1087.17 L68.23 1084.72 L65.32 1082.19 L62.54 1079.6 L59.87 1076.96 L57.32 1074.25 L54.88 1071.49 L52.56 1068.68 L50.35 1065.82 L48.24 1062.91 L46.25 1059.97 L44.36 1056.98 L42.57 1053.96 L40.89 1050.91 L39.3 1047.84 L37.81 1044.73 L36.42 1041.61 L35.11 1038.48 L33.9 1035.32 L32.77 1032.16 L31.72 1029 L30.76 1025.83 L29.88 1022.66 L29.07 1019.49 L28.34 1016.33 L27.69 1013.18 L27.1 1010.04 L26.59 1006.91 L26.14 1003.8 L25.77 1000.72 L25.45 997.65 L25.21 994.61 L25.02 991.59 L24.9 988.61 L24.85 985.65 L24.85 982.73 L24.92 979.86 L25.06 977.02 L25.26 974.22 L25.53 971.46 L25.86 968.73 L26.26 966.04 L26.74 963.39 L27.28 960.78 L27.89 958.22 L28.58 955.69 L29.34 953.21 L30.19 950.77 L31.11 948.37 L32.11 946.01 L33.2 943.69 L34.38 941.42 L35.65 939.19 L37.01 937 L38.46 934.85 L40.01 932.75 L41.66 930.68 L43.42 928.66 L45.27 926.68 L47.24 924.74 L49.31 922.84 L51.5 920.98 L53.8 919.16 L56.21 917.39 L58.75 915.65 L61.39 913.95 L64.16 912.29 L67.05 910.67 L70.06 909.09 L73.19 907.55 L76.44 906.05 L79.81 904.59 L83.31 903.17 L86.92 901.8 L90.65 900.46 L94.5 899.16 L98.47 897.91 L102.55 896.7 L106.74 895.53 L111.04 894.41 L115.45 893.33 L119.96 892.3 L124.57 891.32 L129.28 890.38 L134.07 889.49 L138.96 888.66 L143.92 887.87 L148.96 887.14 L154.08 886.46 L159.26 885.84 L164.5 885.27 L169.79 884.77 L175.13 884.32 L180.52 883.94 L185.94 883.61 L191.39 883.36 L196.87 883.17 L202.36 883.05 L207.86 883 L213.36 883.02" fill="none" stroke="#FF0000" stroke-width="4.2" stroke-linejoin="round" stroke-linecap="butt" />
<circle cx="210" cy="1003" r="120" fill="none" stroke="#000" stroke-width="4" stroke-dasharray="10 2 6 2"/>
<path d="M649.86 881 L655.35 881.05 L660.82 881.18 L666.26 881.38 L671.68 881.66 L677.06 882.03 L682.39 882.47 L687.68 883 L692.91 883.61 L698.07 884.3 L703.17 885.08 L708.2 885.95 L713.15 886.9 L718.01 887.94 L722.79 889.07 L727.48 890.29 L732.07 891.59 L736.56 892.98 L740.94 894.46 L745.22 896.02 L749.39 897.68 L753.45 899.41 L757.39 901.23 L761.22 903.13 L764.93 905.12 L768.52 907.18 L771.99 909.32 L775.34 911.54 L778.57 913.83 L781.67 916.19 L784.66 918.62 L787.52 921.11 L790.26 923.67 L792.89 926.29 L795.4 928.97 L797.79 931.7 L800.07 934.48 L802.23 937.31 L804.28 940.18 L806.23 943.09 L808.06 946.04 L809.8 949.03 L811.43 952.04 L812.96 955.08 L814.39 958.15 L815.73 961.23 L816.98 964.33 L818.14 967.45 L819.21 970.57 L820.2 973.7 L821.11 976.83 L821.94 979.96 L822.68 983.09 L823.36 986.21 L823.96 989.32 L824.48 992.43 L824.94 995.51 L825.33 998.58 L825.65 1001.63 L825.91 1004.66 L826.09 1007.67 L826.22 1010.65 L826.27 1013.6 L826.27 1016.52 L826.2 1019.41 L826.06 1022.27 L825.87 1025.1 L825.6 1027.89 L825.27 1030.65 L824.87 1033.37 L824.41 1036.06 L823.87 1038.7 L823.27 1041.31 L822.59 1043.88 L821.83 1046.41 L821 1048.89 L820.09 1051.34 L819.1 1053.75 L818.03 1056.12 L816.87 1058.45 L815.62 1060.73 L814.28 1062.98 L812.84 1065.19 L811.31 1067.35 L809.68 1069.48 L807.96 1071.56 L806.12 1073.61 L804.19 1075.61 L802.14 1077.58 L799.99 1079.51 L797.72 1081.4 L795.34 1083.25 L792.85 1085.06 L790.24 1086.83 L787.51 1088.56 L784.66 1090.26 L781.7 1091.91 L778.61 1093.53 L775.41 1095.11 L772.08 1096.65 L768.64 1098.15 L765.08 1099.61 L761.39 1101.03 L757.6 1102.41 L753.68 1103.75 L749.66 1105.05 L745.52 1106.3 L741.28 1107.51 L736.93 1108.68 L732.47 1109.8 L727.92 1110.88 L723.27 1111.91 L718.53 1112.9 L713.71 1113.83 L708.8 1114.72 L703.81 1115.55 L698.75 1116.33 L693.63 1117.05 L688.44 1117.72 L683.2 1118.34 L677.9 1118.89 L672.56 1119.38 L667.19 1119.81 L661.78 1120.18 L656.35 1120.48 L650.9 1120.72 L645.43 1120.88 L639.97 1120.98 L634.5 1121 L629.04 1120.95 L623.6 1120.82 L618.17 1120.62 L612.78 1120.34 L607.42 1119.98 L602.09 1119.54 L596.82 1119.01 L591.6 1118.41 L586.43 1117.72 L581.33 1116.94 L576.3 1116.08 L571.35 1115.13 L566.47 1114.1 L561.68 1112.97 L556.98 1111.77 L552.37 1110.47 L547.85 1109.08 L543.44 1107.61 L539.13 1106.06 L534.93 1104.41 L530.84 1102.68 L526.86 1100.87 L522.99 1098.98 L519.24 1097 L515.6 1094.95 L512.09 1092.82 L508.69 1090.61 L505.42 1088.32 L502.26 1085.97 L499.22 1083.55 L496.3 1081.06 L493.5 1078.51 L490.82 1075.89 L488.26 1073.22 L485.81 1070.5 L483.48 1067.72 L481.26 1064.89 L479.15 1062.02 L477.15 1059.11 L475.25 1056.16 L473.46 1053.17 L471.77 1050.16 L470.18 1047.11 L468.69 1044.04 L467.3 1040.95 L465.99 1037.85 L464.78 1034.73 L463.65 1031.59 L462.61 1028.46 L461.65 1025.31 L460.78 1022.17 L459.98 1019.03 L459.25 1015.9 L458.6 1012.77 L458.02 1009.66 L457.52 1006.56 L457.08 1003.47 L456.71 1000.41 L456.41 997.36 L456.17 994.34 L455.99 991.34 L455.89 988.37 L455.84 985.43 L455.86 982.54 L455.94 979.68 L456.09 976.85 L456.3 974.06 L456.58 971.31 L456.92 968.59 L457.33 965.91 L457.81 963.26 L458.36 960.66 L458.98 958.1 L459.68 955.57 L460.45 953.09 L461.29 950.64 L462.22 948.24 L463.23 945.88 L464.32 943.55 L465.5 941.27 L466.76 939.03 L468.12 936.83 L469.58 934.68 L471.12 932.56 L472.77 930.48 L474.52 928.44 L476.37 926.44 L478.33 924.49 L480.4 922.57 L482.58 920.69 L484.86 918.85 L487.27 917.05 L489.78 915.28 L492.42 913.56 L495.17 911.88 L498.04 910.23 L501.03 908.62 L504.14 907.05 L507.37 905.52 L510.72 904.03 L514.18 902.58 L517.77 901.16 L521.48 899.79 L525.3 898.46 L529.23 897.17 L533.28 895.92 L537.44 894.71 L541.7 893.54 L546.08 892.42 L550.55 891.35 L555.12 890.32 L559.79 889.33 L564.54 888.39 L569.39 887.51 L574.31 886.67 L579.31 885.88 L584.39 885.15 L589.52 884.47 L594.72 883.85 L599.98 883.28 L605.28 882.77 L610.63 882.33 L616.01 881.94 L621.42 881.62 L626.86 881.36 L632.31 881.17 L637.78 881.05 L643.25 881 L648.71 881.02 L654.17 881.12 L659.61 881.29 L665.03 881.53 L670.42 881.85 L675.77 882.25 L681.08 882.74 L686.35 883.3 L691.56 883.95 L696.71 884.67 L701.8 885.49 L706.81 886.39 L711.75 887.37 L716.61 888.44 L721.39 889.6 L726.07 890.84 L730.66 892.17 L735.16 893.58 L739.55 895.08 L743.84 896.67 L748.02 898.34 L752.09 900.09 L756.05 901.93 L759.89 903.85 L763.62 905.84 L767.23 907.92 L770.72 910.07 L774.09 912.29 L777.35 914.59 L780.48 916.96 L783.49 919.39 L786.39 921.89 L789.16 924.45 L791.82 927.08 L794.36 929.75 L796.78 932.48 L799.1 935.26 L801.29 938.09 L803.38 940.96 L805.36 943.87 L807.24 946.82 L809.01 949.8 L810.67 952.81 L812.24 955.85 L813.71 958.91 L815.09 961.98 L816.38 965.08 L817.57 968.19 L818.68 971.3 L819.71 974.43 L820.65 977.55 L821.51 980.68 L822.3 983.8 L823 986.91 L823.64 990.02 L824.2 993.11 L824.7 996.19 L825.12 999.26 L825.48 1002.3 L825.77 1005.32 L825.99 1008.32 L826.15 1011.29 L826.25 1014.24 L826.28 1017.15 L826.25 1020.01 L826.16 1022.84 L826 1025.63 L825.78 1028.39 L825.5 1031.12 L825.16 1033.81 L824.74 1036.46 L824.27 1039.08 L823.72 1041.66 L823.11 1044.2 L822.42 1046.7 L821.66 1049.16 L820.83 1051.58 L819.91 1053.96 L818.92 1056.3 L817.85 1058.6 L816.7 1060.86 L815.45 1063.08 L814.12 1065.26 L812.7 1067.4 L811.19 1069.5 L809.58 1071.57 L807.87 1073.59 L806.06 1075.57 L804.15 1077.51 L802.14 1079.42 L800.02 1081.28 L797.79 1083.11 L795.45 1084.9 L793 1086.65 L790.44 1088.36 L787.76 1090.04 L784.97 1091.67 L782.06 1093.27 L779.04 1094.83 L775.9 1096.35 L772.64 1097.83 L769.27 1099.28 L765.78 1100.68 L762.18 1102.05 L758.47 1103.37 L754.64 1104.66 L750.71 1105.9 L746.66 1107.1 L742.51 1108.27 L738.26 1109.38 L733.9 1110.46 L729.45 1111.49 L724.91 1112.47 L720.27 1113.41 L715.55 1114.3 L710.75 1115.14 L705.87 1115.93 L700.92 1116.67 L695.9 1117.35 L690.81 1117.98 L685.68 1118.56 L680.49 1119.08 L675.25 1119.54 L669.97 1119.94 L664.67 1120.28 L659.33 1120.55 L653.97 1120.77 L648.6 1120.91 L643.21 1120.99 L637.83 1120.99 L632.45 1120.93 L627.08 1120.8 L621.72 1120.59 L616.39 1120.3 L611.09 1119.94 L605.82 1119.5 L600.59 1118.98 L595.41 1118.38 L590.28 1117.71 L585.21 1116.94 L580.21 1116.1 L575.27 1115.17 L570.4 1114.16 L565.62 1113.07 L560.91 1111.89 L556.3 1110.63 L551.77 1109.28 L547.34 1107.85 L543 1106.33 L538.77 1104.73 L534.64 1103.05 L530.62 1101.29 L526.7 1099.45 L522.9 1097.53 L519.21 1095.53 L515.63 1093.45 L512.17 1091.3 L508.82 1089.08 L505.58 1086.79 L502.47 1084.43 L499.47 1082 L496.59 1079.51 L493.82 1076.96 L491.16 1074.35 L488.62 1071.69 L486.19 1068.97 L483.88 1066.21 L481.67 1063.4 L479.57 1060.54 L477.58 1057.65 L475.69 1054.72 L473.9 1051.76 L472.21 1048.77 L470.62 1045.75 L469.13 1042.71 L467.72 1039.66 L466.41 1036.58 L465.19 1033.49 L464.05 1030.4 L462.99 1027.29 L462.02 1024.19 L461.12 1021.08 L460.3 1017.98 L459.56 1014.88 L458.88 1011.79 L458.28 1008.71 L457.75 1005.65 L457.29 1002.6 L456.89 999.57 L456.56 996.56 L456.29 993.58 L456.08 990.62 L455.94 987.68 L455.86 984.78 L455.84 981.89 L455.89 978.97 L456 976.09 L456.18 973.25 L456.42 970.45 L456.74 967.68 L457.12 964.95 L457.57 962.27 L458.09 959.62 L458.69 957.02 L459.36 954.45 L460.11 951.93 L460.94 949.46 L461.85 947.02 L462.84 944.63 L463.92 942.28 L465.08 939.98 L466.34 937.71 L467.69 935.49 L469.13 933.32 L470.68 931.18 L472.33 929.09 L474.08 927.04 L475.93 925.04 L477.9 923.07 L479.97 921.15 L482.16 919.26 L484.47 917.42 L486.89 915.62 L489.43 913.86 L492.09 912.14 L494.87 910.46 L497.77 908.82 L500.8 907.23 L503.95 905.67 L507.22 904.15 L510.62 902.68 L514.14 901.24 L517.78 899.85 L521.54 898.5 L525.43 897.19 L529.43 895.92 L533.55 894.7 L537.78 893.52 L542.12 892.39 L546.58 891.3 L551.13 890.26 L555.79 889.27 L560.54 888.33 L565.39 887.44 L570.33 886.59 L575.34 885.81 L580.44 885.07 L585.61 884.39 L590.84 883.77 L596.14 883.21 L601.49 882.7 L606.89 882.26 L612.34 881.88 L617.81 881.57 L623.32 881.32 L628.85 881.14 L634.4 881.04 L639.95 881 L645.5 881.04 L651.05 881.15 L656.59 881.34 L662.11 881.61 L667.6 881.95 L673.05 882.38 L678.47 882.89 L683.84 883.48 L689.16 884.16 L694.42 884.93 L699.62 885.78 L704.75 886.71 L709.8 887.74 L714.77 888.85 L719.65 890.05 L724.44 891.35 L729.14 892.73 L733.73 894.19 L738.23 895.75 L742.61 897.39 L746.89 899.12 L751.06 900.94 L755.11 902.84 L759.04 904.82 L762.85 906.89 L766.54 909.03 L770.11 911.26 L773.56 913.56 L776.88 915.93 L780.08 918.37 L783.15 920.88 L786.11 923.46 L788.94 926.1 L791.64 928.8 L794.23 931.56 L796.7 934.37 L799.05 937.23 L801.29 940.14 L803.41 943.09 L805.42 946.08 L807.32 949.1 L809.11 952.16 L810.79 955.25 L812.38 958.36 L813.87 961.49 L815.25 964.64 L816.55 967.81 L817.75 970.98 L818.86 974.17 L819.89 977.35 L820.83 980.54 L821.69 983.73 L822.47 986.9 L823.17 990.07 L823.8 993.23 L824.35 996.37 L824.83 999.5 L825.24 1002.61 L825.58 1005.69 L825.85 1008.75 L826.06 1011.78 L826.2 1014.78 L826.27 1017.76 L826.28 1020.67 L826.22 1023.52 L826.1 1026.33 L825.92 1029.11 L825.67 1031.85 L825.37 1034.55 L824.99 1037.22 L824.55 1039.85 L824.04 1042.44 L823.47 1044.99 L822.82 1047.5 L822.1 1049.97 L821.31 1052.4 L820.44 1054.79 L819.49 1057.14 L818.46 1059.44 L817.35 1061.71 L816.15 1063.93 L814.87 1066.11 L813.49 1068.25 L812.02 1070.35 L810.46 1072.41 L808.8 1074.43 L807.04 1076.41 L805.18 1078.35 L803.22 1080.25 L801.15 1082.1 L798.97 1083.92 L796.68 1085.7 L794.28 1087.44 L791.77 1089.15 L789.15 1090.81 L786.4 1092.43 L783.55 1094.01 L780.58 1095.56 L777.49 1097.06 L774.28 1098.53 L770.96 1099.96 L767.52 1101.35 L763.96 1102.69 L760.29 1104 L756.51 1105.26 L752.62 1106.49 L748.61 1107.67 L744.5 1108.81 L740.29 1109.9 L735.97 1110.95 L731.55 1111.96 L727.04 1112.92 L722.43 1113.83 L717.73 1114.7 L712.96 1115.51 L708.1 1116.28 L703.17 1116.99 L698.16 1117.65 L693.09 1118.25 L687.97 1118.8 L682.78 1119.29 L677.56 1119.73 L672.28 1120.1 L666.97 1120.41 L661.63 1120.65 L656.27 1120.84 L650.89 1120.95 L645.5 1121 L640.1 1120.98 L634.7 1120.88 L629.32 1120.72 L623.94 1120.48 L618.59 1120.16 L613.26 1119.77 L607.96 1119.3 L602.71 1118.75 L597.5 1118.12 L592.34 1117.41 L587.23 1116.61 L582.19 1115.74 L577.21 1114.78 L572.31 1113.74 L567.48 1112.61 L562.74 1111.4 L558.08 1110.1 L553.51 1108.72 L549.03 1107.26 L544.65 1105.71 L540.38 1104.08 L536.2 1102.36 L532.13 1100.56 L528.17 1098.69 L524.32 1096.73 L520.58 1094.7 L516.96 1092.59 L513.45 1090.41 L510.06 1088.15 L506.78 1085.82 L503.62 1083.43 L500.58 1080.97 L497.65 1078.45 L494.85 1075.86 L492.15 1073.22 L489.57 1070.53 L487.1 1067.78 L484.75 1064.98 L482.51 1062.14 L480.37 1059.26 L478.34 1056.34 L476.42 1053.38 L474.6 1050.39 L472.88 1047.37 L471.26 1044.32 L469.74 1041.26 L468.31 1038.17 L466.97 1035.07 L465.72 1031.96 L464.56 1028.84 L463.48 1025.71 L462.48 1022.59 L461.57 1019.46 L460.73 1016.33 L459.96 1013.22 L459.27 1010.11 L458.65 1007.02 L458.1 1003.94 L457.62 1000.87 L457.21 997.83 L456.86 994.81 L456.58 991.81 L456.36 988.84 L456.2 985.9 L456.11 982.99 L456.08 980.11 L456.11 977.21 L456.21 974.34 L456.37 971.51 L456.61 968.72 L456.9 965.97 L457.27 963.26 L457.7 960.59 L458.21 957.96 L458.79 955.38 L459.44 952.84 L460.17 950.34 L460.97 947.88 L461.86 945.47 L462.82 943.1 L463.88 940.77 L465.02 938.49 L466.24 936.25 L467.57 934.06 L468.98 931.9 L470.49 929.8 L472.11 927.73 L473.82 925.71 L475.64 923.73 L477.57 921.79 L479.61 919.89 L481.76 918.04 L484.02 916.23 L486.4 914.46 L488.89 912.73 L491.51 911.04 L494.24 909.39 L497.1 907.78 L500.08 906.22 L503.18 904.69 L506.4 903.21 L509.75 901.76 L513.21 900.36 L516.8 899 L520.51 897.69 L524.35 896.41 L528.29 895.18 L532.36 893.99 L536.54 892.85 L540.83 891.75 L545.23 890.7 L549.73 889.7 L554.33 888.74 L559.04 887.83 L563.83 886.98 L568.72 886.17 L573.69 885.42 L578.74 884.72 L583.86 884.07 L589.05 883.48 L594.31 882.95 L599.62 882.48 L604.98 882.08 L610.39 881.73 L615.83 881.45 L621.31 881.24 L626.81 881.09 L632.33 881.01 L637.86 881.01 L643.39 881.07 L648.92 881.21 L654.45 881.43 L659.95 881.73 L665.43 882.1 L670.88 882.55 L676.3 883.09 L681.67 883.7 L686.99 884.41 L692.26 885.19 L697.46 886.06 L702.6 887.02 L707.67 888.07 L712.65 889.2 L717.56 890.42 L722.37 891.73 L727.09 893.12 L731.72 894.6 L736.24 896.17 L740.66 897.83 L744.97 899.57 L749.17 901.4 L753.26 903.31 L757.23 905.3 L761.09 907.38 L764.82 909.53 L768.44 911.76 L771.93 914.07 L775.3 916.44 L778.55 918.89 L781.67 921.41 L784.68 923.99 L787.56 926.64 L790.32 929.34 L792.95 932.1 L795.47 934.91 L797.87 937.78 L800.16 940.69 L802.33 943.64 L804.39 946.63 L806.34 949.66 L808.18 952.72 L809.92 955.81 L811.55 958.92 L813.08 962.06 L814.52 965.21 L815.86 968.38 L817.11 971.56 L818.26 974.75 L819.33 977.93 L820.32 981.12 L821.22 984.31 L822.04 987.49 L822.78 990.66 L823.45 993.82 L824.04 996.97 L824.56 1000.1 L825.01 1003.21 L825.39 1006.29 L825.7 1009.35 L825.94 1012.39 L826.12 1015.39 L826.23 1018.37 L826.28 1021.31 L826.26 1024.2 L826.18 1027.04 L826.03 1029.85 L825.82 1032.63 L825.55 1035.36 L825.21 1038.06 L824.8 1040.72 L824.33 1043.33 L823.78 1045.91 L823.17 1048.44 L822.48 1050.93 L821.72 1053.38 L820.88 1055.79 L819.96 1058.15 L818.96 1060.48 L817.88 1062.75 L816.71 1064.99 L815.46 1067.18 L814.11 1069.33 L812.68 1071.44 L811.14 1073.51 L809.51 1075.53 L807.78 1077.51 L805.95 1079.45 L804.01 1081.35 L801.96 1083.2 L799.81 1085.02 L797.54 1086.79 L795.16 1088.53 L792.67 1090.22 L790.06 1091.88 L787.34 1093.49 L784.5 1095.06 L781.54 1096.59 L778.46 1098.08 L775.27 1099.53 L771.95 1100.94 L768.52 1102.31 L764.97 1103.64 L761.3 1104.92 L757.51 1106.16 L753.62 1107.36 L749.61 1108.52 L745.49 1109.63 L741.26 1110.7 L736.93 1111.72 L732.5 1112.7 L727.97 1113.62 L723.34 1114.5 L718.63 1115.33 L713.83 1116.11 L708.95 1116.84 L703.99 1117.51 L698.96 1118.13 L693.86 1118.69 L688.7 1119.2 L683.49 1119.64 L678.22 1120.03 L672.92 1120.35 L667.57 1120.61 L662.2 1120.81 L656.8 1120.94 L651.38 1121 L645.95 1120.99 L640.51 1120.9 L635.08 1120.75 L629.65 1120.52 L624.24 1120.22 L618.85 1119.84 L613.49 1119.38 L608.16 1118.84 L602.87 1118.22 L597.62 1117.52 L592.43 1116.73 L587.29 1115.86 L582.22 1114.91 L577.22 1113.87 L572.29 1112.75 L567.44 1111.54 L562.67 1110.25 L557.99 1108.87 L553.41 1107.4 L548.92 1105.85 L544.52 1104.22 L540.23 1102.5 L536.05 1100.7 L531.98 1098.81 L528.01 1096.85 L524.16 1094.8 L520.42 1092.68 L516.8 1090.48 L513.3 1088.21 L509.91 1085.87 L506.64 1083.45 L503.49 1080.97 L500.46 1078.43 L497.55 1075.82 L494.76 1073.15 L492.08 1070.43 L489.52 1067.65 L487.07 1064.83 L484.74 1061.95 L482.52 1059.04 L480.41 1056.08 L478.41 1053.08 L476.51 1050.06 L474.72 1047 L473.02 1043.92 L471.43 1040.81 L469.94 1037.69 L468.54 1034.55 L467.23 1031.39 L466.01 1028.23 L464.88 1025.07 L463.83 1021.9 L462.86 1018.73 L461.98 1015.56 L461.17 1012.41 L460.44 1009.26 L459.78 1006.13 L459.19 1003.01 L458.68 999.91 L458.23 996.83 L457.85 993.77 L457.54 990.74 L457.29 987.73 L457.1 984.76 L456.98 981.81 L456.93 978.9 L456.93 975.95 L456.99 972.98 L457.12 970.05 L457.3 967.17 L457.54 964.32 L457.83 961.52 L458.19 958.77 L458.62 956.06 L459.1 953.4 L459.65 950.79 L460.27 948.22 L460.96 945.7 L461.72 943.23 L462.55 940.8 L463.45 938.43 L464.44 936.1 L465.5 933.82 L466.64 931.58 L467.87 929.4 L469.19 927.26 L470.59 925.17 L472.08 923.12 L473.67 921.12 L475.36 919.17 L477.14 917.26 L479.02 915.4 L481 913.58 L483.09 911.81 L485.28 910.08 L487.58 908.4 L489.98 906.76 L492.49 905.17 L495.11 903.62 L497.84 902.12 L500.67 900.66 L503.62 899.24 L506.67 897.88 L509.83 896.55 L513.09 895.28 L516.46 894.05 L519.93 892.87 L523.51 891.74 L527.18 890.65 L530.94 889.62 L534.8 888.64 L538.75 887.71 L542.78 886.84 L546.89 886.01 L551.09 885.25 L555.35 884.54 L559.69 883.9 L564.08 883.31 L568.54 882.78 L573.05 882.32 L577.6 881.93 L582.2 881.6 L586.83 881.34 L591.5 881.15 L596.18 881.04 L600.89 881 L605.6 881.04" fill="none" stroke="#FF0000" stroke-width="4.2" stroke-linejoin="round" stroke-linecap="butt" />
<circle cx="641" cy="1001" r="120" fill="none" stroke="#000" stroke-width="4" stroke-dasharray="10 2 6 2"/>
<path d="M1131.44 1008.8 L1131.4 1011.75 L1131.29 1014.69 L1131.11 1017.63 L1130.86 1020.56 L1130.53 1023.49 L1130.14 1026.39 L1129.66 1029.29 L1129.12 1032.17 L1128.51 1035.03 L1127.83 1037.88 L1127.07 1040.7 L1126.25 1043.5 L1125.35 1046.28 L1124.39 1049.03 L1123.36 1051.76 L1122.26 1054.45 L1121.1 1057.12 L1119.86 1059.75 L1118.57 1062.35 L1117.2 1064.91 L1115.78 1067.44 L1114.29 1069.93 L1112.74 1072.38 L1111.12 1074.78 L1109.45 1077.15 L1107.72 1079.47 L1105.93 1081.74 L1104.08 1083.97 L1102.17 1086.15 L1100.21 1088.28 L1098.2 1090.35 L1096.14 1092.38 L1094.02 1094.35 L1091.85 1096.27 L1089.64 1098.13 L1087.38 1099.93 L1085.07 1101.68 L1082.72 1103.36 L1080.32 1104.99 L1077.88 1106.55 L1075.4 1108.06 L1072.89 1109.5 L1070.33 1110.87 L1067.74 1112.18 L1065.12 1113.43 L1062.47 1114.61 L1059.78 1115.72 L1057.06 1116.77 L1054.32 1117.74 L1051.55 1118.65 L1048.76 1119.49 L1045.94 1120.25 L1043.11 1120.95 L1040.25 1121.58 L1037.38 1122.13 L1034.49 1122.62 L1031.59 1123.03 L1028.67 1123.37 L1025.75 1123.63 L1022.81 1123.83 L1019.87 1123.95 L1016.93 1124 L1013.98 1123.98 L1011.03 1123.88 L1008.08 1123.71 L1005.13 1123.47 L1002.19 1123.15 L999.25 1122.77 L996.32 1122.31 L993.4 1121.78 L990.49 1121.18 L987.59 1120.51 L984.71 1119.76 L981.84 1118.95 L979 1118.07 L976.17 1117.12 L973.36 1116.1 L970.58 1115.01 L967.82 1113.85 L965.09 1112.63 L962.38 1111.34 L959.71 1109.99 L957.07 1108.57 L954.46 1107.09 L951.88 1105.55 L949.34 1103.94 L946.84 1102.28 L944.38 1100.55 L941.96 1098.77 L939.58 1096.93 L937.24 1095.03 L934.95 1093.08 L932.71 1091.07 L930.51 1089.01 L928.37 1086.9 L926.27 1084.74 L924.23 1082.53 L922.24 1080.27 L920.3 1077.97 L918.42 1075.62 L916.59 1073.23 L914.82 1070.79 L913.11 1068.32 L911.46 1065.8 L909.88 1063.25 L908.35 1060.67 L906.88 1058.04 L905.48 1055.39 L904.15 1052.71 L902.87 1049.99 L901.67 1047.25 L900.53 1044.48 L899.46 1041.69 L898.45 1038.87 L897.52 1036.03 L896.65 1033.18 L895.86 1030.3 L895.13 1027.41 L894.48 1024.51 L893.89 1021.59 L893.38 1018.66 L892.94 1015.73 L892.57 1012.78 L892.27 1009.83 L892.05 1006.88 L891.89 1003.93 L891.81 1000.97 L891.81 998.04 L891.87 995.15 L892 992.26 L892.2 989.38 L892.48 986.5 L892.82 983.64 L893.23 980.79 L893.71 977.95 L894.26 975.13 L894.88 972.32 L895.56 969.53 L896.32 966.77 L897.14 964.02 L898.03 961.3 L898.98 958.6 L900 955.93 L901.09 953.29 L902.24 950.67 L903.45 948.09 L904.73 945.54 L906.07 943.03 L907.47 940.55 L908.93 938.1 L910.45 935.7 L912.03 933.34 L913.67 931.01 L915.37 928.73 L917.12 926.5 L918.93 924.31 L920.79 922.16 L922.71 920.06 L924.67 918.02 L926.69 916.02 L928.76 914.07 L930.87 912.18 L933.04 910.34 L935.24 908.55 L937.5 906.82 L939.79 905.15 L942.13 903.54 L944.51 901.98 L946.93 900.48 L949.38 899.05 L951.88 897.67 L954.4 896.36 L956.97 895.11 L959.56 893.92 L962.18 892.8 L964.83 891.74 L967.51 890.75 L970.22 889.82 L972.95 888.96 L975.7 888.17 L978.47 887.45 L981.26 886.79 L984.07 886.2 L986.9 885.69 L989.74 885.24 L992.59 884.86 L995.45 884.54 L998.33 884.3 L1001.21 884.13 L1004.1 884.03 L1006.99 884 L1009.88 884.04 L1012.78 884.15 L1015.67 884.33 L1018.57 884.58 L1021.45 884.89 L1024.34 885.28 L1027.21 885.74 L1030.08 886.27 L1032.93 886.86 L1035.78 887.53 L1038.6 888.26 L1041.42 889.06 L1044.21 889.92 L1046.99 890.86 L1049.75 891.85 L1052.48 892.92 L1055.19 894.05 L1057.87 895.24 L1060.53 896.5 L1063.16 897.82 L1065.76 899.2 L1068.33 900.64 L1070.86 902.15 L1073.36 903.71 L1075.82 905.33 L1078.25 907.01 L1080.64 908.75 L1082.98 910.54 L1085.29 912.39 L1087.55 914.28 L1089.77 916.24 L1091.94 918.24 L1094.06 920.29 L1096.14 922.4 L1098.17 924.55 L1100.15 926.74 L1102.07 928.98 L1103.94 931.27 L1105.76 933.6 L1107.53 935.96 L1109.23 938.37 L1110.88 940.82 L1112.48 943.3 L1114.01 945.82 L1115.48 948.38 L1116.9 950.96 L1118.25 953.58 L1119.54 956.22 L1120.76 958.9 L1121.93 961.6 L1123.03 964.32 L1124.06 967.07 L1125.03 969.84 L1125.93 972.63 L1126.76 975.44 L1127.53 978.26 L1128.23 981.1 L1128.86 983.95 L1129.42 986.82 L1129.92 989.69 L1130.34 992.58 L1130.7 995.47 L1130.99 998.36 L1131.2 1001.26 L1131.35 1004.16 L1131.43 1007.06 L1131.43 1009.98 L1131.37 1012.92 L1131.23 1015.85 L1131.02 1018.78 L1130.74 1021.69 L1130.39 1024.6 L1129.96 1027.5 L1129.47 1030.38 L1128.9 1033.24 L1128.27 1036.09 L1127.56 1038.92 L1126.78 1041.72 L1125.93 1044.51 L1125.02 1047.27 L1124.03 1050 L1122.98 1052.71 L1121.86 1055.39 L1120.68 1058.03 L1119.43 1060.64 L1118.11 1063.22 L1116.73 1065.77 L1115.29 1068.27 L1113.78 1070.74 L1112.22 1073.17 L1110.59 1075.55 L1108.9 1077.9 L1107.15 1080.19 L1105.35 1082.45 L1103.49 1084.65 L1101.58 1086.81 L1099.61 1088.91 L1097.58 1090.97 L1095.51 1092.97 L1093.38 1094.92 L1091.21 1096.82 L1088.99 1098.66 L1086.72 1100.44 L1084.41 1102.16 L1082.05 1103.83 L1079.65 1105.43 L1077.21 1106.97 L1074.73 1108.45 L1072.21 1109.87 L1069.65 1111.23 L1067.06 1112.52 L1064.44 1113.74 L1061.78 1114.9 L1059.1 1115.99 L1056.38 1117.01 L1053.64 1117.97 L1050.88 1118.86 L1048.09 1119.68 L1045.27 1120.43 L1042.44 1121.1 L1039.59 1121.71 L1036.72 1122.25 L1033.84 1122.71 L1030.94 1123.11 L1028.04 1123.43 L1025.12 1123.68 L1022.19 1123.86 L1019.26 1123.97 L1016.32 1124 L1013.38 1123.96 L1010.44 1123.85 L1007.5 1123.67 L1004.57 1123.41 L1001.63 1123.09 L998.71 1122.69 L995.79 1122.22 L992.88 1121.68 L989.98 1121.07 L987.09 1120.38 L984.22 1119.63 L981.37 1118.81 L978.53 1117.92 L975.71 1116.96 L972.92 1115.93 L970.15 1114.83 L967.4 1113.67 L964.68 1112.44 L961.99 1111.15 L959.33 1109.79 L956.7 1108.37 L954.1 1106.88 L951.54 1105.34 L949.01 1103.73 L946.53 1102.06 L944.08 1100.33 L941.67 1098.55 L939.3 1096.71 L936.98 1094.81 L934.7 1092.86 L932.47 1090.85 L930.29 1088.79 L928.15 1086.68 L926.07 1084.52 L924.03 1082.31 L922.05 1080.06 L920.13 1077.76 L918.26 1075.41 L916.44 1073.03 L914.68 1070.6 L912.98 1068.13 L911.34 1065.62 L909.77 1063.07 L908.25 1060.49 L906.79 1057.88 L905.4 1055.23 L904.07 1052.55 L902.81 1049.84 L901.61 1047.11 L900.48 1044.34 L899.41 1041.56 L898.41 1038.75 L897.48 1035.92 L896.62 1033.07 L895.83 1030.21 L895.11 1027.32 L894.46 1024.43 L893.88 1021.52 L893.37 1018.6 L892.93 1015.67 L892.56 1012.74 L892.27 1009.8 L892.04 1006.86 L891.89 1003.91 L891.81 1000.97 L891.81 998.03 L891.87 995.11 L892.01 992.19 L892.21 989.29 L892.49 986.39 L892.84 983.5 L893.26 980.62 L893.75 977.75 L894.31 974.91 L894.94 972.08 L895.63 969.26 L896.4 966.47 L897.24 963.7 L898.14 960.96 L899.12 958.24 L900.15 955.55 L901.26 952.89 L902.43 950.25 L903.67 947.65 L904.97 945.08 L906.33 942.55 L907.76 940.06 L909.24 937.6 L910.79 935.18 L912.4 932.8 L914.07 930.47 L915.79 928.18 L917.58 925.93 L919.42 923.73 L921.31 921.58 L923.26 919.48 L925.26 917.43 L927.31 915.43 L929.41 913.48 L931.56 911.58 L933.76 909.74 L936 907.96 L938.29 906.23 L940.63 904.57 L943 902.96 L945.42 901.41 L947.87 899.92 L950.37 898.5 L952.89 897.13 L955.46 895.83 L958.06 894.6 L960.69 893.43 L963.35 892.32 L966.04 891.29 L968.75 890.32 L971.49 889.41 L974.26 888.58 L977.05 887.81 L979.86 887.11 L982.68 886.49 L985.53 885.93 L988.39 885.44 L991.26 885.02 L994.15 884.68 L997.04 884.4 L999.95 884.2 L1002.86 884.07 L1005.78 884 L1008.7 884.01 L1011.62 884.1 L1014.54 884.25 L1017.46 884.47 L1020.38 884.77 L1023.29 885.13 L1026.2 885.57 L1029.09 886.08 L1031.98 886.65 L1034.85 887.3 L1037.71 888.02 L1040.56 888.8 L1043.38 889.66 L1046.19 890.58 L1048.98 891.57 L1051.75 892.63 L1054.49 893.75 L1057.2 894.94 L1059.89 896.19 L1062.55 897.51 L1065.18 898.89 L1067.78 900.33 L1070.35 901.84 L1072.87 903.4 L1075.37 905.03 L1077.82 906.71 L1080.24 908.45 L1082.61 910.25 L1084.95 912.11 L1087.24 914.02 L1089.48 915.98 L1091.68 918 L1093.83 920.06 L1095.93 922.18 L1097.98 924.34 L1099.98 926.56 L1101.93 928.82 L1103.82 931.12 L1105.66 933.47 L1107.45 935.85 L1109.17 938.28 L1110.84 940.75 L1112.45 943.26 L1114 945.8 L1115.48 948.38 L1116.91 950.99 L1118.27 953.63 L1119.57 956.3 L1120.81 959 L1121.98 961.73 L1123.09 964.48 L1124.12 967.25 L1125.1 970.05 L1126 972.87 L1126.84 975.7 L1127.61 978.55 L1128.3 981.42 L1128.93 984.3 L1129.49 987.2 L1129.98 990.1 L1130.4 993.01 L1130.75 995.93 L1131.03 998.85 L1131.23 1001.78 L1131.37 1004.7 L1131.43 1007.63 L1131.43 1010.55 L1131.35 1013.46 L1131.2 1016.36 L1130.98 1019.26 L1130.69 1022.15 L1130.33 1025.03 L1129.9 1027.9 L1129.4 1030.75 L1128.83 1033.59 L1128.19 1036.4 L1127.48 1039.2 L1126.71 1041.98 L1125.86 1044.74 L1124.95 1047.47 L1123.97 1050.18 L1122.92 1052.86 L1121.81 1055.51 L1120.63 1058.13 L1119.39 1060.72 L1118.09 1063.27 L1116.72 1065.79 L1115.29 1068.27 L1113.8 1070.72 L1112.25 1073.12 L1110.64 1075.49 L1108.97 1077.81 L1107.24 1080.09 L1105.45 1082.32 L1103.62 1084.51 L1101.72 1086.65 L1099.77 1088.74 L1097.78 1090.78 L1095.73 1092.77 L1093.63 1094.71 L1091.48 1096.59 L1089.28 1098.42 L1087.04 1100.19 L1084.75 1101.91 L1082.43 1103.57 L1080.05 1105.16 L1077.64 1106.7 L1075.19 1108.18 L1072.7 1109.6 L1070.18 1110.95 L1067.62 1112.25 L1065.03 1113.47 L1062.4 1114.64 L1059.75 1115.73 L1057.07 1116.76 L1054.36 1117.73 L1051.63 1118.63 L1048.87 1119.45 L1046.09 1120.22 L1043.29 1120.91 L1040.47 1121.53 L1037.63 1122.09 L1034.78 1122.57 L1031.92 1122.98 L1029.04 1123.33 L1026.15 1123.6 L1023.26 1123.8 L1020.35 1123.93 L1017.44 1124 L1014.53 1123.99 L1011.62 1123.9 L1008.71 1123.75 L1005.8 1123.53 L1002.89 1123.24 L999.98 1122.87 L997.09 1122.44 L994.2 1121.93 L991.32 1121.36 L988.46 1120.71 L985.61 1120 L982.77 1119.22 L979.95 1118.37 L977.15 1117.46 L974.37 1116.47 L971.61 1115.42 L968.88 1114.3 L966.17 1113.12 L963.49 1111.88 L960.84 1110.57 L958.21 1109.19 L955.62 1107.76 L953.06 1106.26 L950.54 1104.71 L948.05 1103.09 L945.6 1101.42 L943.19 1099.68 L940.81 1097.89 L938.49 1096.05 L936.2 1094.15 L933.96 1092.2 L931.76 1090.19 L929.61 1088.14 L927.51 1086.03 L925.46 1083.88 L923.47 1081.68 L921.52 1079.43 L919.62 1077.14 L917.79 1074.81 L916 1072.43 L914.27 1070.01 L912.6 1067.56 L910.99 1065.06 L909.44 1062.53 L907.95 1059.97 L906.52 1057.37 L905.15 1054.74 L903.85 1052.08 L902.61 1049.4 L901.43 1046.68 L900.32 1043.94 L899.27 1041.18 L898.29 1038.39 L897.38 1035.59 L896.53 1032.76 L895.76 1029.92 L895.05 1027.07 L894.41 1024.2 L893.84 1021.32 L893.34 1018.42 L892.91 1015.52 L892.55 1012.61 L892.26 1009.7 L892.04 1006.79 L891.89 1003.87 L891.81 1000.95 L891.81 998.03 L891.87 995.1 L892.01 992.17 L892.21 989.25 L892.49 986.35 L892.84 983.45 L893.27 980.56 L893.76 977.69 L894.32 974.83 L894.96 971.99 L895.66 969.17 L896.43 966.37 L897.27 963.6 L898.18 960.85 L899.16 958.12 L900.21 955.42 L901.32 952.75 L902.5 950.11 L903.74 947.5 L905.05 944.93 L906.42 942.39 L907.85 939.89 L909.35 937.43 L910.91 935.01 L912.53 932.63 L914.2 930.29 L915.94 927.99 L917.73 925.74 L919.58 923.54 L921.49 921.39 L923.44 919.28 L925.46 917.23 L927.52 915.23 L929.63 913.28 L931.79 911.38 L934 909.54 L936.26 907.76 L938.56 906.04 L940.91 904.37 L943.29 902.76 L945.72 901.22 L948.19 899.73 L950.7 898.31 L953.24 896.95 L955.82 895.66 L958.43 894.43 L961.07 893.26 L963.74 892.17 L966.44 891.14 L969.17 890.17 L971.93 889.28 L974.71 888.45 L977.5 887.69 L980.33 887 L983.16 886.39 L986.02 885.84 L988.89 885.36 L991.78 884.96 L994.67 884.62 L997.58 884.36 L1000.5 884.17 L1003.42 884.05 L1006.34 884 L1009.27 884.03 L1012.21 884.12 L1015.14 884.29 L1018.07 884.53 L1020.99 884.84 L1023.91 885.22 L1026.82 885.67 L1029.73 886.2 L1032.62 886.79 L1035.5 887.46 L1038.36 888.19 L1041.21 889 L1044.05 889.87 L1046.86 890.81 L1049.65 891.82 L1052.42 892.89 L1055.16 894.04 L1057.88 895.24 L1060.57 896.52 L1063.23 897.86 L1065.86 899.26 L1068.46 900.72 L1071.02 902.25 L1073.55 903.83 L1076.04 905.48 L1078.49 907.19 L1080.91 908.95 L1083.28 910.77 L1085.6 912.65 L1087.89 914.58 L1090.13 916.56 L1092.32 918.6 L1094.46 920.69 L1096.55 922.82 L1098.59 925.01 L1100.59 927.24 L1102.52 929.52 L1104.4 931.85 L1106.23 934.22 L1108 936.62 L1109.71 939.07 L1111.37 941.56 L1112.96 944.09 L1114.5 946.65 L1115.97 949.25 L1117.38 951.87 L1118.72 954.53 L1120.01 957.22 L1121.22 959.94 L1122.38 962.69 L1123.46 965.45 L1124.48 968.25 L1125.43 971.06 L1126.31 973.89 L1127.13 976.74 L1127.87 979.61 L1128.55 982.49 L1129.15 985.39 L1129.69 988.29 L1130.15 991.21 L1130.54 994.13 L1130.87 997.06 L1131.12 999.99 L1131.3 1002.93 L1131.4 1005.86 L1131.44 1008.8 L1131.4 1011.8 L1131.29 1014.79 L1131.1 1017.77 L1130.84 1020.75 L1130.5 1023.72 L1130.09 1026.67 L1129.61 1029.61 L1129.05 1032.54 L1128.42 1035.44 L1127.71 1038.33 L1126.93 1041.19 L1126.08 1044.04 L1125.16 1046.85 L1124.17 1049.64 L1123.11 1052.4 L1121.97 1055.13 L1120.77 1057.83 L1119.5 1060.5 L1118.16 1063.13 L1116.76 1065.72 L1115.29 1068.28 L1113.75 1070.79 L1112.15 1073.26 L1110.49 1075.69 L1108.77 1078.08 L1106.98 1080.41 L1105.14 1082.71 L1103.24 1084.95 L1101.28 1087.14 L1099.26 1089.27 L1097.19 1091.36 L1095.06 1093.39 L1092.89 1095.36 L1090.66 1097.28 L1088.38 1099.14 L1086.06 1100.94 L1083.69 1102.68 L1081.27 1104.35 L1078.81 1105.97 L1076.31 1107.52 L1073.77 1109 L1071.18 1110.42 L1068.56 1111.78 L1065.91 1113.06 L1063.22 1114.28 L1060.5 1115.43 L1057.75 1116.51 L1054.97 1117.52 L1052.16 1118.46 L1049.33 1119.32 L1046.47 1120.12 L1043.6 1120.84 L1040.7 1121.48 L1037.78 1122.06 L1034.85 1122.56 L1031.9 1122.99 L1028.94 1123.34 L1025.97 1123.62 L1022.99 1123.82 L1020 1123.95 L1017.01 1124 L1014.02 1123.98 L1011.02 1123.88 L1008.02 1123.71 L1005.03 1123.46 L1002.04 1123.14 L999.06 1122.74 L996.08 1122.27 L993.11 1121.72 L990.16 1121.11 L987.22 1120.41 L984.29 1119.65 L981.38 1118.81 L978.49 1117.9 L975.62 1116.92 L972.77 1115.87 L969.95 1114.75 L967.15 1113.56 L964.39 1112.3 L961.65 1110.98 L958.94 1109.58 L956.26 1108.12 L953.62 1106.6 L951.02 1105.01 L948.45 1103.36 L945.93 1101.64 L943.44 1099.87 L941 1098.03 L938.6 1096.14 L936.25 1094.19 L933.94 1092.18 L931.68 1090.12 L929.48 1088 L927.32 1085.83 L925.22 1083.61 L923.17 1081.34 L921.17 1079.02 L919.24 1076.66 L917.36 1074.24 L915.54 1071.79 L913.78 1069.29 L912.08 1066.75 L910.44 1064.18 L908.87 1061.56 L907.36 1058.91 L905.91 1056.22 L904.53 1053.5 L903.22 1050.75 L901.98 1047.98 L900.81 1045.17 L899.7 1042.34 L898.67 1039.48 L897.7 1036.6 L896.81 1033.71 L895.99 1030.79 L895.24 1027.85 L894.56 1024.91 L893.96 1021.94 L893.43 1018.97 L892.97 1015.99 L892.59 1013 L892.29 1010 L892.05 1007 L891.9 1004 L891.81 1001 L891.81 997.94 L891.88 994.78 L892.04 991.63 L892.28 988.49 L892.6 985.36 L893.01 982.24 L893.49 979.14 L894.06 976.06 L894.71 972.99 L895.45 969.95 L896.26 966.92 L897.15 963.93 L898.12 960.96 L899.17 958.03 L900.3 955.12 L901.5 952.25 L902.78 949.41 L904.14 946.62 L905.57 943.86 L907.07 941.14 L908.65 938.47 L910.29 935.85 L912.01 933.27 L913.8 930.74 L915.65 928.26 L917.57 925.83 L919.55 923.46 L921.6 921.14 L923.71 918.88 L925.89 916.68 L928.12 914.55 L930.41 912.47 L932.75 910.46 L935.15 908.51 L937.6 906.63 L940.11 904.81 L942.66 903.07 L945.26 901.39 L947.9 899.79 L950.59 898.25 L953.33 896.8 L956.1 895.41 L958.91 894.1 L961.76 892.87 L964.64 891.72 L967.55 890.64 L970.49 889.64 L973.47 888.72 L976.46 887.89 L979.49 887.13 L982.53 886.45 L985.6 885.86 L988.68 885.34 L991.78 884.91 L994.89 884.56 L998.01 884.3 L1001.14 884.12 L1004.28 884.02 L1007.42 884 L1010.57 884.07 L1013.72 884.22 L1016.86 884.46 L1020 884.78" fill="none" stroke="#FF0000" stroke-width="4.2" stroke-linejoin="round" stroke-linecap="butt" />
<circle cx="1010.6" cy="1004" r="120" fill="none" stroke="#000" stroke-width="4" stroke-dasharray="10 2 6 2"/>
<path d="M1392.09 881.51 L1392.25 881.96 L1392.37 882.48 L1392.57 883.07 L1392.73 883.73 L1393.09 884.46 L1393.43 885.26 L1393.92 886.12 L1394.39 887.06 L1394.42 888.06 L1394.44 889.14 L1394.5 890.27 L1394.55 891.48 L1395.14 892.74 L1395.74 894.08 L1396.29 895.47 L1396.85 896.93 L1396.84 898.45 L1396.83 900.03 L1396.69 901.67 L1396.56 903.37 L1396.91 905.12 L1397.27 906.94 L1397.82 908.81 L1398.37 910.73 L1398.59 912.71 L1398.82 914.74 L1398.97 916.82 L1399.13 918.95 L1399.61 921.13 L1400.08 923.35 L1400.8 925.63 L1401.5 927.94 L1401.78 930.3 L1402.05 932.71 L1401.75 935.15 L1401.42 937.63 L1401.33 940.15 L1401.22 942.7 L1401.16 945.29 L1401.08 947.91 L1400.89 950.56 L1400.68 953.25 L1400.79 955.96 L1400.88 958.69 L1401.18 961.46 L1401.46 964.24 L1401.66 967.05 L1401.84 969.87 L1401.46 972.72 L1401.07 975.58 L1400.66 978.46 L1400.24 981.34 L1400.26 984.24 L1400.29 987.15 L1399.96 990.07 L1399.63 992.99 L1399.13 995.92 L1398.64 998.85 L1398.56 1001.78 L1398.49 1004.72 L1398.42 1007.64 L1398.36 1010.57 L1398.26 1013.48 L1398.16 1016.39 L1397.95 1019.29 L1397.75 1022.18 L1397.45 1025.06 L1397.17 1027.92 L1397.41 1030.76 L1397.66 1033.59 L1398.08 1036.4 L1398.51 1039.18 L1398.58 1041.94 L1398.66 1044.68 L1398.65 1047.39 L1398.65 1050.07 L1398.68 1052.72 L1398.72 1055.34 L1398.49 1057.93 L1398.25 1060.49 L1397.91 1063 L1397.57 1065.48 L1397.4 1067.93 L1397.24 1070.33 L1396.99 1072.69 L1396.74 1075 L1396.57 1077.27 L1396.39 1079.5 L1396.57 1081.68 L1396.73 1083.81 L1397.27 1085.89 L1397.79 1087.92 L1397.97 1089.89 L1398.14 1091.82 L1397.97 1093.69 L1397.78 1095.5 L1397.65 1097.26 L1397.49 1098.95 L1397.07 1100.59 L1396.61 1102.17 L1396.26 1103.69 L1395.88 1105.15 L1395.5 1106.54 L1395.07 1107.87 L1394.55 1109.14 L1393.98 1110.34 L1393.84 1111.48 L1393.66 1112.55 L1393.25 1113.55 L1392.8 1114.49 L1391.85 1115.35 L1390.88 1116.15 L1390.15 1116.88 L1389.39 1117.54 L1388.83 1118.13 L1388.26 1118.65 L1387.66 1119.1 L1387.05 1119.48 L1386.23 1119.79 L1385.42 1120.02 L1384.58 1120.18 L1383.75 1120.28 L1383.02 1120.3 L1382.32 1120.25 L1381.4 1120.13 L1380.52 1119.93 L1379.86 1119.67 L1379.23 1119.33 L1378.87 1118.92 L1378.55 1118.45 L1378.01 1117.9 L1377.51 1117.28 L1377.26 1116.59 L1377.04 1115.83 L1376.86 1115 L1376.71 1114.11 L1376.3 1113.15 L1375.9 1112.11 L1375.87 1111.02 L1375.84 1109.85 L1375.85 1108.63 L1375.87 1107.33 L1375.42 1105.97 L1374.96 1104.55 L1374.2 1103.07 L1373.42 1101.53 L1372.84 1099.92 L1372.26 1098.26 L1372.25 1096.54 L1372.22 1094.76 L1372.25 1092.92 L1372.26 1091.03 L1371.96 1089.08 L1371.65 1087.09 L1371.39 1085.04 L1371.12 1082.93 L1370.95 1080.78 L1370.78 1078.59 L1370.46 1076.34 L1370.16 1074.05 L1369.97 1071.72 L1369.81 1069.34 L1369.63 1066.92 L1369.48 1064.46 L1369.11 1061.97 L1368.77 1059.44 L1368.89 1056.87 L1369.03 1054.26 L1369.45 1051.63 L1369.9 1048.97 L1369.66 1046.27 L1369.44 1043.55 L1369.01 1040.8 L1368.61 1038.03 L1368.83 1035.24 L1369.07 1032.42 L1369.59 1029.59 L1370.12 1026.74 L1370.41 1023.87 L1370.7 1020.99 L1370.66 1018.1 L1370.62 1015.19 L1370.53 1012.28 L1370.44 1009.36 L1370.67 1006.43 L1370.9 1003.51 L1371.34 1000.57 L1371.77 997.64 L1371.93 994.71 L1372.08 991.79 L1372.04 988.87 L1372 985.95 L1372.08 983.05 L1372.16 980.15 L1372.39 977.27 L1372.6 974.4 L1372.77 971.54 L1372.93 968.7 L1372.95 965.89 L1372.96 963.09 L1373.18 960.31 L1373.38 957.56 L1373.61 954.83 L1373.83 952.14 L1373.68 949.47 L1373.53 946.83 L1373.47 944.22 L1373.4 941.64 L1373.54 939.1 L1373.67 936.6 L1373.6 934.13 L1373.52 931.71 L1373.41 929.32 L1373.31 926.98 L1373.06 924.68 L1372.81 922.43 L1372.68 920.22 L1372.55 918.06 L1372.91 915.95 L1373.27 913.89 L1373.5 911.89 L1373.74 909.93 L1373.77 908.03 L1373.82 906.18 L1373.87 904.39 L1373.94 902.66 L1373.93 900.98 L1373.95 899.37 L1374.12 897.81 L1374.33 896.32 L1375 894.89 L1375.7 893.52 L1376.51 892.21 L1377.36 890.97 L1377.68 889.8 L1378.04 888.69 L1378.3 887.64 L1378.6 886.67 L1379.22 885.76 L1379.86 884.92 L1380.45 884.15 L1381.07 883.45 L1381.85 882.81 L1382.65 882.25 L1383.56 881.76 L1384.48 881.34 L1384.96 880.99 L1385.43 880.71 L1385.85 880.51 L1386.26 880.37 L1387.13 880.31 L1387.97 880.31 L1388.95 880.39 L1389.89 880.54 L1390.72 880.77 L1391.52 881.06 L1392.06 881.42 L1392.57 881.86 L1392.86 882.37 L1393.1 882.94 L1393.54 883.59 L1393.94 884.31 L1394.26 885.09 L1394.57 885.95 L1394.76 886.87 L1394.94 887.86 L1395.27 888.92 L1395.59 890.04 L1395.67 891.23 L1395.75 892.48 L1395.82 893.8 L1395.89 895.19 L1396.12 896.63 L1396.36 898.14 L1396.44 899.71 L1396.52 901.34 L1396.8 903.02 L1397.09 904.77 L1397.56 906.57 L1398.03 908.43 L1398.29 910.34 L1398.57 912.31 L1398.75 914.33 L1398.94 916.4 L1399.28 918.52 L1399.61 920.69 L1400.1 922.91 L1400.58 925.17 L1400.91 927.48 L1401.22 929.83 L1401.28 932.22 L1401.33 934.66 L1401.48 937.13 L1401.6 939.64 L1401.64 942.19 L1401.65 944.77 L1401.9 947.39 L1402.11 950.03 L1402.59 952.71 L1403.03 955.41 L1402.65 958.15 L1402.24 960.9 L1401.83 963.68 L1401.4 966.48 L1401.47 969.31 L1401.52 972.15 L1401.27 975.01 L1401.01 977.88 L1400.91 980.77 L1400.81 983.66 L1400.71 986.57 L1400.6 989.49 L1400.14 992.41 L1399.68 995.34 L1399.35 998.27 L1399.03 1001.2 L1398.9 1004.13 L1398.78 1007.06 L1398.53 1009.98 L1398.3 1012.9 L1397.91 1015.81 L1397.54 1018.71 L1397.46 1021.61 L1397.4 1024.48 L1397.72 1027.35 L1398.05 1030.2 L1398.31 1033.03 L1398.58 1035.84 L1398.67 1038.62 L1398.78 1041.39 L1398.8 1044.13 L1398.84 1046.85 L1398.55 1049.54 L1398.26 1052.19 L1397.88 1054.82 L1397.51 1057.42 L1397.22 1059.98 L1396.94 1062.5 L1396.66 1064.99 L1396.38 1067.44 L1396.39 1069.85 L1396.41 1072.22 L1396.66 1074.54 L1396.91 1076.82 L1397.23 1079.06 L1397.55 1081.25 L1397.63 1083.39 L1397.71 1085.48 L1397.45 1087.52 L1397.17 1089.5 L1396.87 1091.44 L1396.55 1093.32 L1396.39 1095.14 L1396.21 1096.91 L1396.32 1098.62 L1396.39 1100.27 L1396.44 1101.86 L1396.46 1103.39 L1396.12 1104.86 L1395.74 1106.27 L1395.43 1107.61 L1395.07 1108.89 L1395.01 1110.11 L1394.91 1111.26 L1394.36 1112.34 L1393.76 1113.36 L1392.72 1114.31 L1391.64 1115.19 L1390.73 1116 L1389.8 1116.74 L1389.12 1117.42 L1388.42 1118.02 L1387.77 1118.55 L1387.1 1119.02 L1386.4 1119.41 L1385.7 1119.73 L1385.07 1119.98 L1384.45 1120.16 L1383.91 1120.26 L1383.39 1120.3 L1382.86 1120.26 L1382.36 1120.16 L1381.62 1119.98 L1380.92 1119.73 L1380.14 1119.4 L1379.39 1119.01 L1378.81 1118.55 L1378.28 1118.01 L1377.75 1117.41 L1377.26 1116.73 L1377.09 1115.99 L1376.96 1115.18 L1376.97 1114.29 L1377 1113.34 L1376.8 1112.33 L1376.61 1111.24 L1376.43 1110.09 L1376.26 1108.88 L1375.88 1107.6 L1375.5 1106.25 L1375.27 1104.84 L1375.02 1103.37 L1374.94 1101.84 L1374.84 1100.25 L1374.49 1098.6 L1374.13 1096.89 L1373.74 1095.12 L1373.35 1093.29 L1372.92 1091.41 L1372.48 1089.48 L1372.08 1087.49 L1371.67 1085.45 L1371.33 1083.36 L1371 1081.22 L1370.87 1079.03 L1370.75 1076.79 L1370.71 1074.51 L1370.69 1072.19 L1370.49 1069.82 L1370.32 1067.41 L1369.84 1064.96 L1369.39 1062.47 L1368.76 1059.94 L1368.16 1057.38 L1368.24 1054.79 L1368.36 1052.16 L1368.66 1049.5 L1369 1046.81 L1369.06 1044.1 L1369.15 1041.36 L1369.4 1038.59 L1369.68 1035.8 L1369.77 1032.99 L1369.87 1030.16 L1369.87 1027.31 L1369.87 1024.45 L1370.39 1021.57 L1370.91 1018.68 L1371.45 1015.77 L1371.98 1012.86 L1371.88 1009.94 L1371.78 1007.02 L1371.62 1004.09 L1371.45 1001.16 L1371.53 998.23 L1371.61 995.3 L1371.66 992.37 L1371.7 989.45 L1371.71 986.53 L1371.71 983.63 L1372.22 980.73 L1372.72 977.84 L1373.39 974.97 L1374.05 972.11 L1374.07 969.27 L1374.09 966.45 L1373.96 963.65 L1373.83 960.87 L1374.03 958.11 L1374.23 955.38 L1374.36 952.67 L1374.49 950 L1374.49 947.35 L1374.49 944.74 L1374.59 942.15 L1374.69 939.61 L1374.55 937.1 L1374.4 934.62 L1374.27 932.19 L1374.13 929.8 L1373.93 927.45 L1373.72 925.14 L1373.18 922.88 L1372.64 920.66 L1372.69 918.49 L1372.74 916.37 L1373.02 914.3 L1373.31 912.28 L1373.27 910.32 L1373.24 908.4 L1373.31 906.55 L1373.4 904.75 L1373.5 903 L1373.64 901.31 L1374.15 899.69 L1374.7 898.12 L1375.49 896.61 L1376.31 895.17 L1376.49 893.79 L1376.71 892.47 L1376.91 891.21 L1377.15 890.02 L1377.72 888.9 L1378.33 887.85 L1378.86 886.86 L1379.42 885.93 L1380.11 885.08 L1380.82 884.3 L1381.69 883.58 L1382.58 882.93 L1383.22 882.36 L1383.88 881.85 L1384.35 881.42 L1384.83 881.05 L1385.67 880.76 L1386.51 880.54 L1387.2 880.39 L1387.88 880.31 L1388.46 880.31 L1389.01 880.37 L1389.78 880.51 L1390.52 880.72 L1391.17 880.99 L1391.79 881.35 L1392.48 881.77 L1393.15 882.26 L1393.6 882.82 L1394.02 883.45 L1394.21 884.16 L1394.36 884.93 L1394.61 885.77 L1394.84 886.68 L1394.88 887.66 L1394.9 888.7 L1394.79 889.81 L1394.68 890.99 L1394.92 892.23 L1395.16 893.53 L1395.52 894.9 L1395.89 896.34 L1396.19 897.83 L1396.5 899.39 L1396.85 901.01 L1397.2 902.68 L1397.42 904.41 L1397.64 906.21 L1397.99 908.05 L1398.34 909.96 L1399.14 911.91 L1399.95 913.92 L1400.4 915.98 L1400.85 918.09 L1400.67 920.25 L1400.49 922.46 L1400.59 924.71 L1400.67 927.01 L1401.14 929.36 L1401.59 931.74 L1402.14 934.17 L1402.66 936.63 L1402.74 939.14 L1402.78 941.68 L1402.33 944.25 L1401.85 946.86 L1401.63 949.5 L1401.37 952.17 L1401.32 954.87 L1401.23 957.6 L1401.03 960.35 L1400.81 963.12 L1400.79 965.92 L1400.75 968.74 L1400.81 971.58 L1400.85 974.43 L1400.85 977.3 L1400.83 980.19 L1400.99 983.08 L1401.14 985.99 L1400.89 988.9 L1400.63 991.82 L1399.93 994.75 L1399.23 997.68 L1398.87 1000.61 L1398.52 1003.54 L1398.67 1006.47 L1398.83 1009.4 L1398.93 1012.32 L1399.03 1015.23 L1398.55 1018.13 L1398.08 1021.03 L1397.73 1023.91 L1397.4 1026.78 L1397.6 1029.63 L1397.82 1032.46 L1397.88 1035.28 L1397.95 1038.07 L1397.96 1040.84 L1397.98 1043.59 L1398.17 1046.31 L1398.36 1049 L1398.29 1051.67 L1398.22 1054.3 L1397.94 1056.9 L1397.66 1059.47 L1397.46 1062 L1397.26 1064.5 L1397.27 1066.95 L1397.29 1069.37 L1397.11 1071.75 L1396.93 1074.08 L1396.73 1076.37 L1396.52 1078.62 L1396.62 1080.81 L1396.72 1082.96 L1396.72 1085.06 L1396.71 1087.11 L1396.67 1089.11 L1396.62 1091.05 L1396.82 1092.95 L1396.99 1094.78 L1397.31 1096.56 L1397.6 1098.28 L1397.5 1099.94 L1397.37 1101.55 L1397.06 1103.09 L1396.72 1104.57 L1396.22 1105.99 L1395.68 1107.35 L1394.67 1108.64 L1393.61 1109.87 L1392.87 1111.03 L1392.09 1112.13 L1391.99 1113.16 L1391.85 1114.12 L1391.61 1115.02 L1391.34 1115.84 L1390.66 1116.6 L1389.97 1117.29 L1389.3 1117.9 L1388.62 1118.45 L1387.69 1118.93 L1386.76 1119.34 L1385.66 1119.67 L1384.56 1119.94 L1384.13 1120.13 L1383.71 1120.25 L1383.3 1120.3 L1382.91 1120.28 L1381.71 1120.18 L1380.55 1120.02 L1379.56 1119.78 L1378.6 1119.47 L1378.31 1119.09 L1378.06 1118.64 L1377.88 1118.12 L1377.74 1117.53 L1377.41 1116.87 L1377.11 1116.14 L1376.73 1115.34 L1376.38 1114.48 L1375.95 1113.54 L1375.54 1112.54 L1375.26 1111.46 L1375 1110.33 L1375.31 1109.12 L1375.63 1107.86 L1375.92 1106.52 L1376.19 1105.13 L1375.69 1103.67 L1375.17 1102.15 L1374.48 1100.57 L1373.77 1098.93 L1373.24 1097.23 L1372.69 1095.48 L1372.24 1093.66 L1371.77 1091.79 L1371.79 1089.87 L1371.8 1087.89 L1371.66 1085.86 L1371.53 1083.78 L1371.11 1081.65 L1370.69 1079.47 L1370.56 1077.25 L1370.43 1074.97 L1370.35 1072.66 L1370.28 1070.3 L1370.11 1067.89 L1369.96 1065.45 L1369.69 1062.97 L1369.45 1060.45 L1369.01 1057.9 L1368.6 1055.31 L1368.14 1052.69 L1367.72 1050.04 L1367.73 1047.35 L1367.77 1044.64 L1368.15 1041.91 L1368.57 1039.14 L1368.89 1036.36 L1369.24 1033.55 L1369.58 1030.73 L1369.94 1027.88 L1370.16 1025.02 L1370.39 1022.14 L1370.29 1019.26 L1370.2 1016.36 L1370.34 1013.45 L1370.48 1010.53 L1370.81 1007.61 L1371.13 1004.68 L1371.35 1001.75 L1371.57 998.82 L1371.73 995.88 L1371.89 992.96 L1372.11 990.03 L1372.32 987.12 L1372.59 984.21 L1372.85 981.31 L1372.96 978.42 L1373.06 975.54 L1373.15 972.68 L1373.24 969.84 L1373.4 967.01 L1373.55 964.2 L1373.5 961.42 L1373.45 958.66 L1373.24 955.92 L1373.03 953.21 L1373.07 950.53 L1373.11 947.88 L1373.22 945.26 L1373.33 942.67 L1373.5 940.11 L1373.67 937.6 L1373.72 935.12 L1373.75 932.67 L1373.32 930.27 L1372.89 927.91 L1372.63 925.6 L1372.36 923.33 L1372.56 921.1 L1372.76 918.92 L1372.85 916.79 L1372.95 914.71 L1372.86 912.68 L1372.79 910.71 L1372.9 908.78 L1373.02 906.91 L1373.05 905.1 L1373.1 903.34 L1373.22 901.65 L1373.37 900.01 L1373.87 898.43 L1374.4 896.91 L1374.84 895.45 L1375.32 894.06 L1375.57 892.73 L1375.86 891.46 L1376.3 890.26 L1376.77 889.12 L1377.41 888.05 L1378.09 887.05 L1378.44 886.11 L1378.83 885.25 L1379.21 884.45 L1379.61 883.72 L1380.64 883.06 L1381.69 882.47 L1382.94 881.95 L1384.19 881.5 L1385.36 881.12 L1386.52 880.81 L1387.45 880.58 L1388.36 880.42 L1388.82 880.32 L1389.25 880.3 L1389.51 880.35 L1389.74 880.47 L1390.16 880.67 L1390.55 880.93 L1391.27 881.27 L1391.96 881.68 L1392.74 882.15 L1393.48 882.7 L1393.8 883.32 L1394.09 884.01 L1394.1 884.77 L1394.08 885.6 L1394.41 886.49 L1394.72 887.45 L1395.32 888.49 L1395.9 889.58 L1396.22 890.75 L1396.53 891.97 L1396.39 893.27 L1396.26 894.63 L1396.08 896.05 L1395.92 897.53 L1396.06 899.07 L1396.21 900.68 L1396.48 902.34 L1396.77 904.06 L1397.18 905.84 L1397.61 907.68 L1398.24 909.57 L1398.88 911.52 L1399.38 913.51 L1399.88 915.56 L1400.21 917.67 L1400.53 919.82 L1400.72 922.01 L1400.91 924.26 L1400.97 926.55 L1401.02 928.88 L1401.19 931.26 L1401.34 933.68 L1401.52 936.14 L1401.66 938.63 L1401.95 941.16 L1402.21 943.73 L1402.47 946.34 L1402.69 948.97 L1402.36 951.63 L1401.99 954.33 L1401.58 957.04 L1401.14 959.73 L1401.15 962.44 L1401.13 965.18 L1400.98 967.93 L1400.81 970.71 L1400.49 973.5 L1400.15 976.31 L1400.22 979.13 L1400.29 981.96 L1400.64 984.8 L1400.99 987.66 L1400.9 990.51 L1400.82 993.38 L1400.38 996.25 L1399.95 999.12 L1399.88 1001.99 L1399.82 1004.86 L1399.6 1007.73 L1399.41 987.18 L1399.02 990.15 L1398.61 993.12 L1398.53 996.1 L1398.44 999.08 L1398.48 1002.06 L1398.5 1005.04 L1398.19 1008.01 L1397.86 1010.99 L1397.42 1013.95 L1396.96 1016.91 L1396.95 1019.85 L1396.92 1022.79 L1397.1 1025.71 L1397.26 1028.61 L1397.19 1031.5 L1397.09 1034.37 L1396.61 1037.22 L1396.11 1040.04 L1395.51 1042.84 L1394.88 1045.61 L1394.53 1048.36 L1394.15 1051.08 L1393.39 1053.76 L1392.6 1056.41 L1391.7 1059.03 L1390.77 1061.61 L1390.3 1064.15 L1389.82 1066.66 L1389.27 1069.12 L1388.71 1071.54 L1388.05 1073.92 L1387.37 1076.25 L1386.78 1078.53 L1386.17 1080.77 L1385.56 1082.95 L1384.93 1085.09 L1384.04 1087.17 L1383.14 1089.2 L1382.26 1091.17 L1381.38 1093.09 L1380.7 1094.95 L1380.02 1096.76 L1379.08 1098.5 L1378.14 1100.18 L1377.24 1101.8 L1376.33 1103.36 L1375.57 1104.86 L1374.79 1106.29 L1373.68 1107.65 L1372.56 1108.95 L1371.42 1110.18 L1370.27 1111.35 L1369.24 1112.44 L1368.2 1113.47 L1367.18 1114.42 L1366.14 1115.31 L1365.57 1116.12 L1365.16 1116.87 L1364.21 1117.54 L1363.26 1118.14 L1362.31 1118.67 L1361.36 1119.12 L1360.41 1119.5 L1359.46 1119.81 L1358.51 1120.04 L1357.56 1120.2 L1356.61 1120.28 L1355.67 1120.3 L1354.73 1120.23 L1353.8 1120.1 L1352.87 1119.89 L1351.95 1119.6 L1351.03 1119.24 L1350.12 1118.81 L1349.21 1118.31 L1348.32 1117.73 L1347.43 1117.08 L1346.55 1116.36 L1345.68 1115.56 L1344.82 1114.7 L1343.97 1113.76 L1343.13 1112.76 L1342.31 1111.68 L1341.49 1110.54 L1340.69 1109.33 L1339.9 1108.05 L1339.13 1106.71 L1338.37 1105.3 L1337.62 1103.82 L1336.89 1102.28 L1336.18 1100.68 L1335.48 1099.02 L1334.8 1097.29 L1334.14 1095.51 L1333.49 1093.66 L1332.86 1091.76 L1332.25 1089.8 L1331.66 1087.79 L1331.09 1085.72 L1330.53 1083.6 L1330 1081.43 L1329.48 1079.21 L1328.99 1076.94 L1328.52 1074.63 L1328.07 1072.26 L1327.64 1069.86 L1327.23 1067.41 L1326.84 1064.91 L1326.48 1062.38 L1326.14 1059.81 L1325.82 1057.21 L1325.52 1054.57 L1325.25 1051.89 L1325 1049.18 L1324.77 1046.45 L1324.57 1043.68 L1324.39 1040.89 L1324.23 1038.07 L1324.1 1035.23 L1323.99 1032.37 L1323.91 1029.49 L1323.85 1026.57 L1323.81 1023.59 L1323.8 1020.6 L1323.82 1017.89 L1323.89 1015.17 L1323.99 1012.44 L1324.14 1009.7 L1324.33 1006.96 L1324.57 1004.21 L1324.84 1001.47 L1325.16 998.72 L1325.52 995.97 L1325.93 993.23 L1326.37 990.49 L1326.86 987.75 L1327.38 985.02 L1327.95 982.3 L1328.56 979.59 L1329.21 976.89 L1329.9 974.2 L1330.62 971.52 L1331.39 968.86 L1332.2 966.22 L1333.04 963.6 L1333.92 960.99 L1334.84 958.4 L1335.8 955.84 L1336.79 953.3 L1337.82 950.78 L1338.88 948.29 L1339.98 945.83 L1341.11 943.4 L1342.28 940.99 L1343.48 938.62 L1344.71 936.28 L1345.98 933.97 L1347.27 931.7 L1348.6 929.46 L1349.95 927.27 L1351.33 925.1 L1352.75 922.98 L1354.19 920.9 L1355.65 918.86 L1357.15 916.87 L1358.66 914.91 L1360.21 913.01 L1361.77 911.14 L1363.36 909.33 L1364.97 907.56 L1366.6 905.84 L1368.26 904.17 L1369.93 902.55 L1371.62 900.98 L1373.32 899.47 L1375.05 898 L1376.79 896.59 L1378.55 895.24 L1380.31 893.94 L1382.1 892.69 L1383.89 891.51 L1385.7 890.38 L1387.51 889.3 L1389.34 888.29 L1391.17 887.33" fill="none" stroke="#FF0000" stroke-width="4.2" stroke-linejoin="round" stroke-linecap="butt" />
<circle cx="1386.2" cy="1000.3" r="120" fill="none" stroke="#000" stroke-width="4" stroke-dasharray="10 2 6 2"/>
<path d="M1731.11 879.94 L1732.96 880.11 L1734.81 880.34 L1736.67 880.64 L1738.53 881 L1740.4 881.42 L1742.26 881.91 L1744.13 882.45 L1745.99 883.07 L1747.86 883.74 L1749.72 884.48 L1751.58 885.28 L1753.43 886.13 L1755.28 887.05 L1757.12 888.03 L1758.96 889.07 L1760.78 890.17 L1762.6 891.33 L1764.41 892.55 L1766.21 893.82 L1767.99 895.15 L1769.76 896.54 L1771.52 897.98 L1773.26 899.47 L1774.99 901.02 L1776.7 902.62 L1778.4 904.28 L1780.07 905.98 L1781.73 907.74 L1783.36 909.54 L1784.98 911.39 L1786.57 913.29 L1788.14 915.24 L1789.69 917.23 L1791.21 919.27 L1792.71 921.35 L1794.18 923.47 L1795.63 925.63 L1797.05 927.83 L1798.43 930.07 L1799.8 932.34 L1801.13 934.66 L1802.43 937 L1803.7 939.39 L1804.94 941.8 L1806.14 944.24 L1807.32 946.72 L1808.46 949.22 L1809.56 951.75 L1810.63 954.31 L1811.67 956.88 L1812.67 959.49 L1813.63 962.11 L1814.56 964.76 L1815.45 967.42 L1816.3 970.1 L1817.11 972.8 L1817.89 975.51 L1818.62 978.23 L1819.32 980.97 L1819.97 983.71 L1820.59 986.46 L1821.17 989.23 L1821.7 991.99 L1822.2 994.76 L1822.65 997.54 L1823.06 1000.31 L1823.43 1003.09 L1823.76 1005.86 L1824.04 1008.63 L1824.28 1011.39 L1824.48 1014.15 L1824.64 1016.9 L1824.76 1019.64 L1824.83 1022.37 L1824.86 1025.09 L1824.83 1027.99 L1824.73 1030.91 L1824.55 1033.81 L1824.29 1036.69 L1823.95 1039.55 L1823.53 1042.38 L1823.04 1045.18 L1822.46 1047.96 L1821.81 1050.71 L1821.08 1053.42 L1820.28 1056.1 L1819.4 1058.74 L1818.45 1061.35 L1817.42 1063.92 L1816.31 1066.45 L1815.14 1068.93 L1813.89 1071.37 L1812.57 1073.77 L1811.18 1076.12 L1809.72 1078.42 L1808.19 1080.68 L1806.59 1082.88 L1804.93 1085.03 L1803.21 1087.12 L1801.42 1089.16 L1799.57 1091.15 L1797.65 1093.07 L1795.68 1094.94 L1793.65 1096.75 L1791.56 1098.49 L1789.41 1100.18 L1787.22 1101.8 L1784.97 1103.35 L1782.66 1104.84 L1780.31 1106.27 L1777.92 1107.62 L1775.47 1108.91 L1772.99 1110.13 L1770.46 1111.28 L1767.89 1112.36 L1765.28 1113.37 L1762.63 1114.31 L1759.95 1115.18 L1757.24 1115.97 L1754.49 1116.69 L1751.72 1117.33 L1748.92 1117.9 L1746.09 1118.4 L1743.24 1118.82 L1740.37 1119.17 L1737.48 1119.44 L1734.57 1119.64 L1731.65 1119.76 L1728.71 1119.8 L1725.77 1119.77 L1722.81 1119.66 L1719.85 1119.48 L1716.88 1119.22 L1713.91 1118.89 L1710.94 1118.48 L1707.98 1117.99 L1705.01 1117.44 L1702.05 1116.8 L1699.1 1116.1 L1696.16 1115.32 L1693.24 1114.46 L1690.32 1113.54 L1687.43 1112.54 L1684.55 1111.47 L1681.69 1110.34 L1678.85 1109.13 L1676.04 1107.85 L1673.26 1106.5 L1670.5 1105.09 L1667.77 1103.61 L1665.08 1102.07 L1662.42 1100.46 L1659.79 1098.78 L1657.21 1097.05 L1654.66 1095.25 L1652.16 1093.4 L1649.7 1091.48 L1647.28 1089.5 L1644.91 1087.47 L1642.59 1085.39 L1640.32 1083.25 L1638.1 1081.06 L1635.93 1078.81 L1633.82 1076.52 L1631.77 1074.18 L1629.77 1071.79 L1627.83 1069.35 L1625.96 1066.87 L1624.14 1064.35 L1622.39 1061.79 L1620.7 1059.19 L1619.08 1056.55 L1617.53 1053.88 L1616.04 1051.17 L1614.62 1048.43 L1613.27 1045.66 L1611.99 1042.86 L1610.79 1040.03 L1609.66 1037.18 L1608.6 1034.3 L1607.61 1031.4 L1606.7 1028.49 L1605.87 1025.55 L1605.11 1022.6 L1604.43 1019.63 L1603.82 1016.65 L1603.3 1013.66 L1602.85 1010.66 L1602.48 1007.66 L1602.18 1004.65 L1601.97 1001.63 L1601.84 998.62 L1601.78 995.6 L1601.81 992.72 L1601.92 989.88 L1602.12 987.04 L1602.41 984.21 L1602.78 981.39 L1603.24 978.58 L1603.78 975.78 L1604.41 973 L1605.13 970.23 L1605.93 967.47 L1606.81 964.74 L1607.78 962.02 L1608.83 959.33 L1609.97 956.66 L1611.18 954.01 L1612.48 951.39 L1613.85 948.79 L1615.31 946.23 L1616.84 943.69 L1618.45 941.19 L1620.14 938.72 L1621.9 936.28 L1623.73 933.88 L1625.64 931.52 L1627.62 929.2 L1629.67 926.91 L1631.79 924.67 L1633.97 922.47 L1636.23 920.31 L1638.54 918.2 L1640.92 916.13 L1643.36 914.11 L1645.86 912.14 L1648.42 910.22 L1651.04 908.35 L1653.71 906.53 L1656.43 904.76 L1659.21 903.05 L1662.04 901.39 L1664.91 899.79 L1667.83 898.24 L1670.79 896.75 L1673.8 895.32 L1676.85 893.95 L1679.93 892.64 L1683.05 891.38 L1686.21 890.19 L1689.4 889.06 L1692.61 888 L1695.86 886.99 L1699.13 886.05 L1702.43 885.18 L1705.75 884.37 L1709.09 883.62 L1712.44 882.94 L1715.81 882.33 L1719.2 881.78 L1722.59 881.29 L1726 880.88 L1729.41 880.53 L1732.82 880.25 L1736.24 880.04 L1739.66 879.89 L1743.07 879.81 L1746.48 879.8 L1749.89 879.86 L1753.28 879.99 L1756.67 880.18 L1760.04 880.44 L1763.39 880.77 L1766.73 881.16 L1770.05 881.62 L1773.35 882.15 L1776.62 882.75 L1779.87 883.41 L1783.08 884.13 L1786.27 884.92 L1789.43 885.78 L1792.55 886.7 L1795.63 887.68 L1798.68 888.73 L1801.69 889.84 L1804.65 891.01 L1807.57 892.25 L1810.44 893.54 L1813.27 894.9 L1816.05 896.31 L1818.77 897.78 L1821.44 899.31 L1824.06 900.9 L1826.62 902.54 L1829.12 904.24 L1831.56 905.99 L1833.94 907.79 L1836.25 909.64 L1838.51 911.55 L1840.69 913.51 L1842.81 915.51 L1844.86 917.56 L1846.84 919.66 L1848.75 921.81 L1850.58 923.99 L1852.34 926.22 L1854.03 928.5 L1855.64 930.81 L1857.17 933.16 L1858.63 935.55 L1860 937.97 L1861.3 940.43 L1862.51 942.93 L1863.65 945.45 L1864.7 948.01 L1865.67 950.59 L1866.55 953.21 L1867.35 955.85 L1868.07 958.51 L1868.7 961.2 L1869.24 963.91 L1869.7 966.64 L1870.07 969.39 L1870.36 972.15 L1870.56 974.93 L1870.67 977.73 L1870.7 980.57 L1870.63 983.55 L1870.48 986.54 L1870.22 989.55 L1869.88 992.56 L1869.44 995.57 L1868.92 998.58 L1868.3 1001.6 L1867.59 1004.62 L1866.78 1007.63 L1865.89 1010.64 L1864.91 1013.64 L1863.84 1016.63 L1862.68 1019.61 L1861.43 1022.58 L1860.09 1025.54 L1858.67 1028.47 L1857.16 1031.39 L1855.57 1034.29 L1853.9 1037.17 L1852.14 1040.03 L1850.3 1042.86 L1848.38 1045.66 L1846.39 1048.43 L1844.31 1051.17 L1842.16 1053.88 L1839.93 1056.56 L1837.63 1059.2 L1835.26 1061.8 L1832.82 1064.37 L1830.31 1066.89 L1827.73 1069.37 L1825.09 1071.8 L1822.38 1074.19 L1819.61 1076.54 L1816.78 1078.83 L1813.89 1081.08 L1810.94 1083.27 L1807.94 1085.41 L1804.89 1087.5 L1801.78 1089.53 L1798.63 1091.5 L1795.42 1093.42 L1792.17 1095.28 L1788.88 1097.08 L1785.55 1098.81 L1782.18 1100.48 L1778.77 1102.09 L1775.33 1103.64 L1771.85 1105.12 L1768.35 1106.53 L1764.81 1107.88 L1761.25 1109.15 L1757.67 1110.36 L1754.07 1111.5 L1750.44 1112.57 L1746.8 1113.56 L1743.15 1114.49 L1739.48 1115.34 L1735.8 1116.12 L1732.12 1116.82 L1728.43 1117.45 L1724.74 1118.01 L1721.05 1118.49 L1717.36 1118.9 L1713.67 1119.23 L1709.99 1119.49 L1706.32 1119.67 L1702.66 1119.77 L1699.01 1119.8 L1695.38 1119.75 L1691.77 1119.63 L1688.18 1119.43 L1684.61 1119.16 L1681.06 1118.81 L1677.54 1118.38 L1674.06 1117.88 L1670.6 1117.31 L1667.18 1116.66 L1663.79 1115.94 L1660.44 1115.14 L1657.14 1114.27 L1653.87 1113.33 L1650.65 1112.32 L1647.48 1111.24 L1644.35 1110.08 L1641.27 1108.86 L1638.25 1107.57 L1635.28 1106.2 L1632.37 1104.78 L1629.51 1103.28 L1626.72 1101.72 L1623.99 1100.1 L1621.32 1098.41 L1618.71 1096.66 L1616.17 1094.85 L1613.71 1092.98 L1611.31 1091.05 L1608.98 1089.06 L1606.72 1087.01 L1604.54 1084.91 L1602.44 1082.76 L1600.41 1080.55 L1598.46 1078.3 L1596.59 1075.99 L1594.8 1073.64 L1593.09 1071.23 L1591.46 1068.79 L1589.92 1066.3 L1588.47 1063.77 L1587.1 1061.19 L1585.81 1058.58 L1584.62 1055.93 L1583.51 1053.25 L1582.49 1050.53 L1581.56 1047.78 L1580.72 1045 L1579.98 1042.19 L1579.32 1039.36 L1578.76 1036.5 L1578.28 1033.61 L1577.9 1030.71 L1577.61 1027.78 L1577.42 1024.84 L1577.32 1021.88 L1577.31 1018.93 L1577.39 1015.99 L1577.57 1013.04 L1577.84 1010.09 L1578.2 1007.12 L1578.66 1004.16 L1579.21 1001.19 L1579.85 998.22 L1580.58 995.25 L1581.4 992.28 L1582.31 989.32 L1583.32 986.36 L1584.41 983.41 L1585.59 980.48 L1586.86 977.55 L1588.22 974.64 L1589.66 971.74 L1591.19 968.86 L1592.8 966 L1594.5 963.16 L1596.28 960.34 L1598.14 957.55 L1600.08 954.78 L1602.09 952.04 L1604.19 949.33 L1606.36 946.65 L1608.61 944.01 L1610.93 941.39 L1613.32 938.82 L1615.79 936.28 L1618.32 933.78 L1620.92 931.32 L1623.58 928.9 L1626.31 926.52 L1629.1 924.19 L1631.95 921.91 L1634.86 919.67 L1637.83 917.49 L1640.85 915.35 L1643.92 913.27 L1647.05 911.24 L1650.22 909.26 L1653.44 907.34 L1656.71 905.47 L1660.02 903.66 L1663.37 901.92 L1666.75 900.23 L1670.18 898.6 L1673.64 897.04 L1677.13 895.53 L1680.65 894.09 L1684.2 892.72 L1687.78 891.41 L1691.37 890.17 L1694.99 889 L1698.63 887.89 L1702.28 886.85 L1705.95 885.88 L1709.63 884.98 L1713.32 884.16 L1717.02 883.4 L1720.72 882.71 L1724.42 882.1 L1728.12 881.56 L1731.82 881.09 L1735.52 880.69 L1739.21 880.36 L1742.89 880.11 L1746.56 879.94 L1750.21 879.83 L1753.85 879.8 L1757.47 879.84 L1761.06 879.96 L1764.64 880.15 L1768.19 880.41 L1771.71 880.75 L1775.2 881.16 L1778.66 881.64 L1782.09 882.19 L1785.47 882.82 L1788.82 883.52 L1792.13 884.29 L1795.4 885.13 L1798.62 886.04 L1801.79 887.02 L1804.92 888.07 L1807.99 889.19 L1811.01 890.37 L1813.98 891.62 L1816.89 892.94 L1819.74 894.33 L1822.53 895.78 L1825.26 897.29 L1827.92 898.87 L1830.52 900.5 L1833.05 902.2 L1835.52 903.96 L1837.91 905.78 L1840.23 907.65 L1842.48 909.58 L1844.65 911.57 L1846.75 913.61 L1848.76 915.7 L1850.7 917.85 L1852.56 920.04 L1854.34 922.29 L1856.04 924.58 L1857.65 926.91 L1859.18 929.3 L1860.62 931.72 L1861.98 934.19 L1863.25 936.7 L1864.43 939.24 L1865.52 941.82 L1866.53 944.44 L1867.44 947.1 L1868.26 949.78 L1868.99 952.5 L1869.63 955.24 L1870.18 958.01 L1870.64 960.81 L1871 963.63 L1871.27 966.47 L1871.45 969.34 L1871.53 972.22 L1871.52 975.08 L1871.42 977.93 L1871.22 980.79 L1870.92 983.66 L1870.53 986.55 L1870.04 989.44 L1869.46 992.33 L1868.78 995.23 L1868.01 998.14 L1867.14 1001.04 L1866.19 1003.94 L1865.14 1006.85 L1864 1009.74 L1862.76 1012.63 L1861.44 1015.52 L1860.03 1018.39 L1858.53 1021.25 L1856.95 1024.11 L1855.27 1026.94 L1853.52 1029.76 L1851.68 1032.57 L1849.75 1035.35 L1847.75 1038.11 L1845.66 1040.85 L1843.5 1043.57 L1841.26 1046.26 L1838.95 1048.93 L1836.56 1051.56 L1834.1 1054.17 L1831.57 1056.74 L1828.97 1059.28 L1826.3 1061.78 L1823.57 1064.25 L1820.77 1066.68 L1817.91 1069.07 L1814.99 1071.42 L1812.02 1073.73 L1808.99 1076 L1805.9 1078.22 L1802.77 1080.39 L1799.58 1082.52 L1796.35 1084.6 L1793.07 1086.63 L1789.75 1088.61 L1786.39 1090.54 L1782.99 1092.41 L1779.56 1094.23 L1776.09 1096 L1772.59 1097.7 L1769.06 1099.35 L1765.5 1100.95 L1761.92 1102.48 L1758.32 1103.95 L1754.7 1105.36 L1751.06 1106.71 L1747.41 1108 L1743.75 1109.22 L1740.08 1110.38 L1736.39 1111.48 L1732.71 1112.51 L1729.02 1113.47 L1725.34 1114.37 L1721.65 1115.2 L1717.97 1115.96 L1714.3 1116.66 L1710.64 1117.28 L1707 1117.84 L1703.37 1118.33 L1699.75 1118.75 L1696.16 1119.1 L1692.59 1119.38 L1689.04 1119.58 L1685.53 1119.72 L1682.04 1119.79 L1678.58 1119.79 L1675.16 1119.72 L1671.78 1119.58 L1668.43 1119.36 L1665.13 1119.08 L1661.87 1118.73 L1658.66 1118.31 L1655.49 1117.82 L1652.38 1117.26 L1649.31 1116.63 L1646.3 1115.93 L1643.35 1115.16 L1640.46 1114.33 L1637.63 1113.43 L1634.85 1112.46 L1632.15 1111.43 L1629.51 1110.33 L1626.93 1109.17 L1624.43 1107.94 L1622 1106.65 L1619.64 1105.3 L1617.35 1103.88 L1615.14 1102.41 L1613.01 1100.87 L1610.96 1099.28 L1608.99 1097.62 L1607.1 1095.91 L1605.29 1094.15 L1603.57 1092.32 L1601.93 1090.45 L1600.38 1088.52 L1598.91 1086.54 L1597.54 1084.51 L1596.25 1082.42 L1595.06 1080.29 L1593.95 1078.12 L1592.94 1075.89 L1592.02 1073.63 L1591.19 1071.31 L1590.46 1068.96 L1589.82 1066.57 L1589.27 1064.14 L1588.82 1061.67 L1588.47 1059.16 L1588.21 1056.62 L1588.05 1054.04 L1587.98 1051.44 L1588.01 1048.8 L1588.11 1046.14 L1588.3 1043.45 L1588.56 1040.74 L1588.91 1038 L1589.33 1035.23 L1589.84 1032.45 L1590.42 1029.65 L1591.08 1026.83 L1591.82 1024 L1592.64 1021.15 L1593.54 1018.29 L1594.52 1015.42 L1595.57 1012.54 L1596.69 1009.65 L1597.89 1006.75 L1599.17 1003.85 L1600.52 1000.95 L1601.94 998.05 L1603.43 995.15 L1605 992.25 L1606.63 989.36 L1608.34 986.47 L1610.11 983.59 L1611.94 980.72 L1613.85 977.86 L1615.81 975.02 L1617.84 972.19 L1619.94 969.37 L1622.09 966.57 L1624.3 963.8 L1626.57 961.04 L1628.9 958.31 L1631.28 955.59 L1633.72 952.91 L1636.2 950.25 L1638.74 947.63 L1641.33 945.03 L1643.96 942.46 L1646.64 939.93 L1649.37 937.43 L1652.13 934.97 L1654.94 932.55 L1657.78 930.17 L1660.67 927.83 L1663.58 925.53 L1666.53 923.27 L1669.52 921.06 L1672.53 918.89 L1675.57 916.77 L1678.64 914.7 L1681.73 912.68 L1684.84 910.71 L1687.97 908.79 L1691.12 906.93 L1694.29 905.12 L1697.47 903.36 L1700.67 901.66 L1703.87 900.02 L1707.08 898.44 L1710.3 896.92 L1713.53 895.45 L1716.75 894.05 L1719.98 892.71 L1723.21 891.43 L1726.43 890.22 L1729.64 889.07 L1732.85 887.98 L1736.05 886.96 L1739.24 886.01 L1742.41 885.12 L1745.57 884.3 L1748.71 883.55 L1751.83 882.86 L1754.93 882.24 L1758.01 881.7 L1761.06 881.22 L1764.08 880.81 L1767.08 880.47 L1770.04 880.2 L1772.97 880 L1775.87 879.87 L1778.73 879.8 L1781.55 879.81 L1784.33 879.89 L1787.07 880.04 L1789.77 880.26 L1792.42 880.55 L1795.03 880.91 L1797.59 881.34 L1800.09 881.84 L1802.55 882.41 L1804.95 883.04 L1807.3 883.75 L1809.6 884.52 L1811.83 885.36 L1814.01 886.27 L1816.13 887.24 L1818.18 888.28 L1820.17 889.38 L1822.1 890.55 L1823.97 891.78 L1825.76 893.08 L1827.5 894.43 L1829.16 895.85 L1830.75 897.33 L1832.27 898.87 L1833.72 900.47 L1835.1 902.13 L1836.41 903.84 L1837.64 905.61 L1838.79 907.44 L1839.87 909.32 L1840.88 911.25 L1841.81 913.23 L1842.66 915.27 L1843.43 917.35 L1844.12 919.48 L1844.74 921.66 L1845.28 923.89 L1845.73 926.16 L1846.11 928.47 L1846.41 930.82 L1846.63 933.22 L1846.76 935.65 L1846.82 938.12 L1846.8 940.71 L1846.72 943.35 L1846.58 946.03 L1846.37 948.74 L1846.1 951.48 L1845.77 954.26 L1845.38 957.06 L1844.93 959.89 L1844.41 962.75 L1843.84 965.63 L1843.2 968.53 L1842.5 971.45 L1841.75 974.38 L1840.93 977.34 L1840.05 980.31 L1839.12 983.29 L1838.13 986.28 L1837.08 989.28 L1835.97 992.28 L1834.81 995.3 L1833.59 998.31 L1832.31 1001.32 L1830.98 1004.34 L1829.6 1007.35 L1828.17 1010.35 L1826.68 1013.35 L1825.14 1016.35 L1823.55 1019.33 L1821.91 1022.29 L1820.22 1025.25 L1818.49 1028.19 L1816.71 1031.11 L1814.88 1034.01 L1813 1036.89 L1811.09 1039.74 L1809.13 1042.57 L1807.13 1045.37 L1805.08 1048.15 L1803 1050.89 L1800.88 1053.6 L1798.73 1056.28 L1796.53 1058.92 L1794.31 1061.53 L1792.05 1064.09 L1789.75 1066.62 L1787.43 1069.1 L1785.07 1071.54 L1782.69 1073.93 L1780.28 1076.28 L1777.85 1078.58 L1775.39 1080.83 L1772.9 1083.03 L1770.4 1085.17 L1767.87 1087.26 L1765.33 1089.3 L1762.77 1091.28 L1760.19 1093.2 L1757.6 1095.07 L1754.99 1096.87 L1752.37 1098.61 L1749.74 1100.29 L1747.11 1101.91 L1744.46 1103.46 L1741.81 1104.94 L1739.15 1106.36 L1736.49 1107.72 L1733.83 1109 L1731.17 1110.21 L1728.51 1111.36 L1725.85 1112.44 L1723.2 1113.44 L1720.55 1114.37 L1717.91 1115.23 L1715.28 1116.02 L1712.66 1116.73 L1710.05 1117.37 L1707.45 1117.94 L1704.86 1118.43 L1702.29 1118.85 L1699.74 1119.19 L1697.21 1119.46 L1694.7 1119.65 L1692.2 1119.76 L1689.73 1119.8 L1687.29 1119.76 L1684.87 1119.65 L1682.48 1119.46 L1680.11 1119.2 L1677.77 1118.86 L1675.47 1118.45 L1673.19 1117.96 L1670.95 1117.39 L1668.75 1116.76 L1666.57 1116.05 L1664.44 1115.26 L1662.34 1114.4 L1660.29 1113.47 L1658.27 1112.47 L1656.29 1111.4 L1654.36 1110.25 L1652.47 1109.04 L1650.62 1107.76 L1648.82 1106.41 L1647.07 1104.99 L1645.36 1103.51 L1643.7 1101.96 L1642.09 1100.34 L1640.53 1098.67 L1639.02 1096.93 L1637.57 1095.13 L1636.16 1093.27 L1634.81 1091.35 L1633.52 1089.37 L1632.27 1087.33 L1631.09 1085.24 L1629.96 1083.1 L1628.89 1080.9 L1627.87 1078.66 L1626.91 1076.36 L1626.01 1074.01 L1625.17 1071.62 L1624.39 1069.18 L1623.67 1066.7 L1623.01 1064.18 L1622.41 1061.61 L1621.87 1059.01 L1621.39 1056.37 L1620.98 1053.69 L1620.62 1050.98 L1620.33 1048.24 L1620.1 1045.47 L1619.93 1042.66 L1619.82 1039.84 L1619.78 1036.98 L1619.8 1034.21 L1619.87 1031.45 L1620.01 1028.67 L1620.2 1025.88 L1620.45 1023.07 L1620.76 1020.24 L1621.12 1017.41 L1621.55 1014.56 L1622.03 1011.71 L1622.57 1008.85 L1623.16 1005.98 L1623.81 1003.11 L1624.52 1000.24 L1625.28 997.37 L1626.1 994.5 L1626.97 991.63 L1627.9 988.77 L1628.88 985.92 L1629.91 983.07 L1631 980.23 L1632.13 977.4 L1633.32 974.59 L1634.56 971.79 L1635.85 969 L1637.19 966.24 L1638.58 963.49 L1640.01 960.76 L1641.49 958.06 L1643.02 955.38 L1644.59 952.73 L1646.21 950.1 L1647.87 947.5 L1649.57 944.93 L1651.32 942.39 L1653.1 939.89 L1654.93 937.42 L1656.79 934.98 L1658.69 932.58 L1660.62 930.22 L1662.59 927.9 L1664.6 925.63 L1666.64 923.39 L1668.71 921.2 L1670.81 919.05 L1672.94 916.95 L1675.09 914.9 L1677.28 912.89 L1679.49 910.94 L1681.72 909.03 L1683.98 907.18 L1686.26 905.38 L1688.56 903.64 L1690.88 901.95 L1693.22 900.31 L1695.57 898.73 L1697.94 897.22 L1700.33 895.76 L1702.73 894.35 L1705.13 893.01 L1707.55 891.73 L1709.98 890.52 L1712.41 889.36 L1714.85 888.27 L1717.29 887.24 L1719.74 886.28 L1722.19 885.38 L1724.64 884.55 L1727.09 883.78 L1729.53 883.08 L1731.97 882.45 L1734.41 881.88 L1736.84 881.38 L1739.26 880.95 L1741.67 880.59 L1744.07 880.29 L1746.46 880.07" fill="none" stroke="#FF0000" stroke-width="4.2" stroke-linejoin="round" stroke-linecap="butt" />
<circle cx="1724.3" cy="999.8" r="120" fill="none" stroke="#000" stroke-width="4" stroke-dasharray="10 2 6 2"/>
<path d="M2086.54 882.36 L2088.9 882.61 L2091.24 882.93 L2093.57 883.32 L2095.88 883.78 L2098.17 884.3 L2100.44 884.89 L2102.68 885.54 L2104.9 886.27 L2107.1 887.05 L2109.26 887.91 L2111.41 888.82 L2113.52 889.8 L2115.6 890.85 L2117.65 891.96 L2119.67 893.13 L2121.65 894.36 L2123.6 895.65 L2125.52 897 L2127.39 898.42 L2129.23 899.89 L2131.03 901.42 L2132.79 903 L2134.51 904.64 L2136.19 906.34 L2137.82 908.09 L2139.42 909.9 L2140.96 911.75 L2142.46 913.66 L2143.91 915.62 L2145.32 917.63 L2146.68 919.68 L2147.99 921.78 L2149.25 923.93 L2150.46 926.12 L2151.62 928.35 L2152.72 930.63 L2153.78 932.95 L2154.78 935.3 L2155.73 937.69 L2156.62 940.12 L2157.46 942.59 L2158.24 945.09 L2158.97 947.62 L2159.65 950.18 L2160.26 952.77 L2160.82 955.38 L2161.33 958.03 L2161.77 960.7 L2162.16 963.39 L2162.49 966.11 L2162.77 968.84 L2162.98 971.6 L2163.14 974.37 L2163.24 977.15 L2163.28 979.95 L2163.26 982.81 L2163.19 985.68 L2163.06 988.56 L2162.88 991.44 L2162.64 994.34 L2162.35 997.24 L2162 1000.14 L2161.6 1003.04 L2161.14 1005.94 L2160.63 1008.84 L2160.07 1011.74 L2159.45 1014.63 L2158.78 1017.51 L2158.05 1020.39 L2157.27 1023.25 L2156.44 1026.1 L2155.56 1028.94 L2154.63 1031.76 L2153.65 1034.56 L2152.61 1037.35 L2151.53 1040.11 L2150.4 1042.85 L2149.22 1045.57 L2147.99 1048.26 L2146.72 1050.92 L2145.4 1053.56 L2144.03 1056.17 L2142.62 1058.74 L2141.16 1061.28 L2139.66 1063.79 L2138.12 1066.26 L2136.54 1068.69 L2134.92 1071.08 L2133.25 1073.44 L2131.55 1075.75 L2129.81 1078.02 L2128.03 1080.24 L2126.22 1082.42 L2124.37 1084.55 L2122.49 1086.63 L2120.58 1088.67 L2118.63 1090.65 L2116.65 1092.58 L2114.64 1094.46 L2112.61 1096.28 L2110.54 1098.05 L2108.45 1099.76 L2106.34 1101.41 L2104.2 1103.01 L2102.03 1104.55 L2099.85 1106.03 L2097.65 1107.44 L2095.42 1108.8 L2093.18 1110.09 L2090.92 1111.32 L2088.65 1112.48 L2086.36 1113.58 L2084.05 1114.62 L2081.74 1115.59 L2079.41 1116.49 L2077.08 1117.33 L2074.74 1118.1 L2072.39 1118.8 L2070.04 1119.43 L2067.68 1119.99 L2065.32 1120.49 L2062.95 1120.91 L2060.59 1121.27 L2058.23 1121.55 L2055.87 1121.77 L2053.51 1121.91 L2051.16 1121.99 L2048.82 1121.99 L2046.48 1121.93 L2044.15 1121.79 L2041.83 1121.59 L2039.52 1121.31 L2037.23 1120.97 L2034.95 1120.55 L2032.68 1120.07 L2030.43 1119.52 L2028.2 1118.89 L2025.99 1118.2 L2023.8 1117.45 L2021.62 1116.62 L2019.48 1115.73 L2017.35 1114.77 L2015.25 1113.74 L2013.18 1112.65 L2011.13 1111.49 L2009.11 1110.27 L2007.12 1108.99 L2005.16 1107.65 L2003.23 1106.24 L2001.34 1104.77 L1999.47 1103.24 L1997.65 1101.65 L1995.86 1100.01 L1994.1 1098.3 L1992.38 1096.54 L1990.7 1094.73 L1989.06 1092.86 L1987.47 1090.94 L1985.91 1088.96 L1984.39 1086.94 L1982.92 1084.86 L1981.49 1082.74 L1980.11 1080.57 L1978.77 1078.35 L1977.47 1076.09 L1976.23 1073.78 L1975.03 1071.43 L1973.88 1069.05 L1972.77 1066.62 L1971.72 1064.16 L1970.72 1061.65 L1969.77 1059.12 L1968.86 1056.55 L1968.01 1053.95 L1967.21 1051.32 L1966.47 1048.66 L1965.78 1045.97 L1965.14 1043.25 L1964.55 1040.52 L1964.02 1037.76 L1963.54 1034.97 L1963.11 1032.17 L1962.74 1029.36 L1962.43 1026.52 L1962.17 1023.67 L1961.96 1020.81 L1961.81 1017.94 L1961.72 1015.06 L1961.68 1012.17 L1961.7 1009.34 L1961.77 1006.52 L1961.91 1003.7 L1962.1 1000.87 L1962.34 998.05 L1962.65 995.23 L1963.01 992.41 L1963.43 989.6 L1963.9 986.8 L1964.44 984 L1965.02 981.22 L1965.67 978.44 L1966.37 975.68 L1967.12 972.94 L1967.93 970.21 L1968.79 967.49 L1969.71 964.8 L1970.68 962.13 L1971.7 959.47 L1972.78 956.85 L1973.9 954.24 L1975.08 951.67 L1976.31 949.12 L1977.59 946.6 L1978.91 944.11 L1980.29 941.66 L1981.71 939.23 L1983.18 936.84 L1984.69 934.49 L1986.25 932.18 L1987.86 929.9 L1989.5 927.66 L1991.19 925.47 L1992.92 923.32 L1994.7 921.21 L1996.51 919.14 L1998.36 917.12 L2000.24 915.15 L2002.17 913.23 L2004.13 911.35 L2006.12 909.53 L2008.15 907.76 L2010.21 906.03 L2012.3 904.37 L2014.42 902.75 L2016.57 901.19 L2018.75 899.69 L2020.95 898.24 L2023.18 896.85 L2025.43 895.52 L2027.71 894.25 L2030 893.04 L2032.32 891.89 L2034.66 890.79 L2037.01 889.76 L2039.38 888.8 L2041.77 887.89 L2044.17 887.05 L2046.58 886.27 L2049.01 885.56 L2051.44 884.91 L2053.88 884.32 L2056.33 883.8 L2058.79 883.35 L2061.25 882.96 L2063.71 882.64 L2066.17 882.38 L2068.64 882.19 L2071.1 882.06 L2073.57 882 L2076.03 882.01 L2078.48 882.09 L2080.93 882.23 L2083.37 882.44 L2085.8 882.71 L2088.22 883.05 L2090.63 883.45 L2093.03 883.92 L2095.41 884.46 L2097.78 885.06 L2100.13 885.73 L2102.46 886.46 L2104.78 887.25 L2107.07 888.11 L2109.34 889.03 L2111.59 890.01 L2113.81 891.06 L2116.01 892.17 L2118.18 893.33 L2120.33 894.56 L2122.44 895.85 L2124.53 897.19 L2126.58 898.6 L2128.6 900.06 L2130.59 901.58 L2132.54 903.15 L2134.46 904.78 L2136.34 906.46 L2138.18 908.19 L2139.98 909.98 L2141.75 911.81 L2143.47 913.7 L2145.15 915.64 L2146.79 917.62 L2148.38 919.65 L2149.93 921.73 L2151.44 923.85 L2152.9 926.01 L2154.31 928.22 L2155.68 930.46 L2156.99 932.75 L2158.26 935.07 L2159.48 937.43 L2160.65 939.83 L2161.76 942.26 L2162.83 944.73 L2163.84 947.22 L2164.8 949.75 L2165.7 952.31 L2166.56 954.89 L2167.35 957.5 L2168.1 960.13 L2168.79 962.79 L2169.42 965.47 L2170 968.17 L2170.52 970.88 L2170.98 973.62 L2171.39 976.37 L2171.74 979.13 L2172.03 981.91 L2172.27 984.7 L2172.45 987.5 L2172.57 990.3 L2172.63 993.11 L2172.63 996.01 L2172.57 999.03 L2172.44 1002.05 L2172.24 1005.07 L2171.97 1008.09 L2171.64 1011.1 L2171.23 1014.11 L2170.76 1017.11 L2170.22 1020.1 L2169.61 1023.08 L2168.94 1026.05 L2168.2 1029 L2167.39 1031.93 L2166.52 1034.85 L2165.58 1037.74 L2164.58 1040.61 L2163.51 1043.46 L2162.38 1046.28 L2161.19 1049.08 L2159.94 1051.84 L2158.62 1054.57 L2157.25 1057.27 L2155.81 1059.93 L2154.32 1062.56 L2152.77 1065.15 L2151.16 1067.69 L2149.5 1070.2 L2147.78 1072.66 L2146.01 1075.08 L2144.19 1077.45 L2142.31 1079.78 L2140.39 1082.05 L2138.41 1084.28 L2136.39 1086.45 L2134.32 1088.57 L2132.2 1090.63 L2130.05 1092.64 L2127.84 1094.59 L2125.6 1096.48 L2123.32 1098.32 L2120.99 1100.09 L2118.64 1101.8 L2116.24 1103.44 L2113.81 1105.02 L2111.35 1106.54 L2108.85 1107.99 L2106.33 1109.37 L2103.78 1110.68 L2101.2 1111.93 L2098.59 1113.11 L2095.97 1114.21 L2093.32 1115.25 L2090.65 1116.21 L2087.96 1117.1 L2085.25 1117.92 L2082.53 1118.66 L2079.79 1119.33 L2077.05 1119.93 L2074.29 1120.45 L2071.52 1120.9 L2068.75 1121.27 L2065.97 1121.56 L2063.18 1121.78 L2060.4 1121.93 L2057.61 1121.99 L2054.83 1121.99 L2052.05 1121.9 L2049.27 1121.74 L2046.5 1121.51 L2043.74 1121.19 L2040.98 1120.81 L2038.24 1120.34 L2035.52 1119.81 L2032.8 1119.19 L2030.11 1118.51 L2027.43 1117.75 L2024.77 1116.91 L2022.13 1116.01 L2019.52 1115.03 L2016.93 1113.98 L2014.37 1112.86 L2011.83 1111.67 L2009.33 1110.41 L2006.85 1109.08 L2004.41 1107.68 L2002 1106.22 L1999.62 1104.69 L1997.29 1103.09 L1994.99 1101.43 L1992.73 1099.71 L1990.51 1097.92 L1988.33 1096.08 L1986.2 1094.17 L1984.11 1092.21 L1982.07 1090.19 L1980.08 1088.12 L1978.13 1085.99 L1976.24 1083.8 L1974.39 1081.57 L1972.6 1079.28 L1970.86 1076.95 L1969.18 1074.56 L1967.55 1072.13 L1965.97 1069.66 L1964.46 1067.15 L1963 1064.59 L1961.6 1061.99 L1960.26 1059.36 L1958.98 1056.69 L1957.77 1053.98 L1956.61 1051.24 L1955.52 1048.47 L1954.49 1045.67 L1953.53 1042.85 L1952.63 1040 L1951.8 1037.12 L1951.03 1034.22 L1950.33 1031.3 L1949.69 1028.36 L1949.13 1025.41 L1948.63 1022.44 L1948.2 1019.46 L1947.83 1016.46 L1947.54 1013.46 L1947.31 1010.45 L1947.15 1007.43 L1947.06 1004.42 L1947.04 1001.43 L1947.09 998.56 L1947.2 995.7 L1947.38 992.84 L1947.63 989.99 L1947.94 987.14 L1948.32 984.3 L1948.77 981.48 L1949.28 978.66 L1949.86 975.86 L1950.5 973.07 L1951.21 970.3 L1951.98 967.54 L1952.82 964.81 L1953.72 962.1 L1954.69 959.41 L1955.71 956.74 L1956.8 954.1 L1957.95 951.49 L1959.16 948.9 L1960.43 946.35 L1961.76 943.83 L1963.15 941.34 L1964.59 938.89 L1966.1 936.47 L1967.65 934.09 L1969.27 931.74 L1970.94 929.44 L1972.66 927.18 L1974.43 924.96 L1976.26 922.79 L1978.13 920.66 L1980.06 918.58 L1982.03 916.54 L1984.05 914.56 L1986.11 912.62 L1988.22 910.73 L1990.38 908.9 L1992.57 907.12 L1994.81 905.39 L1997.09 903.72 L1999.4 902.1 L2001.75 900.55 L2004.14 899.04 L2006.56 897.6 L2009.02 896.22 L2011.5 894.9 L2014.02 893.64 L2016.56 892.44 L2019.14 891.3 L2021.74 890.23 L2024.36 889.22 L2027 888.27 L2029.67 887.39 L2032.36 886.57 L2035.06 885.82 L2037.79 885.14 L2040.52 884.52 L2043.27 883.97 L2046.04 883.49 L2048.81 883.07 L2051.59 882.72 L2054.38 882.44 L2057.18 882.23 L2059.98 882.09 L2062.78 882.01 L2065.58 882.01 L2068.38 882.07 L2071.18 882.2 L2073.98 882.4 L2076.77 882.66 L2079.55 883 L2082.33 883.4 L2085.1 883.87 L2087.85 884.4 L2090.59 885.01 L2093.31 885.68 L2096.02 886.42 L2098.71 887.22 L2101.38 888.09 L2104.03 889.02 L2106.66 890.02 L2109.27 891.08 L2111.84 892.2 L2114.39 893.39 L2116.92 894.64 L2119.41 895.95 L2121.87 897.32 L2124.3 898.75 L2126.69 900.24 L2129.05 901.79 L2131.37 903.39 L2133.66 905.05 L2135.9 906.77 L2138.11 908.54 L2140.27 910.36 L2142.39 912.24 L2144.46 914.16 L2146.49 916.14 L2148.47 918.17 L2150.41 920.24 L2152.29 922.36 L2154.13 924.52 L2155.91 926.73 L2157.64 928.99 L2159.32 931.28 L2160.95 933.61 L2162.52 935.99 L2164.03 938.4 L2165.49 940.85 L2166.89 943.33 L2168.23 945.84 L2169.51 948.39 L2170.73 950.97 L2171.9 953.58 L2173 956.21 L2174.03 958.87 L2175.01 961.56 L2175.92 964.26 L2176.77 966.99 L2177.56 969.74 L2178.28 972.51 L2178.94 975.3 L2179.53 978.1 L2180.05 980.91 L2180.51 983.74 L2180.91 986.57 L2181.23 989.42 L2181.49 992.27 L2181.69 995.13 L2181.81 997.99 L2181.87 1000.85 L2181.87 1003.77 L2181.79 1006.73 L2181.64 1009.68 L2181.41 1012.62 L2181.12 1015.56 L2180.75 1018.49 L2180.31 1021.41 L2179.8 1024.32 L2179.22 1027.22 L2178.57 1030.1 L2177.84 1032.96 L2177.05 1035.81 L2176.19 1038.63 L2175.26 1041.43 L2174.26 1044.21 L2173.2 1046.96 L2172.07 1049.69 L2170.87 1052.39 L2169.6 1055.05 L2168.27 1057.69 L2166.88 1060.29 L2165.42 1062.85 L2163.9 1065.38 L2162.32 1067.87 L2160.68 1070.32 L2158.98 1072.73 L2157.23 1075.09 L2155.41 1077.41 L2153.54 1079.69 L2151.61 1081.91 L2149.63 1084.09 L2147.6 1086.22 L2145.51 1088.3 L2143.38 1090.33 L2141.2 1092.3 L2138.96 1094.22 L2136.69 1096.08 L2134.36 1097.89 L2132 1099.63 L2129.59 1101.32 L2127.14 1102.95 L2124.66 1104.52 L2122.13 1106.02 L2119.57 1107.46 L2116.97 1108.84 L2114.35 1110.15 L2111.69 1111.4 L2109 1112.58 L2106.28 1113.69 L2103.54 1114.74 L2100.77 1115.72 L2097.98 1116.63 L2095.16 1117.47 L2092.33 1118.24 L2089.48 1118.93 L2086.61 1119.56 L2083.73 1120.12 L2080.84 1120.6 L2077.93 1121.02 L2075.02 1121.36 L2072.1 1121.63 L2069.17 1121.82 L2066.24 1121.95 L2063.31 1122 L2060.37 1121.98 L2057.44 1121.88 L2054.51 1121.71 L2051.59 1121.48 L2048.67 1121.16 L2045.76 1120.78 L2042.86 1120.32 L2039.98 1119.79 L2037.1 1119.19 L2034.25 1118.52 L2031.41 1117.78 L2028.59 1116.97 L2025.79 1116.09 L2023.01 1115.14 L2020.25 1114.12 L2017.53 1113.03 L2014.83 1111.88 L2012.15 1110.66 L2009.51 1109.37 L2006.9 1108.02 L2004.33 1106.61 L2001.79 1105.13 L1999.29 1103.58 L1996.82 1101.98 L1994.4 1100.32 L1992.02 1098.59 L1989.68 1096.81 L1987.38 1094.97 L1985.13 1093.08 L1982.93 1091.12 L1980.77 1089.12 L1978.67 1087.06 L1976.61 1084.95 L1974.61 1082.79 L1972.66 1080.58 L1970.77 1078.33 L1968.93 1076.02 L1967.15 1073.68 L1965.43 1071.29 L1963.76 1068.85 L1962.16 1066.38 L1960.62 1063.87 L1959.14 1061.32 L1957.72 1058.73 L1956.36 1056.11 L1955.07 1053.46 L1953.85 1050.77 L1952.69 1048.06 L1951.59 1045.32 L1950.57 1042.55 L1949.61 1039.76 L1948.72 1036.94 L1947.9 1034.1 L1947.15 1031.25 L1946.47 1028.37 L1945.86 1025.48 L1945.33 1022.58 L1944.86 1019.66 L1944.46 1016.74 L1944.14 1013.8 L1943.88 1010.86 L1943.7 1007.91 L1943.6 1004.95 L1943.56 1002 L1943.59 999.15 L1943.69 996.31 L1943.86 993.47 L1944.1 990.63 L1944.4 987.8 L1944.77 984.97 L1945.2 982.16 L1945.7 979.36 L1946.27 976.57 L1946.9 973.79 L1947.6 971.03 L1948.36 968.29 L1949.18 965.57 L1950.07 962.87 L1951.03 960.19 L1952.04 957.53 L1953.12 954.9 L1954.26 952.29 L1955.47 949.71 L1956.73 947.17 L1958.05 944.65 L1959.43 942.16 L1960.87 939.71 L1962.37 937.3 L1963.92 934.92 L1965.53 932.58 L1967.19 930.27 L1968.91 928.01 L1970.68 925.79 L1972.5 923.61 L1974.37 921.48 L1976.29 919.39 L1978.26 917.35 L1980.28 915.35 L1982.34 913.41 L1984.45 911.51 L1986.61 909.67 L1988.8 907.88 L1991.04 906.14 L1993.32 904.45 L1995.64 902.82 L1997.99 901.25 L2000.39 899.73 L2002.81 898.27 L2005.27 896.87 L2007.77 895.52 L2010.29 894.24 L2012.85 893.02 L2015.43 891.86 L2018.04 890.76 L2020.67 889.72 L2023.33 888.75 L2026.01 887.84 L2028.71 886.99 L2031.42 886.21 L2034.16 885.5 L2036.91 884.85 L2039.68 884.26 L2042.46 883.75 L2045.25 883.3 L2048.05 882.91 L2050.86 882.6 L2053.68 882.35 L2056.5 882.16 L2059.33 882.05 L2062.15 882 L2064.98 882.02 L2067.81 882.11 L2070.63 882.26 L2073.45 882.49 L2076.26 882.78 L2079.07 883.13 L2081.86 883.56 L2084.65 884.05 L2087.42 884.61 L2090.18 885.23 L2092.92 885.92 L2095.65 886.67 L2098.36 887.49 L2101.05 888.38 L2103.71 889.32 L2106.35 890.33 L2108.97 891.41 L2111.57 892.55 L2114.13 893.74 L2116.67 895 L2119.17 896.32 L2121.65 897.7 L2124.09 899.14 L2126.49 900.63 L2128.86 902.18 L2131.2 903.79 L2133.49 905.46 L2135.75 907.17 L2137.96 908.95 L2140.13 910.77 L2142.26 912.65 L2144.34 914.57 L2146.38 916.55 L2148.37 918.57 L2150.31 920.64 L2152.2 922.75 L2154.04 924.91 L2155.83 927.12 L2157.57 929.36 L2159.26 931.65 L2160.89 933.98 L2162.46 936.34 L2163.98 938.74 L2165.44 941.18 L2166.85 943.65 L2168.19 946.16 L2169.48 948.69 L2170.7 951.26 L2171.87 953.85 L2172.97 956.47 L2174.01 959.12 L2174.99 961.79 L2175.91 964.48 L2176.76 967.2 L2177.55 969.93 L2178.27 972.69 L2178.93 975.46 L2179.52 978.24 L2180.05 981.04 L2180.51 983.85 L2180.9 986.67 L2181.23 989.49 L2181.49 992.33 L2181.69 995.17 L2181.81 998.01 L2181.87 1000.86 L2181.87 1003.81 L2181.78 1006.83 L2181.62 1009.85 L2181.39 1012.86 L2181.08 1015.86 L2180.7 1018.86 L2180.24 1021.85 L2179.71 1024.82 L2179.1 1027.78 L2178.42 1030.72 L2177.66 1033.64 L2176.84 1036.54 L2175.94 1039.43 L2174.96 1042.28 L2173.92 1045.12 L2172.81 1047.92 L2171.63 1050.7 L2170.38 1053.44 L2169.06 1056.16 L2167.67 1058.83 L2166.21 1061.48 L2164.69 1064.08 L2163.11 1066.65 L2161.46 1069.17 L2159.75 1071.65 L2157.98 1074.09 L2156.15 1076.48 L2154.26 1078.83 L2152.31 1081.12 L2150.3 1083.37 L2148.24 1085.56 L2146.13 1087.7 L2143.96 1089.79 L2141.74 1091.82 L2139.47 1093.8 L2137.15 1095.71 L2134.78 1097.57 L2132.37 1099.37 L2129.92 1101.1 L2127.42 1102.77 L2124.88 1104.38 L2122.3 1105.92 L2119.68 1107.4 L2117.03 1108.81 L2114.34 1110.15 L2111.62 1111.43 L2108.87 1112.63 L2106.09 1113.77 L2103.29 1114.83 L2100.45 1115.82 L2097.6 1116.74 L2094.72 1117.59 L2091.82 1118.37 L2088.9 1119.07 L2085.97 1119.69 L2083.02 1120.25 L2080.06 1120.72 L2077.08 1121.13 L2074.1 1121.45 L2071.11 1121.7 L2068.12 1121.88 L2065.12 1121.98 L2062.12 1122 L2059.12 1121.95 L2056.12 1121.82 L2053.13 1121.61 L2050.15 1121.33 L2047.17 1120.97 L2044.2 1120.54 L2041.24 1120.03 L2038.3 1119.45 L2035.37 1118.8 L2032.46 1118.07 L2029.57 1117.26 L2026.7 1116.39 L2023.85 1115.44 L2021.03 1114.41 L2018.23 1113.32 L2015.46 1112.16 L2012.72 1110.93 L2010.02 1109.62 L2007.34 1108.25 L2004.71 1106.82 L2002.1 1105.31 L1999.54 1103.74 L1997.02 1102.11 L1994.54 1100.41 L1992.1 1098.65 L1989.7 1096.83 L1987.36 1094.95 L1985.06 1093.01 L1982.81 1091.02 L1980.61 1088.96 L1978.46 1086.85 L1976.37 1084.69 L1974.33 1082.48 L1972.34 1080.21 L1970.42 1077.89 L1968.55 1075.53 L1966.74 1073.12 L1965 1070.66 L1963.31 1068.17 L1961.69 1065.62 L1960.13 1063.04 L1958.64 1060.42 L1957.21 1057.77 L1955.85 1055.07 L1954.56 1052.35 L1953.33 1049.59 L1952.18 1046.8 L1951.09 1043.99 L1950.08 1041.14 L1949.14 1038.28 L1948.26 1035.39 L1947.47 1032.47 L1946.74 1029.54 L1946.09 1026.59 L1945.51 1023.63 L1945.01 1020.65 L1944.58 1017.66 L1944.23 1014.66 L1943.95 1011.66 L1943.74 1008.64 L1943.61 1005.62 L1943.56 1002.6 L1943.58 999.66 L1943.67 996.73 L1943.84 993.81 L1944.07 990.89 L1944.38 987.98 L1944.75 985.08 L1945.2 982.19 L1945.71 979.31 L1946.3 976.44 L1946.95 973.59 L1947.67 970.75 L1948.46 967.94 L1949.32 965.14 L1950.25 962.37 L1951.24 959.62 L1952.3 956.89 L1953.43 954.19 L1954.62 951.52 L1955.88 948.88 L1957.2 946.27 L1958.58 943.7 L1960.02 941.16 L1961.53 938.65 L1963.09 936.19 L1964.71 933.76 L1966.4 931.37 L1968.14 929.03 L1969.93 926.72 L1971.79 924.47 L1973.69 922.26 L1975.65 920.09 L1977.66 917.98 L1979.72 915.91 L1981.83 913.9 L1983.99 911.94 L1986.2 910.03 L1988.45 908.18 L1990.74 906.38 L1993.08 904.64 L1995.46 902.96 L1997.88 901.34 L2000.34 899.78 L2002.83 898.27 L2005.37 896.83 L2007.93 895.45 L2010.53 894.14 L2013.16 892.89 L2015.82 891.7 L2018.5 890.58 L2021.22 889.53 L2023.95 888.54 L2026.71 887.62 L2029.5 886.77 L2032.3 885.99 L2035.12 885.27 L2037.95 884.63 L2040.81 884.06 L2043.67 883.55 L2046.55 883.12 L2049.43 882.75" fill="none" stroke="#FF0000" stroke-width="4.2" stroke-linejoin="round" stroke-linecap="butt" />
<circle cx="2062" cy="1002" r="120" fill="none" stroke="#000" stroke-width="4" stroke-dasharray="10 2 6 2"/>
<text transform="translate(96.5 1211.8) scale(0.967 1)" font-size="67" fill="#000" text-anchor="start" font-family="'Liberation Serif','Times New Roman',serif" stroke="#000" stroke-width="0.8">(a)Swell</text>
<text transform="translate(528 1211.8) scale(0.964 1)" font-size="67" fill="#000" text-anchor="start" font-family="'Liberation Serif','Times New Roman',serif" stroke="#000" stroke-width="0.8">(b)Swell</text>
<text transform="translate(870.77 1214.5) scale(0.975 1)" font-size="67" fill="#000" text-anchor="start" font-family="'Liberation Serif','Times New Roman',serif" stroke="#000" stroke-width="0.8">(c)Normal</text>
<text transform="translate(1228.73 1211.8) scale(0.99 1)" font-size="67" fill="#000" text-anchor="start" font-family="'Liberation Serif','Times New Roman',serif" stroke="#000" stroke-width="0.8">(d)Sag+Har</text>
<text transform="translate(1599.14 1211.8) scale(0.986 1)" font-size="67" fill="#000" text-anchor="start" font-family="'Liberation Serif','Times New Roman',serif" stroke="#000" stroke-width="0.8">(e)Flicker</text>
<text transform="translate(1982.35 1211.7) scale(0.982 1)" font-size="67" fill="#000" text-anchor="start" font-family="'Liberation Serif','Times New Roman',serif" stroke="#000" stroke-width="0.8">(f)Sag</text>
</svg>
</body></html>
